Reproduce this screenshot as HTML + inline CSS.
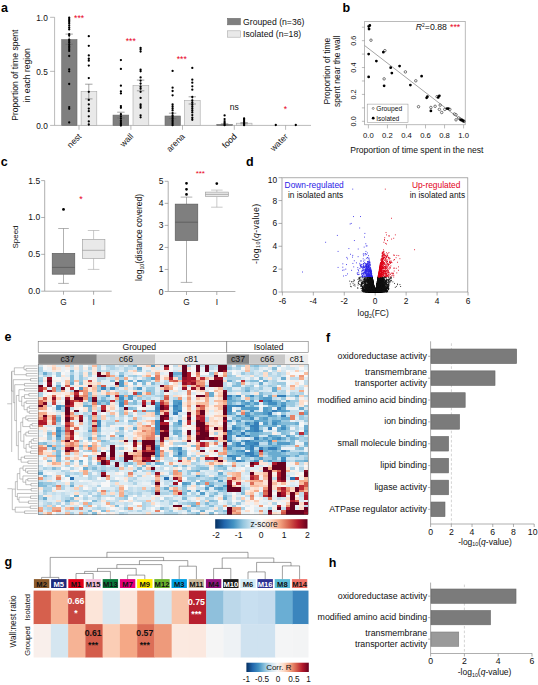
<!DOCTYPE html>
<html lang="en"><head><meta charset="utf-8"><title>Figure</title>
<style>html,body{margin:0;padding:0;background:#fff;}svg{display:block;}text{font-family:"Liberation Sans",Arial,sans-serif;}</style></head>
<body>
<svg width="538" height="685" viewBox="0 0 538 685">
<rect width="538" height="685" fill="#fff"/>
<text x="1.1" y="11.9" font-size="12.5" fill="#000" font-weight="bold">a</text>
<text x="17.6" y="75.2" font-size="8.6" text-anchor="middle" fill="#111" transform="rotate(-90 17.6 75.2)">Proportion of time spent</text>
<text x="29.6" y="75.2" font-size="8.6" text-anchor="middle" fill="#111" transform="rotate(-90 29.6 75.2)">in each region</text>
<path d="M54.6 17.3L54.6 125.4" stroke="#8c8c8c" stroke-width="0.6" fill="none" />
<path d="M54.6 125.4L311 125.4" stroke="#8c8c8c" stroke-width="0.6" fill="none" />
<path d="M50.1 125.4L54.6 125.4" stroke="#8c8c8c" stroke-width="0.6" fill="none" />
<text x="47.8" y="129" font-size="8.3" text-anchor="end" fill="#111">0.0</text>
<path d="M50.1 71.35L54.6 71.35" stroke="#8c8c8c" stroke-width="0.6" fill="none" />
<text x="47.8" y="74.95" font-size="8.3" text-anchor="end" fill="#111">0.5</text>
<path d="M50.1 17.3L54.6 17.3" stroke="#8c8c8c" stroke-width="0.6" fill="none" />
<text x="47.8" y="20.9" font-size="8.3" text-anchor="end" fill="#111">1.0</text>
<path d="M79 125.4L79 129.8" stroke="#8c8c8c" stroke-width="0.6" fill="none" />
<text x="82" y="137" font-size="8.6" text-anchor="end" fill="#111" transform="rotate(-45 82 137)">nest</text>
<path d="M130.9 125.4L130.9 129.8" stroke="#8c8c8c" stroke-width="0.6" fill="none" />
<text x="133.9" y="137" font-size="8.6" text-anchor="end" fill="#111" transform="rotate(-45 133.9 137)">wall</text>
<path d="M182.5 125.4L182.5 129.8" stroke="#8c8c8c" stroke-width="0.6" fill="none" />
<text x="185.5" y="137" font-size="8.6" text-anchor="end" fill="#111" transform="rotate(-45 185.5 137)">arena</text>
<path d="M234.3 125.4L234.3 129.8" stroke="#8c8c8c" stroke-width="0.6" fill="none" />
<text x="237.3" y="137" font-size="8.6" text-anchor="end" fill="#111" transform="rotate(-45 237.3 137)">food</text>
<path d="M285.6 125.4L285.6 129.8" stroke="#8c8c8c" stroke-width="0.6" fill="none" />
<text x="288.6" y="137" font-size="8.6" text-anchor="end" fill="#111" transform="rotate(-45 288.6 137)">water</text>
<rect x="61.7" y="39.6" width="15.3" height="85.8" fill="#7f7f7f" stroke="#6a6a6a" stroke-width="0.6"/>
<rect x="81.1" y="91.4" width="15.7" height="34" fill="#e9e9e9" stroke="#a9a9a9" stroke-width="0.6"/>
<rect x="113" y="115.1" width="15.7" height="10.3" fill="#7f7f7f" stroke="#6a6a6a" stroke-width="0.6"/>
<rect x="133" y="85.6" width="15.8" height="39.8" fill="#e9e9e9" stroke="#a9a9a9" stroke-width="0.6"/>
<rect x="165" y="116" width="15.4" height="9.4" fill="#7f7f7f" stroke="#6a6a6a" stroke-width="0.6"/>
<rect x="184.5" y="100.4" width="15.7" height="25" fill="#e9e9e9" stroke="#a9a9a9" stroke-width="0.6"/>
<rect x="216.8" y="124.4" width="15.6" height="1" fill="#7f7f7f" stroke="#6a6a6a" stroke-width="0.6"/>
<rect x="236.3" y="123.2" width="15.7" height="2.2" fill="#e9e9e9" stroke="#a9a9a9" stroke-width="0.6"/>
<path d="M69.2 34.1V44.3M65.5 34.1h7.4M65.5 44.3h7.4" stroke="#666" stroke-width="0.6" fill="none"/>
<path d="M88.8 84.2V98.9M85.1 84.2h7.4M85.1 98.9h7.4" stroke="#666" stroke-width="0.6" fill="none"/>
<path d="M120.9 112.2V118M117.2 112.2h7.4M117.2 118h7.4" stroke="#666" stroke-width="0.6" fill="none"/>
<path d="M140.6 80.1V90.8M136.9 80.1h7.4M136.9 90.8h7.4" stroke="#666" stroke-width="0.6" fill="none"/>
<path d="M172.6 113.2V118.6M168.9 113.2h7.4M168.9 118.6h7.4" stroke="#666" stroke-width="0.6" fill="none"/>
<path d="M192.3 96.8V104M188.6 96.8h7.4M188.6 104h7.4" stroke="#666" stroke-width="0.6" fill="none"/>
<path d="M224.6 123.8V125M220.9 123.8h7.4M220.9 125h7.4" stroke="#666" stroke-width="0.6" fill="none"/>
<path d="M244.1 122.6V123.9M240.4 122.6h7.4M240.4 123.9h7.4" stroke="#666" stroke-width="0.6" fill="none"/>
<path d="M69.2 17.77h0M69.2 19.2h0M69.2 20.63h0M69.2 21.86h0M69.2 23.29h0M69.2 25.33h0M69.2 27.38h0M69.2 29.42h0M69.2 34.13h0M69.2 35.56h0M69.2 39.65h0M69.2 41.08h0M69.2 42.71h0M69.2 44.76h0M69.2 46.39h0M69.2 47.82h0M69.2 49.26h0M69.2 50.89h0M69.2 56h0M69.2 69.29h0M69.2 71.34h0M69.2 84.01h0M69.2 107.12h0M69.2 108.75h0M69.2 122.45h0M88.8 36.17h0M88.8 45.78h0M88.8 55.39h0M88.8 58.66h0M88.8 60.71h0M88.8 65.61h0M88.8 78.08h0M88.8 91.78h0M88.8 99.96h0M88.8 104.46h0M88.8 108.55h0M88.8 111.21h0M88.8 116.32h0M88.8 121.43h0M88.8 124.5h0M120.9 60.09h0M120.9 68.88h0M120.9 85.65h0M120.9 91.37h0M120.9 93.42h0M120.9 106.09h0M120.9 107.73h0M120.9 114.27h0M120.9 116.32h0M120.9 118.36h0M120.9 120.41h0M120.9 122.04h0M120.9 123.47h0M120.9 124.5h0M120.9 125.52h0M140.6 47.82h0M140.6 49.26h0M140.6 51.5h0M140.6 69.7h0M140.6 71.34h0M140.6 77.47h0M140.6 80.54h0M140.6 83.6h0M140.6 86.67h0M140.6 88.72h0M140.6 91.78h0M140.6 97.92h0M140.6 104.46h0M140.6 106.09h0M140.6 107.73h0M140.6 115.3h0M140.6 117.34h0M172.6 70.93h0M172.6 87.65h0M172.6 91h0M172.6 95.35h0M172.6 104.38h0M172.6 106.39h0M172.6 108.4h0M172.6 110.4h0M172.6 113.08h0M172.6 115.42h0M172.6 117.1h0M172.6 118.77h0M172.6 120.44h0M172.6 121.78h0M172.6 123.12h0M172.6 124.12h0M172.6 125.13h0M192.3 67.92h0M192.3 79.63h0M192.3 82.64h0M192.3 86.32h0M192.3 89.66h0M192.3 97.02h0M192.3 100.37h0M192.3 102.38h0M192.3 104.38h0M192.3 106.39h0M192.3 108.4h0M192.3 110.4h0M192.3 112.41h0M192.3 115.09h0M192.3 117.77h0M192.3 119.77h0M224.6 115.42h0M224.6 119.1h0M224.6 121.11h0M224.6 122.45h0M224.6 123.45h0M224.6 124.12h0M224.6 124.79h0M224.6 125.13h0M244.1 118.43h0M244.1 119.77h0M244.1 121.11h0M244.1 122.11h0M244.1 123.12h0M244.1 123.79h0M244.1 124.46h0M244.1 125.13h0M275.8 125h0M295.8 125h0" stroke="#000" stroke-width="2.3" stroke-linecap="round" fill="none"/>
<text x="79.1" y="21.3" font-size="8.6" text-anchor="middle" fill="#e8001c">***</text>
<text x="130.8" y="43.6" font-size="8.6" text-anchor="middle" fill="#e8001c">***</text>
<text x="181.8" y="62.4" font-size="8.6" text-anchor="middle" fill="#e8001c">***</text>
<text x="234.3" y="109.7" font-size="8.6" text-anchor="middle" fill="#111">ns</text>
<text x="285.5" y="111.5" font-size="8.6" text-anchor="middle" fill="#e8001c">*</text>
<rect x="227.6" y="18.4" width="12.7" height="6.4" fill="#7f7f7f" stroke="#6a6a6a" stroke-width="0.6"/>
<text x="243" y="25" font-size="8.68" fill="#111">Grouped (n=36)</text>
<rect x="227.6" y="30.8" width="12.7" height="6.4" fill="#e9e9e9" stroke="#a9a9a9" stroke-width="0.6"/>
<text x="243" y="37.2" font-size="8.68" fill="#111">Isolated (n=18)</text>
<text x="342.6" y="11.8" font-size="12.5" fill="#000" font-weight="bold">b</text>
<rect x="364.7" y="21.6" width="100.5" height="103.2" fill="none" stroke="#8e8e8e" stroke-width="0.6"/>
<text x="330" y="71.1" font-size="8.45" text-anchor="middle" fill="#111" transform="rotate(-90 330 71.1)">Proportion of time</text>
<text x="340.2" y="71.2" font-size="8.5" text-anchor="middle" fill="#111" transform="rotate(-90 340.2 71.2)">spent near the wall</text>
<path d="M361.9 121.3L364.7 121.3" stroke="#8e8e8e" stroke-width="0.6" fill="none" />
<text x="356.4" y="121.3" font-size="7.3" text-anchor="middle" fill="#111" transform="rotate(-90 356.4 121.3)">0.0</text>
<path d="M361.9 107.86L364.7 107.86" stroke="#8e8e8e" stroke-width="0.6" fill="none" />
<path d="M361.9 94.42L364.7 94.42" stroke="#8e8e8e" stroke-width="0.6" fill="none" />
<text x="356.4" y="94.42" font-size="7.3" text-anchor="middle" fill="#111" transform="rotate(-90 356.4 94.42)">0.2</text>
<path d="M361.9 80.98L364.7 80.98" stroke="#8e8e8e" stroke-width="0.6" fill="none" />
<path d="M361.9 67.54L364.7 67.54" stroke="#8e8e8e" stroke-width="0.6" fill="none" />
<text x="356.4" y="67.54" font-size="7.3" text-anchor="middle" fill="#111" transform="rotate(-90 356.4 67.54)">0.4</text>
<path d="M361.9 54.1L364.7 54.1" stroke="#8e8e8e" stroke-width="0.6" fill="none" />
<path d="M361.9 40.66L364.7 40.66" stroke="#8e8e8e" stroke-width="0.6" fill="none" />
<text x="356.4" y="40.66" font-size="7.3" text-anchor="middle" fill="#111" transform="rotate(-90 356.4 40.66)">0.6</text>
<path d="M361.9 27.22L364.7 27.22" stroke="#8e8e8e" stroke-width="0.6" fill="none" />
<path d="M368.4 124.8L368.4 128.4" stroke="#8e8e8e" stroke-width="0.6" fill="none" />
<text x="368.4" y="137.9" font-size="7.7" text-anchor="middle" fill="#111">0.0</text>
<path d="M387.44 124.8L387.44 128.4" stroke="#8e8e8e" stroke-width="0.6" fill="none" />
<text x="387.44" y="137.9" font-size="7.7" text-anchor="middle" fill="#111">0.2</text>
<path d="M406.48 124.8L406.48 128.4" stroke="#8e8e8e" stroke-width="0.6" fill="none" />
<text x="406.48" y="137.9" font-size="7.7" text-anchor="middle" fill="#111">0.4</text>
<path d="M425.52 124.8L425.52 128.4" stroke="#8e8e8e" stroke-width="0.6" fill="none" />
<text x="425.52" y="137.9" font-size="7.7" text-anchor="middle" fill="#111">0.6</text>
<path d="M444.56 124.8L444.56 128.4" stroke="#8e8e8e" stroke-width="0.6" fill="none" />
<text x="444.56" y="137.9" font-size="7.7" text-anchor="middle" fill="#111">0.8</text>
<path d="M463.6 124.8L463.6 128.4" stroke="#8e8e8e" stroke-width="0.6" fill="none" />
<text x="463.6" y="137.9" font-size="7.7" text-anchor="middle" fill="#111">1.0</text>
<text x="416.8" y="152.7" font-size="8.6" text-anchor="middle" fill="#111">Proportion of time spent in the nest</text>
<path d="M364.7 45.6L464.9 122.9" stroke="#666" stroke-width="0.6" fill="none" />
<circle cx="370.97" cy="40.2" r="1.25" fill="#fff" stroke="#222" stroke-width="0.6"/><circle cx="384.89" cy="50.64" r="1.25" fill="#fff" stroke="#222" stroke-width="0.6"/><circle cx="384.12" cy="78.86" r="1.25" fill="#fff" stroke="#222" stroke-width="0.6"/><circle cx="405.38" cy="71.9" r="1.25" fill="#fff" stroke="#222" stroke-width="0.6"/><circle cx="415.81" cy="80.79" r="1.25" fill="#fff" stroke="#222" stroke-width="0.6"/><circle cx="418.52" cy="106.69" r="1.25" fill="#fff" stroke="#222" stroke-width="0.6"/><circle cx="430.89" cy="107.46" r="1.25" fill="#fff" stroke="#222" stroke-width="0.6"/><circle cx="435.14" cy="106.3" r="1.25" fill="#fff" stroke="#222" stroke-width="0.6"/><circle cx="437.07" cy="96.64" r="1.25" fill="#fff" stroke="#222" stroke-width="0.6"/><circle cx="439.39" cy="109.39" r="1.25" fill="#fff" stroke="#222" stroke-width="0.6"/><circle cx="440.17" cy="105.14" r="1.25" fill="#fff" stroke="#222" stroke-width="0.6"/><circle cx="441.71" cy="112.49" r="1.25" fill="#fff" stroke="#222" stroke-width="0.6"/><circle cx="444.8" cy="109.39" r="1.25" fill="#fff" stroke="#222" stroke-width="0.6"/><circle cx="449.83" cy="109.39" r="1.25" fill="#fff" stroke="#222" stroke-width="0.6"/><circle cx="454.47" cy="114.03" r="1.25" fill="#fff" stroke="#222" stroke-width="0.6"/><circle cx="456.01" cy="114.8" r="1.25" fill="#fff" stroke="#222" stroke-width="0.6"/><circle cx="456.01" cy="119.83" r="1.25" fill="#fff" stroke="#222" stroke-width="0.6"/><circle cx="458.72" cy="117.9" r="1.25" fill="#fff" stroke="#222" stroke-width="0.6"/><circle cx="460.27" cy="119.06" r="1.25" fill="#fff" stroke="#222" stroke-width="0.6"/><circle cx="461.43" cy="119.83" r="1.25" fill="#fff" stroke="#222" stroke-width="0.6"/><circle cx="462.59" cy="120.6" r="1.25" fill="#fff" stroke="#222" stroke-width="0.6"/><circle cx="464.13" cy="121.38" r="1.25" fill="#fff" stroke="#222" stroke-width="0.6"/>
<path d="M368.65 26.29h0M369.81 25.51h0M369.04 28.99h0M368.65 54.12h0M376.39 61.07h0M383.34 52.18h0M390.69 67.65h0M391.85 73.06h0M399.58 66.1h0M368.65 76.92h0M384.12 85.81h0M410.4 85.04h0M421.61 76.15h0M426.64 97.8h0M427.41 96.64h0M430.89 110.94h0M439.39 95.86h0M438.23 97.41h0M447.12 108.62h0M448.28 108.62h0M460.65 119.83h0M462.2 120.22h0M463.36 120.99h0" stroke="#000" stroke-width="2.8" stroke-linecap="round" fill="none"/>
<text x="415.8" y="30.3" font-size="8.7" fill="#111"><tspan font-style="italic">R</tspan><tspan font-size="5" dy="-3.2">2</tspan><tspan dy="3.2">=0.88</tspan> <tspan fill="#e8001c" dx="0.8">***</tspan></text>
<rect x="367.2" y="104.1" width="40.8" height="18.2" fill="#fff" stroke="#8e8e8e" stroke-width="0.5"/>
<circle cx="373.2" cy="108.4" r="1" fill="#fff" stroke="#333" stroke-width="0.5"/>
<path d="M373.2 118.2h0" stroke="#000" stroke-width="2.8" stroke-linecap="round" fill="none"/>
<text x="376.2" y="111.2" font-size="7.6" fill="#111" textLength="26" lengthAdjust="spacingAndGlyphs">Grouped</text>
<text x="376.2" y="120.9" font-size="7.6" fill="#111" textLength="23.1" lengthAdjust="spacingAndGlyphs">Isolated</text>
<text x="0.7" y="166.4" font-size="12.5" fill="#000" font-weight="bold">c</text>
<path d="M44.7 180.6L44.7 291.2" stroke="#8c8c8c" stroke-width="0.7" fill="none" />
<path d="M44.7 291.2L111.7 291.2" stroke="#8c8c8c" stroke-width="0.7" fill="none" />
<path d="M41.2 291.2L44.7 291.2" stroke="#8c8c8c" stroke-width="0.7" fill="none" />
<text x="40.2" y="294.2" font-size="8.5" text-anchor="end" fill="#111">0.0</text>
<path d="M41.2 254.33L44.7 254.33" stroke="#8c8c8c" stroke-width="0.7" fill="none" />
<text x="40.2" y="257.33" font-size="8.5" text-anchor="end" fill="#111">0.5</text>
<path d="M41.2 217.47L44.7 217.47" stroke="#8c8c8c" stroke-width="0.7" fill="none" />
<text x="40.2" y="220.47" font-size="8.5" text-anchor="end" fill="#111">1.0</text>
<path d="M41.2 180.6L44.7 180.6" stroke="#8c8c8c" stroke-width="0.7" fill="none" />
<text x="40.2" y="183.6" font-size="8.5" text-anchor="end" fill="#111">1.5</text>
<path d="M63.5 291.2L63.5 294.7" stroke="#8c8c8c" stroke-width="0.7" fill="none" />
<text x="63.5" y="305.2" font-size="8.3" text-anchor="middle" fill="#111">G</text>
<path d="M93.6 291.2L93.6 294.7" stroke="#8c8c8c" stroke-width="0.7" fill="none" />
<text x="93.6" y="305.2" font-size="8.3" text-anchor="middle" fill="#111">I</text>
<text x="17.9" y="237" font-size="8.0" text-anchor="middle" fill="#111" transform="rotate(-90 17.9 237)">Speed</text>
<path d="M63.5 228.5V253.3M63.5 274.2V283.4M58.2 228.5H68.8M58.2 283.4H68.8" stroke="#7d7d7d" stroke-width="0.6" fill="none"/>
<rect x="52.2" y="253.3" width="22.6" height="20.9" fill="#7f7f7f" stroke="#555" stroke-width="0.6"/>
<path d="M52.2 267.4L74.8 267.4" stroke="#555" stroke-width="0.7" fill="none" />
<path d="M93.6 230.5V239.3M93.6 258.4V269.4M87.8 230.5H99.4M87.8 269.4H99.4" stroke="#a5a5a5" stroke-width="0.6" fill="none"/>
<rect x="82.3" y="239.3" width="22.6" height="19.1" fill="#e9e9e9" stroke="#9a9a9a" stroke-width="0.6"/>
<path d="M82.3 250.3L104.9 250.3" stroke="#9a9a9a" stroke-width="0.7" fill="none" />
<path d="M63.5 209.4h0" stroke="#000" stroke-width="2.8" stroke-linecap="round" fill="none"/>
<text x="81" y="202.2" font-size="9" text-anchor="middle" fill="#e8001c">*</text>
<path d="M168.2 181.3L168.2 291.5" stroke="#8c8c8c" stroke-width="0.7" fill="none" />
<path d="M168.2 291.5L235.4 291.5" stroke="#8c8c8c" stroke-width="0.7" fill="none" />
<path d="M164.7 291.5L168.2 291.5" stroke="#8c8c8c" stroke-width="0.7" fill="none" />
<text x="163.6" y="294.5" font-size="8.5" text-anchor="end" fill="#111">0</text>
<path d="M164.7 269.46L168.2 269.46" stroke="#8c8c8c" stroke-width="0.7" fill="none" />
<text x="163.6" y="272.46" font-size="8.5" text-anchor="end" fill="#111">1</text>
<path d="M164.7 247.42L168.2 247.42" stroke="#8c8c8c" stroke-width="0.7" fill="none" />
<text x="163.6" y="250.42" font-size="8.5" text-anchor="end" fill="#111">2</text>
<path d="M164.7 225.38L168.2 225.38" stroke="#8c8c8c" stroke-width="0.7" fill="none" />
<text x="163.6" y="228.38" font-size="8.5" text-anchor="end" fill="#111">3</text>
<path d="M164.7 203.34L168.2 203.34" stroke="#8c8c8c" stroke-width="0.7" fill="none" />
<text x="163.6" y="206.34" font-size="8.5" text-anchor="end" fill="#111">4</text>
<path d="M164.7 181.3L168.2 181.3" stroke="#8c8c8c" stroke-width="0.7" fill="none" />
<text x="163.6" y="184.3" font-size="8.5" text-anchor="end" fill="#111">5</text>
<path d="M186.5 291.5L186.5 295" stroke="#8c8c8c" stroke-width="0.7" fill="none" />
<text x="186.5" y="305.2" font-size="8.3" text-anchor="middle" fill="#111">G</text>
<path d="M216.8 291.5L216.8 295" stroke="#8c8c8c" stroke-width="0.7" fill="none" />
<text x="216.8" y="305.2" font-size="8.3" text-anchor="middle" fill="#111">I</text>
<text x="142.0" y="237.4" font-size="8.5" fill="#111" text-anchor="middle" textLength="87" lengthAdjust="spacing" transform="rotate(-90 142 237.4)">log<tspan font-size="5.3" dy="1.6">10</tspan><tspan dy="-1.6">(distance covered)</tspan></text>
<path d="M186.5 197.1V204.1M186.5 240.5V282.4M180.7 197.1H192.3M180.7 282.4H192.3" stroke="#7d7d7d" stroke-width="0.6" fill="none"/>
<rect x="175.2" y="204.1" width="22.6" height="36.4" fill="#7f7f7f" stroke="#555" stroke-width="0.6"/>
<path d="M175.2 222.2L197.8 222.2" stroke="#555" stroke-width="0.7" fill="none" />
<path d="M216.85 190.1V192.1M216.85 196.6V207.2M211.1 190.1H222.6M211.1 207.2H222.6" stroke="#a5a5a5" stroke-width="0.6" fill="none"/>
<rect x="205.3" y="192.1" width="23.1" height="4.5" fill="#e9e9e9" stroke="#9a9a9a" stroke-width="0.6"/>
<path d="M205.3 194.4L228.4 194.4" stroke="#9a9a9a" stroke-width="0.7" fill="none" />
<path d="M186.5 183.3h0M186.5 189.3h0M186.5 194.4h0M216.8 183.6h0" stroke="#000" stroke-width="2.8" stroke-linecap="round" fill="none"/>
<text x="200.3" y="176.2" font-size="8" text-anchor="middle" fill="#e8001c">***</text>
<text x="245.9" y="166.4" font-size="12.5" fill="#000" font-weight="bold">d</text>
<rect x="282" y="177.8" width="185.8" height="114.2" fill="none" stroke="#8a8a8a" stroke-width="0.7"/>
<path d="M278.5 292L282 292" stroke="#8c8c8c" stroke-width="0.7" fill="none" />
<text x="277.2" y="295" font-size="8.4" text-anchor="end" fill="#111">0</text>
<path d="M278.5 269.14L282 269.14" stroke="#8c8c8c" stroke-width="0.7" fill="none" />
<text x="277.2" y="272.14" font-size="8.4" text-anchor="end" fill="#111">2</text>
<path d="M278.5 246.28L282 246.28" stroke="#8c8c8c" stroke-width="0.7" fill="none" />
<text x="277.2" y="249.28" font-size="8.4" text-anchor="end" fill="#111">4</text>
<path d="M278.5 223.42L282 223.42" stroke="#8c8c8c" stroke-width="0.7" fill="none" />
<text x="277.2" y="226.42" font-size="8.4" text-anchor="end" fill="#111">6</text>
<path d="M278.5 200.56L282 200.56" stroke="#8c8c8c" stroke-width="0.7" fill="none" />
<text x="277.2" y="203.56" font-size="8.4" text-anchor="end" fill="#111">8</text>
<path d="M278.5 177.7L282 177.7" stroke="#8c8c8c" stroke-width="0.7" fill="none" />
<text x="277.2" y="182.9" font-size="8.4" text-anchor="end" fill="#111">10</text>
<path d="M282.38 292L282.38 295.5" stroke="#8c8c8c" stroke-width="0.7" fill="none" />
<text x="282.38" y="304.4" font-size="8.4" text-anchor="middle" fill="#111">-6</text>
<path d="M313.32 292L313.32 295.5" stroke="#8c8c8c" stroke-width="0.7" fill="none" />
<text x="313.32" y="304.4" font-size="8.4" text-anchor="middle" fill="#111">-4</text>
<path d="M344.26 292L344.26 295.5" stroke="#8c8c8c" stroke-width="0.7" fill="none" />
<text x="344.26" y="304.4" font-size="8.4" text-anchor="middle" fill="#111">-2</text>
<path d="M375.2 292L375.2 295.5" stroke="#8c8c8c" stroke-width="0.7" fill="none" />
<text x="375.2" y="304.4" font-size="8.4" text-anchor="middle" fill="#111">0</text>
<path d="M406.14 292L406.14 295.5" stroke="#8c8c8c" stroke-width="0.7" fill="none" />
<text x="406.14" y="304.4" font-size="8.4" text-anchor="middle" fill="#111">2</text>
<path d="M437.08 292L437.08 295.5" stroke="#8c8c8c" stroke-width="0.7" fill="none" />
<text x="437.08" y="304.4" font-size="8.4" text-anchor="middle" fill="#111">4</text>
<path d="M468.02 292L468.02 295.5" stroke="#8c8c8c" stroke-width="0.7" fill="none" />
<text x="468.02" y="304.4" font-size="8.4" text-anchor="middle" fill="#111">6</text>
<text x="373.2" y="316.0" font-size="8.5" fill="#111" text-anchor="middle">log<tspan font-size="5.3" dy="1.6">2</tspan><tspan dy="-1.6">(FC)</tspan></text>
<text x="258.6" y="233.9" font-size="8.8" fill="#111" text-anchor="middle" textLength="60" lengthAdjust="spacing" transform="rotate(-90 258.6 233.9)">-log<tspan font-size="5.4" dy="1.6">10</tspan><tspan dy="-1.6">(</tspan><tspan font-style="italic">q</tspan>-value)</text>
<text x="284.6" y="187.6" font-size="8.4" fill="#2a22e6">Down-regulated</text>
<text x="287.9" y="198.4" font-size="8.3" fill="#111">in isolated ants</text>
<text x="411.9" y="187.6" font-size="8.4" fill="#e2001a">Up-regulated</text>
<text x="409.7" y="198.4" font-size="8.3" fill="#111">in isolated ants</text>
<path d="M373.77 291.6h0M380.38 286.99h0M380.97 291.55h0M384.48 290.68h0M365.78 289.05h0M373.5 291.46h0M376.92 286.79h0M372.1 290.97h0M377.12 291.47h0M377.69 288.56h0M370.7 284h0M374.93 291.31h0M374.61 291.6h0M383.36 284.88h0M367.18 284.34h0M371.77 288.29h0M374.19 290.61h0M385.54 287.07h0M375.78 291.59h0M373.76 291.59h0M375.12 291.6h0M376.22 288.57h0M378.27 291.28h0M374.53 291.57h0M381 284.61h0M383.36 278.97h0M374.37 290.25h0M382.22 288.28h0M381.49 291.58h0M376.05 291.6h0M378.39 290.49h0M364 290.86h0M375.27 291.6h0M385.43 283.34h0M377.42 291.29h0M376.77 285.09h0M372.11 291.6h0M374.26 291.5h0M373.48 286.69h0M371.65 291.46h0M380.39 291.6h0M374.41 289.13h0M373.96 287.72h0M371.78 282.8h0M371.74 291.11h0M379.87 289.41h0M383.65 291.42h0M368.17 291.53h0M367.98 290.32h0M378.01 277.93h0M371.19 290.21h0M382.41 290.61h0M374.1 291.55h0M372.62 291.17h0M368.08 289.29h0M369.49 287.83h0M381.16 291.6h0M376.24 289.78h0M379.84 286.37h0M374.64 291.58h0M376.81 289.98h0M375.97 290.87h0M368.53 288.86h0M368.99 280.89h0M384.69 280.28h0M385.19 291.41h0M377.22 291.59h0M370.48 291.55h0M376.93 285.61h0M371.36 290.6h0M380.24 290.33h0M375.01 291.57h0M370.23 288.57h0M376 291.32h0M383.94 291.31h0M368.87 291.59h0M383.15 291.56h0M367.88 291.59h0M373.92 291.18h0M371.44 291.34h0M379.89 291.53h0M376.15 291.44h0M378.39 288.98h0M377.45 291.33h0M366.19 291.39h0M370.89 290.4h0M376.27 291.6h0M375.44 291.6h0M369.09 291.07h0M375.43 291.6h0M375.7 291.53h0M380.66 286.84h0M377.2 291.33h0M379.95 291.6h0M373.84 290.84h0M375.17 291.3h0M371.4 291.56h0M376.49 288.02h0M378.12 291.56h0M371.54 287.38h0M377.92 283.85h0M375.13 291.48h0M383.53 291.56h0M376.08 290.11h0M381.62 286.65h0M371.35 286.74h0M377.98 285.05h0M377.62 291.59h0M374.22 290.52h0M376.9 290.55h0M365.23 287.52h0M374.75 291.6h0M372.52 279.63h0M376.59 291.6h0M381.68 290.16h0M378.44 280.77h0M365.92 291.55h0M367.32 290.85h0M371.33 287.93h0M378.97 291.59h0M373.21 284.99h0M372.22 278.68h0M375.33 291.6h0M377.8 290.84h0M372.5 291.43h0M372.58 290.97h0M376.84 285.57h0M377.53 290.94h0M378.66 287.52h0M382.24 287.93h0M380.55 291.58h0M377.71 289.56h0M382.82 290.33h0M375.25 291.2h0M381.77 291.6h0M378.18 287.85h0M379.35 291.45h0M374.63 291.6h0M374.38 290.89h0M376.17 290.45h0M376.06 291.03h0M379.99 284.9h0M379.91 291h0M383.63 291.6h0M383.54 290.39h0M381.49 291.6h0M372.14 291.52h0M377.86 291.41h0M370.47 291.39h0M376.88 284.51h0M378.79 289.77h0M382.09 288.47h0M378.67 291.59h0M388.1 284.51h0M378.71 291.6h0M374.24 291.6h0M378.9 279.8h0M377.79 289.81h0M383.91 288.35h0M376.3 288.93h0M375.37 291.6h0M371.44 277.26h0M372.84 289.14h0M375.88 291.53h0M365.85 279.73h0M376.36 290.93h0M388.51 284.78h0M369.32 291.48h0M372.24 284.91h0M379.08 290.24h0M375.65 291.2h0M375.23 291.51h0M383.96 290.61h0M368.48 277.07h0M370.29 291.47h0M375.27 291.27h0M374.02 286.6h0M379.7 291.32h0M367.94 290.02h0M379.25 280.37h0M372.72 288.95h0M376.28 291.54h0M374.97 291.6h0M370.25 291.5h0M373.77 290.69h0M377.57 289.17h0M376.76 288.82h0M372.78 291.53h0M374.7 291.34h0M373.17 291.22h0M378.33 288.73h0M377.59 284.77h0M373.37 291.2h0M368.81 291.51h0M376.08 289.45h0M376.89 290.91h0M380.64 290.9h0M377.07 289.65h0M375.13 291.6h0M369.49 290.96h0M381.65 279.83h0M380.85 282.96h0M371.13 281.81h0M378.58 291.56h0M379.29 289.14h0M373.6 291.6h0M376.2 291.6h0M369.78 291.56h0M370.45 291.54h0M371.64 291.57h0M387.71 284.45h0M380.08 291.33h0M374.6 291.22h0M368 284.85h0M373.26 289.51h0M371.95 291.6h0M373.39 283.19h0M382.25 291.6h0M372.1 290.57h0M387 287.55h0M375.88 291.47h0M379.31 286.35h0M372.01 290.14h0M383.87 291.31h0M375.12 291.53h0M375.31 291.52h0M378.61 282.27h0M368.17 291.54h0M377.58 287.91h0M376.54 291.36h0M380.35 278.83h0M379.01 291.2h0M370.31 283.45h0M380.15 286.04h0M366.17 290.95h0M374.93 291.22h0M375.08 291.59h0M374.37 290.69h0M371.47 288.43h0M373.84 291.6h0M377.84 291.57h0M379.82 291.6h0M366.94 277.31h0M375.03 291.58h0M370.96 291.6h0M366.87 291.57h0M375.95 289.95h0M372.2 288.11h0M375.79 290.8h0M376.56 291.6h0M375.01 291.58h0M377.14 285.12h0M383.87 291.6h0M372.4 291.6h0M368.73 291.46h0M370.06 291.26h0M379.47 282.68h0M372.51 291.6h0M373.17 289.41h0M378.67 277.92h0M385.2 290.79h0M376.19 291.31h0M378.23 288.68h0M374.94 291.59h0M373.7 289.8h0M375.37 291.37h0M377.74 282.11h0M375.47 291.42h0M376.99 291.4h0M378.33 290.78h0M369.56 291.58h0M377.71 279.17h0M377.72 291.44h0M376.91 290.95h0M369.71 282.45h0M383.08 291.37h0M383.48 290.72h0M373.21 288.53h0M370.16 289.54h0M378.22 290.06h0M373.42 291.51h0M369.76 290.01h0M381.02 281.24h0M376.17 287.94h0M372.65 289.85h0M373.84 288.25h0M369.53 291.42h0M372.97 291.59h0M380.4 290.72h0M375.94 291.36h0M376.86 291.46h0M374.49 291.58h0M376.97 291.57h0M373.51 290.93h0M371.51 290.96h0M368.58 288.55h0M377.13 285.73h0M381.84 288.93h0M375.33 291.6h0M376 291.49h0M369.36 283.33h0M366.89 291.6h0M369.51 291.55h0M379.06 291.6h0M382.96 291.51h0M372.66 291.2h0M368.28 291.49h0M369.29 282.84h0M367.49 291.39h0M372.79 290.78h0M380.45 291.02h0M379.36 288.69h0M379.19 287.49h0M374.78 291.55h0M367.59 289.9h0M381.05 287.22h0M384.63 285.89h0M368.95 290.99h0M377.86 291.19h0M368.43 291.6h0M373.22 291.6h0M375.39 291.23h0M369.39 285.7h0M373.58 291.01h0M375.4 291.6h0M373.31 291.25h0M370.89 291.33h0M377.07 290.65h0M383.36 281.54h0M372.48 289.3h0M380.48 289.33h0M364.21 286.17h0M373 291.53h0M375.77 291.05h0M375.64 291.6h0M373.88 289.48h0M368.44 288.65h0M371.32 284.54h0M374.24 289.63h0M370.98 291.54h0M379.33 290.09h0M369.87 291.55h0M373.65 290h0M372.86 280.48h0M378.89 289.57h0M371.07 287.37h0M383.23 291.6h0M374.72 291.09h0M373.96 288.82h0M380.12 291.56h0M374.44 291.39h0M374.05 289.3h0M372.89 286.56h0M374.41 289.71h0M368.92 291.46h0M373.95 291.4h0M380.4 291.43h0M374.45 291.52h0M376.33 286.89h0M370.92 291.32h0M374.13 289.72h0M381.21 291.6h0M376.27 291.6h0M367.88 280.56h0M375.48 291.57h0M365.31 291.6h0M373.22 282.17h0M372.27 279.02h0M373.12 287.41h0M379.09 291.52h0M378.56 291.51h0M374.81 291.6h0M372.82 284.66h0M379.43 277.91h0M382.96 290.85h0M366.95 291.52h0M378.22 291.49h0M376.61 291.55h0M370.33 291.58h0M373.31 289.13h0M376.73 291.41h0M373.61 284.1h0M377.45 283.07h0M374.98 291.54h0M372.86 291.52h0M377.94 284.51h0M376.08 291.6h0M380.26 291.21h0M368.56 285.29h0M374.59 291.51h0M374.87 291.59h0M381.28 291.6h0M369.84 291.22h0M379.31 291.43h0M380.36 286.69h0M381.52 277.26h0M379.73 281.66h0M368.52 286.75h0M389.65 281.38h0M371.82 291.6h0M382.29 291.6h0M369.28 281.25h0M366.23 291.6h0M379.85 290.78h0M379.29 286.18h0M373.18 287.75h0M369.86 290.28h0M365.85 289.09h0M384.2 290.51h0M372.17 283.75h0M366.47 291.6h0M361.27 282.57h0M382.16 284.49h0M380.58 291.6h0M374.1 291.54h0M373.27 284.19h0M372.14 290.57h0M379.57 284.18h0M369.76 288.23h0M374.48 291.6h0M377.3 290.67h0M376.19 290.81h0M371.12 286.21h0M377.85 288.88h0M379.96 291.03h0M376.39 290.38h0M370.02 291.35h0M375.65 291.01h0M377.05 290.61h0M375.45 291.19h0M375.43 291.57h0M371.72 281.8h0M373.3 291.59h0M374.84 291.52h0M360.92 277.36h0M372.82 291.1h0M369.31 291.03h0M380.68 290.17h0M377.7 290.15h0M377.1 289.48h0M373.12 291.35h0M369.32 291.43h0M386.15 291.58h0M369.2 277.2h0M371.17 290.91h0M367.28 291.58h0M371.23 288.13h0M385.68 285.04h0M388.36 277.91h0M376.57 285.69h0M378.27 279.53h0M371.39 277.62h0M378.06 289.14h0M378.79 286.02h0M371.05 286.49h0M369.67 290.97h0M375.38 291.31h0M382.29 285.51h0M371.06 288.79h0M382.48 291.46h0M380.4 291.54h0M371.96 288.15h0M375.89 290.47h0M379.1 291.42h0M374.93 291.52h0M378.74 291.59h0M369.51 289.49h0M378.27 278.15h0M372.24 283.59h0M372.7 290.32h0M379.15 282.79h0M374.34 291.3h0M376.3 291.31h0M380.97 284.81h0M380.36 289.13h0M372.58 291.17h0M375.32 291.59h0M383.23 291.3h0M375.87 290.28h0M371.01 280.4h0M372.39 291.01h0M371.53 289.52h0M376.07 290.3h0M374.39 291.49h0M375.38 291.28h0M370.41 291.25h0M374.45 291.2h0M377.26 291.5h0M372.29 291.59h0M380.08 290.58h0M379.6 291.51h0M376.14 288.71h0M373.4 291.59h0M374.97 291.48h0M371.78 285.96h0M375.31 291.47h0M374.05 289.81h0M375.57 291.6h0M376.72 291.6h0M378.17 281.81h0M383.2 286.8h0M377.27 285.22h0M375.96 289.87h0M376.55 291.58h0M374.22 290.06h0M374.73 291.54h0M373.42 291.07h0M378.15 288.55h0M367.41 291.15h0M380.08 291.24h0M374.08 290.32h0M375.52 291.55h0M370.57 288.09h0M374.98 291.52h0M365.99 291.56h0M376.49 291.6h0M374.49 291.43h0M378.94 290.29h0M376.26 287.27h0M375.19 291.17h0M377.66 290.26h0M377.77 280.93h0M370.38 285.08h0M375.24 291.6h0M376.83 291.52h0M368.24 291.49h0M372.94 291.31h0M379.36 290.06h0M370.13 291.35h0M386.3 281.81h0M372.62 291.6h0M376.46 286.4h0M376.54 291.53h0M375.13 291.33h0M376.55 289.59h0M381 288.09h0M369.96 291.52h0M373.49 291.35h0M375.99 291.25h0M367.42 290.8h0M381.62 291.2h0M377.83 287.13h0M380.29 286.51h0M380.34 291.32h0M380.87 287h0M371.44 291.58h0M382.6 287.88h0M369.83 287.43h0M377.27 281.48h0M374.74 291.56h0M375.51 291.57h0M382.65 289.97h0M373.65 290.08h0M375.05 291.47h0M376.5 289.02h0M383.64 279.3h0M369.51 291.58h0M382.65 291.1h0M365.16 291.56h0M372.53 291.55h0M370.86 290.61h0M368.19 279.99h0M380.05 290.11h0M371.37 281.61h0M371.75 286.42h0M380.54 290.12h0M372.72 291.6h0M377.75 288.6h0M379.16 286.66h0M375.77 290.12h0M372.2 291.38h0M376.16 290.76h0M361.45 284.44h0M378.71 281.42h0M366.02 290.57h0M375.96 290.81h0M379.36 291.59h0M372.64 290.41h0M378 290.74h0M374.76 291.54h0M382 291.28h0M379.51 281.6h0M387.07 287.01h0M378.5 284.73h0M376.31 290.39h0M380.49 278.84h0M376.84 290.14h0M369.56 291.41h0M370.9 290.4h0M377.38 290.57h0M382.7 285.26h0M378.71 291.6h0M368.8 291.6h0M381.94 291.54h0M373.48 291.6h0M372.91 289.57h0M367.53 290.47h0M374.96 291.41h0M374.42 289.03h0M371.2 291.59h0M378.14 289.18h0M371.88 290.96h0M373.14 283.71h0M374.49 291.58h0M368.69 290.51h0M377.13 284.31h0M382.26 279.37h0M384.28 280.55h0M364.66 278.63h0M375.89 291.37h0M374.76 291.42h0M380.57 285.06h0M369.06 291.16h0M375.3 291.58h0M368.19 291.37h0M371.28 278.47h0M370.61 291.14h0M372.52 291.6h0M372.49 291.59h0M379.32 290.38h0M375.77 291.57h0M377.58 279.69h0M379.84 287.92h0M379.07 284h0M380.65 291.52h0M371.25 290.93h0M372.03 285.58h0M375.7 291.6h0M381.6 284.2h0M374.67 291.28h0M375.41 291.31h0M377.78 286.59h0M371.58 291.17h0M374.96 291.33h0M367.75 291.25h0M381.51 277.42h0M369.86 283.38h0M371.77 291.47h0M371.88 290.09h0M376.4 291.51h0M367.2 286.22h0M385.25 291.1h0M372.5 284.04h0M384.01 287.88h0M380.27 291.42h0M375.22 291.35h0M381.26 288.82h0M383.78 284.92h0M378.01 286.39h0M379.73 289.89h0M378.13 291.4h0M376.94 288.15h0M375.96 289.97h0M368.55 291.41h0M366.45 289.7h0M380.99 278.62h0M373.6 287.78h0M371.9 277.96h0M369.87 290.46h0M377.72 285.46h0M382.57 286.41h0M378.28 279.65h0M375.54 291.44h0M366.2 291.56h0M374.79 291.6h0M367.28 291.6h0M378.89 291.59h0M373.1 281.09h0M379.8 290.28h0M374.59 291.58h0M375.57 291.3h0M381.46 291.59h0M371.45 279.38h0M375.37 291.51h0M379.57 285.99h0M370.61 290.28h0M379.72 278.15h0M372.94 289.55h0M368.89 288.04h0M379.04 291.29h0M373.55 291.56h0M373.19 283.1h0M374.13 291.6h0M377.59 288.74h0M378.19 279.25h0M380.01 277.05h0M380.71 289.35h0M372.69 291.59h0M373.85 285.55h0M381.52 289.55h0M375.18 291.6h0M364.13 282.55h0M377.8 281.64h0M372.94 291.6h0M371.21 291.53h0M376.3 290.63h0M369.38 285.71h0M376.62 291.59h0M373.41 291.32h0M381 291.33h0M373.73 291.59h0M382.1 286.59h0M378.75 290.32h0M377.03 291.57h0M375.92 289.84h0M375.2 291.6h0M371.62 282.94h0M375.69 291.34h0M373.59 289.33h0M373.19 290.81h0M374.48 291.47h0M377.2 287.28h0M376.58 291.57h0M376.45 286.37h0M385.06 283.04h0M372.98 289.05h0M372.74 285.85h0M382.6 291.29h0M367.07 291.54h0M369 278.43h0M370.24 289.83h0M370.76 291.15h0M368.55 291.57h0M377.18 290.14h0M368.1 289.78h0M373.11 282.98h0M377.81 287.31h0M372.58 284.04h0M375.34 291.6h0M383.03 280.17h0M380.06 289.98h0M379.53 291.57h0M376.34 290h0M374.21 291.6h0M376.77 284.96h0M372.63 288.98h0M371.6 291.55h0M375.35 291.21h0M384.93 288.27h0M369.51 288.07h0M366.06 277.92h0M379.37 287.65h0M380.61 289.64h0M373.31 288.94h0M375.2 291.6h0M369.88 284.76h0M377.02 289.87h0M377.34 291.52h0M365.93 289.98h0M370.92 291.54h0M375.45 291.6h0M373.59 284.81h0M373.36 291.56h0M377.78 291.25h0M370.88 291.3h0M378.68 280.02h0M381.5 291.38h0M374.92 291.48h0M375.27 291.24h0M370.68 291.31h0M374.98 291.53h0M383.21 290.6h0M368.84 281.68h0M383.83 289.57h0M364.78 289.87h0M383.07 291.13h0M370.45 284.62h0M377.63 291.59h0M369.58 283.31h0M370.2 291.21h0M369.69 291.54h0M374.75 291.04h0M369.3 285.05h0M374.87 291.36h0M375.76 291.6h0M368.42 290.29h0M374.53 291.55h0M383.04 290.24h0M376.46 289.99h0M372.52 291.51h0M374.17 289.49h0M373.85 291.6h0M381.05 282.2h0M376.38 290.76h0M370.37 291.6h0M378.16 286.02h0M376.78 291.52h0M378.92 282.79h0M381.15 278.68h0M373.76 289.53h0M374.95 291.44h0M378.18 291.48h0M386.79 291.59h0M372.84 285.68h0M377.68 291.52h0M374.12 288.24h0M373.44 291.59h0M380.76 291.15h0M375.19 291.45h0M375.8 291.2h0M374.65 290.97h0M373.59 290.63h0M377.62 282.05h0M373.27 291.59h0M373.3 289.48h0M376.8 288.4h0M381.13 280.21h0M374.27 290.51h0M372.17 288.63h0M371.4 291.44h0M367.55 281.96h0M375.28 291.17h0M375.7 291.58h0M379 291.6h0M375.08 291.45h0M379.1 288.12h0M372.35 288.9h0M375.89 291.17h0M376.63 288.62h0M364.84 287.09h0M381.01 288.29h0M363.47 289.44h0M372.02 291.57h0M363.09 291.6h0M372.76 289.28h0M381.29 282.56h0M379.81 282.6h0M371.73 291.53h0M369.57 291.26h0M376.81 291.59h0M375.28 291.56h0M373.97 289.05h0M372.63 291.31h0M377.56 291.18h0M375.97 290.5h0M378.66 284.84h0M371.84 291.42h0M375.14 291.6h0M374.34 291.03h0M371.02 291.15h0M377.11 290.99h0M376.91 284h0M373.5 291.57h0M379.03 283.98h0M374.51 291.58h0M369.05 291.1h0M371.59 291.56h0M371.2 291.52h0M373.64 291.29h0M379.37 291.59h0M376.2 290.89h0M371.98 291.33h0M382.14 291.13h0M376.26 290.26h0M375.33 291.6h0M383.7 291.45h0M378.61 289.6h0M376.74 290.66h0M381.73 290.97h0M374.94 291.2h0M373.51 290.63h0M374.98 291.6h0M371.41 290h0M375.46 291.58h0M377.47 291.56h0M381.55 291.6h0M379.03 288.88h0M375.61 291.51h0M375.86 290.01h0M373.54 285.92h0M378.59 289.63h0M372.89 289.61h0M369.96 291.6h0M379.05 288.18h0M369.06 284.43h0M377.41 280.36h0M371.36 291.1h0M370.94 291.6h0M372.87 291.6h0M378.56 287.8h0M375.92 291.59h0M378.27 288.78h0M385.33 290.45h0M378.86 289.83h0M377.96 286.91h0M372.01 291.41h0M374.75 291.37h0M367 287.69h0M379.89 288.12h0M371.37 291.53h0M384.64 286.05h0M376.2 290.26h0M375.51 291.59h0M375.35 291.56h0M373.23 283.53h0M370.58 289.94h0M378.08 286.31h0M372.36 285.37h0M371.11 284.56h0M371.6 291.23h0M374.83 291.33h0M380.45 291.6h0M383.94 291.56h0M371.77 291.6h0M374.65 290.24h0M372.48 278.7h0M372.21 291.23h0M380.72 291.59h0M378.07 287.37h0M373.77 289.26h0M372.15 290.9h0M374.37 290.12h0M381.34 278.05h0M378.48 291.57h0M378.92 291.36h0M372.89 291.49h0M374.89 291.44h0M383.97 289.82h0M378.28 291.49h0M373.78 289.42h0M384.77 289.17h0M374.86 291.6h0M378.79 288.5h0M369.96 288.03h0M375.62 291.55h0M370.97 291.44h0M372.56 285.79h0M370.35 291.2h0M359.93 281.02h0M382.76 291.57h0M375.24 291.6h0M373.26 291.6h0M377.45 291.57h0M372.19 282.86h0M373.53 291.12h0M376.7 285.08h0M372 279.88h0M370 286.13h0M373.7 289.06h0M372.69 291.59h0M377.17 291.36h0M377.15 285.88h0M379.95 278.94h0M365.84 290.26h0M381.17 289.38h0M378.87 291.55h0M376.95 289.1h0M372.16 291.58h0M370.31 290.79h0M369.19 291.55h0M366.69 279.75h0M364.45 286.99h0M377.47 291.03h0M385.01 291.56h0M383.54 285.7h0M367.02 290.63h0M370.93 291.59h0M384.13 284.42h0M365.27 291.28h0M371.77 286.02h0M383.94 279.57h0M383.27 291.53h0M364.99 289.65h0M373.61 291.55h0M388.12 286.11h0M378.4 290.93h0M379.51 286.97h0M374.21 291.03h0M375.87 289.87h0M375.52 291.26h0M373.27 291.49h0M376.15 291.11h0M375.7 291.15h0M375.24 291.52h0M371.78 291.51h0M367.56 277.46h0M374.11 288.03h0M387.85 288.63h0M366.19 291.52h0M367.5 290.41h0M375.63 291.59h0M381.73 291.33h0M375.66 291.56h0M378.75 289.52h0M368.86 288.62h0M377.6 291.5h0M367.44 289.4h0M378.77 284.51h0M372.71 289.55h0M364.37 289.04h0M383.78 286.51h0M373.09 287.74h0M378.16 281.43h0M373.3 291.33h0M381.81 291.22h0M366.3 291.6h0M378.03 290.63h0M380.16 284.4h0M376.17 291.3h0M367.19 290.95h0M380.31 281.17h0M378.81 280.7h0M377.62 291.26h0M374.28 288.56h0M378.67 278.67h0M375.03 291.6h0M377.89 286.05h0M377.06 291.51h0M368.76 290.35h0M381.09 290.79h0M373.56 289.1h0M376.79 291.15h0M375.04 291.47h0M369.34 286.3h0M364.23 289.86h0M374.61 291.51h0M371.69 290.61h0M372.05 283.82h0M372.75 287.91h0M379.1 285.99h0M381.18 290.57h0M373.15 287.49h0M374.74 291.54h0M374.57 291.14h0M369.88 291.42h0M377.74 281.07h0M374.87 291.58h0M374.41 291.23h0M375.02 291.58h0M375.26 291.54h0M365.91 291.6h0M369.09 279.51h0M382.35 291.41h0M376.31 290.87h0M373.48 290.89h0M374.26 291.57h0M385.91 291.48h0M377.99 289.69h0M379.59 286.7h0M375.75 290.56h0M365.69 291.52h0M378.91 290.93h0M370.28 283.76h0M366.38 284.88h0M380.59 283.88h0M382.26 285.21h0M367.39 278.92h0M370.47 291.6h0M373.93 291.53h0M374.53 289.57h0M382.29 291.37h0M380.99 277.94h0M370.22 291.3h0M377.26 289.13h0M376.23 290.64h0M369.86 291.6h0M380.65 277.27h0M375.73 291.6h0M380.29 287.18h0M381.92 291.57h0M379.55 284.18h0M377.88 280.74h0M376.8 291.6h0M367.44 291.5h0M376.56 291.27h0M367.86 287.08h0M379.28 284.31h0M385.29 290.6h0M378.17 285.87h0M380.23 282.12h0M374.23 291.36h0M374.01 286.56h0M377.44 289.95h0M378.06 283.11h0M371.82 290.06h0M379.24 283.64h0M372.83 291.6h0M377.37 291.09h0M368.25 290.4h0M373.41 291.47h0M381.12 291.55h0M373.53 291.58h0M381.34 289.06h0M375.42 291.57h0M367.34 284.79h0M377.42 291h0M370.53 291.42h0M376.33 291.14h0M373.37 291.47h0M374.11 291.07h0M375.28 291.57h0M373.78 288.21h0M384.17 285.6h0M378.19 284.19h0M375.6 291.33h0M370.48 283.81h0M375.48 291.6h0M367.5 287.51h0M378.21 285.22h0M366.63 288.37h0M370.94 291.51h0M372.72 284.03h0M369.87 289.81h0M378.6 291.54h0M380.11 284.9h0M375.24 291.57h0M369.84 290.81h0M378.54 291.6h0M378.7 291.35h0M382.7 281.56h0M379.58 290.44h0M379.86 291.51h0M376.31 291.29h0M372.94 291.5h0M372.62 291.06h0M365.55 290.87h0M374.16 291.6h0M372.28 284.85h0M379.04 280.18h0M371.78 290.37h0M377.63 291.41h0M377.67 290.74h0M381.25 278.56h0M371.26 291.26h0M387.17 291.4h0M379 290.58h0M378.05 278.28h0M378.82 285.16h0M378.29 291.28h0M373.67 291.32h0M375.34 291.19h0M378.65 289.15h0M374.09 290.18h0M375.64 291.4h0M378.34 288.26h0M370.94 291.57h0M372.18 288.34h0M376.56 290.92h0M371.72 290.93h0M374.1 287.32h0M374.6 291.59h0M378.37 279.23h0M365.45 284.61h0M372.76 291.25h0M380.18 291.58h0M377.21 291.24h0M372.95 284.36h0M369.21 291.09h0M366.1 291.21h0M364.56 279.5h0M373.19 290.8h0M376.58 285.99h0M373.41 291.51h0M377.09 291.45h0M380.32 287.2h0M376.11 290.98h0M382.27 285.22h0M374.35 291.5h0M376.15 290.49h0M369.82 291.4h0M374.88 291.6h0M371.77 287.67h0M379.66 283.16h0M378.65 289.91h0M378.36 280.16h0M377.61 288.78h0M372.87 290.81h0M374.62 291.22h0M379.61 284.24h0M374.04 289.8h0M366.63 291.6h0M375.22 291.6h0M379.42 288.74h0M368.41 291.57h0M375.32 291.6h0M372.04 291.5h0M381.52 287.8h0M376.42 291.55h0M382.27 283.35h0M376.7 286.61h0M374.3 290.83h0M378.66 290.88h0M377.29 288.41h0M379.71 288.87h0M378.61 291.53h0M373 291.38h0M374.04 291.41h0M377.59 290.46h0M371.52 291.13h0M376.46 287.68h0M373.45 291.48h0M375.74 291.6h0M386.87 288.96h0M375.43 291.6h0M376.18 291.53h0M377.32 289.8h0M381.94 290.68h0M375.8 290.82h0M373.56 290.24h0M376.01 291.57h0M371.02 291.17h0M376.44 288.58h0M379.21 288.07h0M384.08 286.97h0M371.72 278.73h0M369.12 291.59h0M377.46 288.48h0M373.06 291.6h0M376.59 289.6h0M375.83 289.88h0M379.74 282.2h0M375.68 291.37h0M368.97 291.28h0M374.8 291.3h0M372.01 290.14h0M373.16 285.77h0M379.84 291.43h0M378.7 291.56h0M377.95 290.43h0M381.14 291.6h0M375.22 291.42h0M380.94 290.5h0M374.54 290.56h0M372.84 291.57h0M379.44 291.33h0M373.32 289.59h0M364.99 282.61h0M381.08 291.53h0M370.84 285.95h0M368.35 288.92h0M384.33 291.47h0M377.29 291.05h0M376.21 291.6h0M369.5 289.87h0M369.52 291.32h0M377.39 288.19h0M375.64 291.6h0M375.97 291.53h0M373.71 291.32h0M380.86 278h0M377.54 288.59h0M363.93 291.6h0M371.88 290.88h0M372.52 291.23h0M366.69 291.6h0M380.07 277.31h0M367.3 291.21h0M372.27 289.71h0M379.21 289.93h0M380.9 284.99h0M377.16 291.31h0M379.78 291.49h0M372.34 291.59h0M377.31 285.38h0M373.53 287.57h0M375.17 291.36h0M367.43 281.81h0M371.92 281.36h0M379.28 287.31h0M367.92 291.22h0M377.91 284.38h0M375.69 291.57h0M374.35 291.59h0M371.15 291.55h0M375.04 291.58h0M376.53 291.47h0M373.08 290.27h0M376.11 291.47h0M377.03 291.17h0M372.95 290.58h0M366.05 287.86h0M385.33 290.09h0M369.96 291.54h0M379.41 284.78h0M374.44 291.55h0M379.77 288.36h0M364.89 286.42h0M372.23 287.99h0M371.2 291.6h0M375.3 291.59h0M377.99 277.78h0M376.17 290.72h0M364.85 289.46h0M376.84 289.76h0M390.17 278.32h0M372.22 288.82h0M380.86 290.2h0M369.15 286.5h0M375.69 291.54h0M377.57 285.37h0M368.74 291.6h0M367.64 289.84h0M384.21 291.57h0M382.87 291.59h0M373.74 290.15h0M376.3 291.55h0M379.48 282.1h0M369.39 283.59h0M382.98 289.3h0M376.5 290.94h0M368.6 290.89h0M376.16 289.99h0M375.8 290.7h0M384.09 291.59h0M375.72 291.6h0M374.73 291.39h0M366.72 291.34h0M367.87 291.4h0M377.1 291.05h0M376.14 290h0M382.1 291.53h0M375.27 291.27h0M370.99 284.64h0M377.56 290.35h0M374.22 291.52h0M387.1 287.52h0M379.16 291.39h0M375.2 291.58h0M365.72 290.01h0M366.62 287.39h0M373.77 290.31h0M364.87 291.6h0M373.94 288.53h0M371.34 291.51h0M371.09 291.51h0M375.59 291.6h0M379.25 279.71h0M368.8 291.56h0M377.12 283.71h0M372.26 291.14h0M386.66 278.02h0M372.6 285.79h0M375.23 291.19h0M367.4 290.6h0M372.91 291.6h0M370.19 289.27h0M373.4 291.6h0M372.94 288.42h0M374.42 291.42h0M383.66 291.6h0M379.12 291.5h0M384.33 291.31h0M368.61 291.55h0M386.73 285.26h0M377.38 291.54h0M376.31 291.6h0M369.57 282.02h0M376.39 289.39h0M373.27 287.46h0M372.67 285.21h0M377.97 291.57h0M373.69 288.47h0M368.08 281.97h0M379.33 280.94h0M377.83 290.27h0M381.71 288.69h0M370.39 291.59h0M384.05 285.79h0M379.66 291.6h0M384.44 284.91h0M374.34 289.78h0M374.96 291.38h0M373.48 283.65h0M376.54 291.6h0M374.96 291.48h0M378.1 288.2h0M372.49 291.55h0M374.27 288.48h0M378.76 289.87h0M380.88 291.6h0M380.27 290.45h0M384.01 290.35h0M371.36 291.55h0M374.75 291.6h0M376.25 291.38h0M382.63 285.95h0M367.56 289.02h0M371.48 289.19h0M377.46 291.55h0M371.25 289.93h0M378.94 290.53h0M378.11 285.49h0M377.12 291.46h0M378.31 291.21h0M376.36 288.95h0M373.13 289.04h0M376.47 291.45h0M365.02 288.01h0M374.42 291.52h0M378.78 291.35h0M369.9 283.27h0M376.09 288.31h0M382.58 291.15h0M387.04 290.9h0M380.8 291.3h0M377.1 291.4h0M368.89 279.21h0M373.92 289.05h0M371.99 286.59h0M368.61 289.67h0M379.78 291.49h0M378.09 290.44h0M365.64 291.55h0M375.11 291.59h0M380.99 278.96h0M372.4 291.27h0M369.44 290.37h0M373.42 290.93h0M377.13 290.02h0M375.52 291.43h0M366.09 284.14h0M372.31 284.26h0M376 288.99h0M365.36 283.58h0M369.65 291.59h0M377.47 287.62h0M371.11 291.55h0M384.57 282.08h0M382.7 285.78h0M372.73 288.02h0M378.22 282.89h0M367.65 288.52h0M386.02 287.97h0M377.53 279.84h0M376.21 291.6h0M379.64 288.81h0M364.45 282.56h0M370.71 290.85h0M371.1 279.28h0M379.01 291.6h0M374.92 291.59h0M371.91 291.27h0M374.39 291.35h0M379.65 288.48h0M372.54 282.51h0M381.41 291.28h0M373.99 291.6h0M380.4 284.4h0M374.02 290.7h0M374.28 290.31h0M388.21 280.85h0M368.31 291.18h0M386.77 287.15h0M371.64 286.9h0M373.81 288.54h0M372.92 290.89h0M372.75 291.58h0M374.85 291.3h0M374.94 291.52h0M375.91 291.55h0M388.51 289.5h0M376.11 291.22h0M380.11 287.95h0M372.24 291.22h0M376.22 290.41h0M373.2 287.58h0M368.99 284.8h0M378.37 288.24h0M360.82 286.49h0M373.86 291.54h0M381.65 289.54h0M377.24 290.22h0M374.95 291.48h0M377.34 290.48h0M368.49 291.41h0M371.64 290.95h0M380.27 277.21h0M370.63 279.09h0M382.7 284.18h0M375.97 291.6h0M371.15 291.12h0M373.85 291.6h0M377.98 277.86h0M383.58 287.09h0M375.86 290.29h0M378.4 280.32h0M373.87 285.84h0M373.25 291.6h0M375.22 291.57h0M377.16 291.56h0M368.68 287.35h0M375.74 290.98h0M378.61 279.83h0M375.78 291.25h0M377.43 291.56h0M366.76 281.9h0M372.76 289.01h0M376.22 291.48h0M375.79 291.53h0M369.02 285.93h0M370.4 290.63h0M359.57 277.58h0M372.19 291.58h0M381.65 290.65h0M377.99 291.21h0M375.39 291.57h0M374.71 291.2h0M375.62 291.11h0M371.56 278.12h0M370.47 291.58h0M371.94 287.83h0M379.15 291.6h0M369.37 291.59h0M375.61 291.59h0M368.64 290.06h0M371.22 285.72h0M375.76 290.8h0M376.41 290.01h0M370.78 282.09h0M376.92 291.42h0M376.54 287.18h0M376.53 290.14h0M376.47 290.38h0M373.37 291.52h0M376.82 288.57h0M372.55 284.97h0M375.92 289.54h0M380.15 288.02h0M379.88 287.96h0M378.29 290.65h0M382.04 291.43h0M368.12 290.99h0M372.28 290.11h0M375.36 291.59h0M362.46 277.07h0M377.57 280.75h0M372.37 291.05h0M377.09 291.33h0M390.81 277.4h0M375.82 290.64h0M377.5 283.03h0M375.36 291.6h0M381.41 290.65h0M383.08 279.85h0M366.34 291.6h0M377.51 291.54h0M382.54 286.19h0M369.59 290.95h0M374.82 291.6h0M368.73 291.46h0M378.17 287.45h0M378.07 291.58h0M370.3 290.71h0M375.5 291.51h0M381.19 289.95h0M379.33 291.55h0M373.31 287.79h0M390.12 278.13h0M373.39 285.4h0M382.25 281.27h0M382.42 291.48h0M376.59 291.58h0M375.15 291.58h0M382.36 282.92h0M378.48 287.61h0M383.12 281.17h0M372.47 291.6h0M370.37 277.68h0M382.89 290.5h0M372.58 281.87h0M379.09 285.48h0M364.36 289.88h0M383.08 288.66h0M373.27 291.59h0M376.08 290.59h0M387.96 287.46h0M372.96 290.37h0M362.6 287.22h0M366.71 279.78h0M376.7 287.26h0M376.54 286.94h0M371.99 278.37h0M369.89 291.59h0M385.09 291.3h0M380.98 291.58h0M376.76 291.6h0M370.75 281.36h0M371.41 290.01h0M374.27 291.57h0M371.69 291.6h0M377.2 286.63h0M376.01 289.58h0M374.9 291.51h0M367.02 291.43h0M376.18 289.02h0M369.14 288.32h0M380.47 289.86h0M372.48 286.28h0M374.05 289.61h0M377.48 290.85h0M365.13 286.13h0M386.2 287.66h0M377.88 291.24h0M376.6 286.18h0M387.25 280.07h0M379.37 288.06h0M384.3 289.99h0M373.54 286.8h0M362.78 287.2h0M374.86 291.49h0M376.43 287.52h0M371.07 291.5h0M373.89 289.42h0M380.9 289.89h0M370.17 291.13h0M377.14 291.12h0M387.26 286.2h0M370.99 290.07h0M377.18 286.22h0M373.43 291.59h0M373.93 291.59h0M374.82 291.57h0M370.28 291.19h0M378.66 287.91h0M380.49 281.34h0M383.59 286.62h0M378.03 286.56h0M382.63 286.53h0M366.9 288.7h0M377.53 291.48h0M378.53 277.83h0M375.62 291.6h0M378.23 282.49h0M372.55 288.14h0M377.48 281.59h0M378.95 291.11h0M374.47 291.33h0M364 277.78h0M380.59 285.67h0M374.76 291.48h0M371.89 291.34h0M373.35 290.29h0M376.24 290.85h0M376.76 291.3h0M373.89 291.6h0M382.8 291.48h0M373.54 290.28h0M377.81 280.3h0M372.26 289.41h0M374.75 291.6h0M376.15 291.57h0M370.83 285.51h0M374.3 291.27h0M374.18 291.24h0M376.38 290.42h0M376.87 288.64h0M368.7 290.95h0M372.91 285.39h0M375.85 290.07h0M369.84 284.23h0M386.18 291.6h0M372.74 291.6h0M378.13 284.37h0M372.69 289.75h0M368.91 288.84h0M375.69 291.6h0M375.25 291.3h0M377.15 287.5h0M370.72 290.48h0M378.67 284.3h0M380.5 291.6h0M378.68 279.48h0M376.82 290.33h0M373.02 290.84h0M375.99 291.11h0M373.76 291.46h0M374.94 291.51h0M373.74 288.21h0M380.54 287.78h0M370.24 280.24h0M376.54 290.79h0M371.02 290.76h0M373.73 291.57h0M378.93 288.95h0M369.29 286.57h0M378.55 291.3h0M377.75 285.1h0M372.43 290.86h0M376.51 291.37h0M375.19 291.54h0M376.29 290.97h0M375.21 291.59h0M378.85 291.22h0M371.02 283.3h0M376.04 289.01h0M377.05 290.23h0M373 289.26h0M365.96 290.56h0M372.55 291.6h0M373.02 288.4h0M377.9 289.33h0M374.27 289.5h0M377.96 288.38h0M375.54 291.18h0M376.92 291.39h0M374.55 290.66h0M372.3 291.01h0M379.56 277.39h0M375.17 291.6h0M374.01 291.6h0M370.33 283.65h0M376.76 288.33h0M377.96 289.66h0M376.88 291.56h0M372.96 286.26h0M372.42 288.63h0M368.54 291.46h0M367.22 279.33h0M381.07 283.03h0M370.3 286.89h0M378.7 291.4h0M366.96 291.55h0M379.06 291.6h0M375.06 291.6h0M378.77 291.53h0M367.24 291.6h0M371.6 291.23h0M376.18 288.11h0M372.98 291.6h0M381.86 279.07h0M377.09 291.46h0M369.77 285.3h0M364.43 284.68h0M369.74 287.78h0M376.36 291.6h0M364.04 290.48h0M367.84 288.39h0M366.71 286.17h0M376.99 291.37h0M377.23 291.23h0M370.98 290.69h0M382.41 291.38h0M377.2 290.34h0M373.59 288.4h0M377.6 291.44h0M377.07 291.56h0M378.48 285.26h0M374.62 290.98h0M378.55 284.83h0M366.4 284.69h0M373.32 288.05h0M378.74 291.19h0M382.04 291.17h0M369.45 291.08h0M378.43 290.32h0M374.33 291.16h0M376.71 291.59h0M374.09 291.58h0M374.5 290.87h0M380.24 288.03h0M374.77 291.4h0M374.66 291.2h0M364.58 289.48h0M367.18 280.62h0M384.69 291.59h0M380.7 289.11h0M374.33 289.39h0M385.56 281.65h0M375.54 291.6h0M367.8 290.34h0M374.95 291.6h0M367.86 291.43h0M367.88 280.73h0M375.01 291.49h0M373.17 291.6h0M380.07 289.03h0M380.72 286.61h0M374.42 289.34h0M377.29 291.42h0M367.58 285.28h0M369.58 291.6h0M376.24 289.15h0M371.66 289.32h0M372.55 290.9h0M374.27 288.38h0M374.73 291.57h0M366.56 291.05h0M381.48 284.08h0M370.29 290.29h0M374.32 291.6h0M376.42 289.23h0M373.65 291.59h0M369.33 282.06h0M372.09 291.42h0M369.19 289.35h0M380.65 291.57h0M374.56 291.53h0M371.25 291.14h0M374.42 291.52h0M374.25 290.45h0M378.01 291.59h0M381.8 291.43h0M373.4 291.53h0M373.59 291.6h0M376.8 290.86h0M370.03 290.82h0M370.13 277.51h0M376.99 286.07h0M378.14 289.32h0M361.89 283.03h0M372.58 290.03h0M380.83 291.23h0M381.81 290.83h0M379.17 284.15h0M363.79 291.6h0M379.09 291.14h0M375.88 291.53h0M363.56 285.97h0M390.14 280.14h0M372.38 289.9h0M376.23 290.17h0M376.89 291.56h0M375.09 291.48h0M373.42 284.68h0M374.81 291.57h0M380.25 290.84h0M377.81 291.6h0M371.14 291.57h0M380.26 289.58h0M381.91 291.58h0M369.17 290h0M375.85 291.6h0M381.58 285.28h0M373.69 286.84h0M382.57 283.75h0M370.9 284.95h0M372.81 291.32h0M384.82 281.21h0M383.26 279.74h0M374.72 290.89h0M373.95 291.59h0M368.67 289.62h0M369.78 291.59h0M382.55 291.6h0M375.09 291.6h0M370.79 284.55h0M365.98 291.59h0M372.83 291.6h0M377.94 289.41h0M372.4 288.44h0M371.03 291.25h0M377.17 283.1h0M378.11 291.47h0M377.88 291.54h0M382.22 281.14h0M383.82 291.21h0M368.18 291.59h0M374.32 290.02h0M375.02 291.15h0M379.06 279.63h0M378.65 281.35h0M381.77 291.6h0M376.1 289.78h0M379.07 291.57h0M379.81 286.24h0M377.36 290.05h0M375.99 290.16h0M376.14 291.21h0M374.04 287.69h0M372.75 283.37h0M375.9 291.22h0M369.33 290.98h0M372.86 290.43h0M386.84 291.6h0M378.98 290.47h0M372.3 290.96h0M379.11 277.77h0M371.4 291.52h0M369.97 291.49h0M379.97 279.9h0M369.32 290.3h0M364.7 281.61h0M372.43 291.6h0M374.56 291.5h0M375.21 291.59h0M388.19 284.04h0M380.76 281.08h0M374.22 290.24h0M374.03 291.6h0M382.82 287.72h0M377.44 283.57h0M367.35 284.03h0M383.32 287.77h0M377.64 287.16h0M380.19 289.24h0M373.9 291.58h0M370.69 280.98h0M380.01 283.41h0M376.93 291.27h0M369.64 277.26h0M380.04 288.31h0M377.52 291.46h0M377.85 291.6h0M372.76 287.31h0M375.36 291.49h0M362.73 282.26h0M373.76 288.74h0M373.32 290.83h0M373.72 287.18h0M372.21 290.46h0M371.6 291.39h0M368.23 291.6h0M377.51 283.84h0M366.62 281.36h0M376.82 291.54h0M377.77 291.54h0M378.37 289.46h0M382.01 291.54h0M378.19 291.47h0M371.96 280.41h0M374.24 291.6h0M372.96 284.95h0M369.06 290.19h0M375.25 291.6h0M377.61 291.16h0M369.68 291.19h0M377.43 280.75h0M362.72 286.71h0M371.96 291.6h0M378.78 291.57h0M384.26 291.08h0M367.06 280.57h0M371.86 282.24h0M365.69 291.58h0M368.63 290.87h0M376.8 289.21h0M381.13 289.03h0M370.49 289.78h0M376.59 289.53h0M372.12 291.56h0M383.16 288.46h0M376.72 290.74h0M379.2 282.4h0M378.2 287h0M372.9 289.97h0M377.86 283.03h0M378.27 280.09h0M381.2 288.15h0M372.56 290.57h0M376.78 291.59h0M379.67 290.49h0M370.88 282.32h0M364.4 281.63h0M372.32 291.58h0M376.7 284.64h0M369.3 291.57h0M372.46 285.22h0M376.4 287.46h0M372.84 279.69h0M383.63 283h0M373.85 291.46h0M375.5 291.6h0M374.4 290.51h0M371.24 280.98h0M376.4 286.94h0M373.24 291.54h0M378.29 291.01h0M368.29 289.77h0M373.13 291.6h0M375.75 290.67h0M380.14 282.22h0M374.33 289.7h0M365.67 281.88h0M379.75 281.43h0M366.95 291.59h0M381.99 291.6h0M372.53 291.44h0M370.45 291.18h0M379.24 289.35h0M375.29 291.57h0M378.86 287.48h0M372.87 291.6h0M373.13 290.2h0M368.62 290.75h0M371.74 288.17h0M375.34 291.43h0M386.41 288.01h0M379.58 278.98h0M381.35 278.76h0M376.25 289.77h0M378.09 291.59h0M373.66 290.91h0M376.51 288.91h0M364.06 283.53h0M375.59 291.51h0M385.83 277.56h0M375.92 291.51h0M371.28 291.59h0M377.8 291.16h0M370.94 291.59h0M382.16 289.2h0M364.26 286.03h0M370.44 289.92h0M381.35 280.9h0M376.27 288.63h0M375.73 291.34h0M371.24 285.18h0M380.23 289.76h0M371.63 291.54h0M370.94 290.75h0M382.09 283.82h0M367.43 284.84h0M372.95 288.97h0M372.37 289.8h0M367.81 279.94h0M378.02 291.6h0M367.15 287.92h0M375.58 291.59h0M374.52 291.42h0M376.48 291.6h0M376.58 290.76h0M371.66 287.24h0M377.66 291.57h0M376.15 289.47h0M373.74 288.39h0M367.89 282.48h0M370.54 288.37h0M379.09 291.37h0M370.27 291.6h0M383.05 284.53h0M378 291.6h0M374.24 291.15h0M374.74 291.26h0M372.72 291.08h0M377.86 279.61h0M369.42 291.54h0M371.23 291.56h0M380.5 288.39h0M372.45 287.44h0M374.05 291.6h0M373.72 288.03h0M381.05 290.43h0M367.15 281.51h0M369.08 290.23h0M378.83 290.08h0M374.25 291.58h0M377.41 286.87h0M376.05 291.53h0M369.32 291.52h0M369.28 287.07h0M359.2 278.41h0M376.87 287.89h0M373.76 286.95h0M376.84 291.45h0M377.4 283.74h0M373.44 291.43h0M383 278.93h0M377 291.02h0M374.77 291.51h0M383.83 291.42h0M374.87 291.55h0M385.99 288.14h0M375.15 291.56h0M372.78 281.79h0M375.66 291.24h0M373.7 291.6h0M378.84 290.79h0M383.82 291.56h0M376.13 289.84h0M374.44 291.6h0M381.42 279.93h0M371.12 282.57h0M373.53 285.72h0M363.54 289.61h0M376.71 291.56h0M375.92 290.95h0M382.54 285.92h0M374.97 291.58h0M378.84 287.85h0M371.56 281.19h0M380.32 291.59h0M369.68 290.45h0M374.28 291.4h0M380.85 291.45h0M373.43 291.28h0M374.86 291.57h0M381.7 290.91h0M371.27 291.6h0M367.48 289.06h0M377.48 283.58h0M372.59 281.24h0M371.49 291.17h0M375.16 291.54h0M374.17 291.59h0M377.74 291.55h0M379.41 282.49h0M379.33 282.17h0M370.71 291.43h0M382.37 281.17h0M376.8 290.89h0M371 286.73h0M369.47 291.57h0M378.22 285.17h0M369.37 277.66h0M375.07 291.6h0M379.49 287.55h0M374.65 291.6h0M370.75 287h0M378.51 288.28h0M378.53 278.87h0M373.32 291.45h0M378.84 291.37h0M377.8 291.56h0M371.03 285.94h0M373.5 286.44h0M378.57 280.54h0M373.74 291.56h0M376.93 285.33h0M377.56 291.6h0M366.98 278.59h0M375.8 291.55h0M377.78 291.39h0M379.02 291.6h0M373.9 291.6h0M367.61 291.33h0M369.66 291.51h0M374.3 288.22h0M375.45 291.28h0M364.46 282.23h0M370.94 285.06h0M372.71 291.19h0M374.92 291.6h0M376.14 291.25h0M368.48 289.75h0M365.44 285.45h0M377.31 291.58h0M375.54 291.5h0M382.23 280.5h0M366.23 291.55h0M371.04 290.74h0M374.96 291.6h0M375.31 291.56h0M373.88 291.31h0M376.9 289.37h0M369.05 291.6h0M373.86 289.38h0M377.78 287.81h0M368.76 284.89h0M379.67 289.3h0M380.5 287.52h0M372.89 287.78h0M376.62 290.74h0M372.6 289.02h0M376.98 284.57h0M376.85 291.57h0M380.95 291.56h0M373.72 291.26h0M379.4 291.28h0M381.91 290.31h0M375.08 291.24h0M373.05 288.76h0M370.7 290.23h0M374.77 291.42h0M373.3 291.58h0M372.41 284.55h0M380.38 290.25h0M374.09 291.59h0M375.34 291.25h0M381.5 290.83h0M372.29 291.46h0M374.32 288.94h0M375.86 290.31h0M376.59 290.07h0M371.05 285.64h0M368.35 290.44h0M367.32 288.73h0M373.92 288.77h0M373.65 291.06h0M376.78 289.82h0M382.85 288.49h0M373.74 291.47h0M375 291.51h0M374.43 290.78h0M367.95 290.95h0M369.62 284.12h0M383.86 290.04h0M384.51 287.29h0M369.04 291.1h0M374.81 291.51h0M375.17 291.19h0M370.01 285.5h0M379.58 291.33h0M370.56 291.44h0M371.17 287.59h0M379.5 291.25h0M376.96 290.94h0M376.32 291.51h0M371.58 291.59h0M371.8 291.06h0M380.11 289.57h0M371.82 282.66h0M365.4 289.57h0M383.27 288.55h0M376.33 290.57h0M379.88 291.39h0M366.63 286.68h0M372.39 291.51h0M367.99 289.89h0M379.31 279.64h0M372.26 290.4h0M375 291.6h0M373.87 291.6h0M384.75 285.26h0M379.9 290.57h0M374.69 291.55h0M365.76 291.48h0M362.85 287.42h0M379.06 290.09h0M372.96 286.34h0M375.92 291.33h0M368.07 291.31h0M374.91 291.6h0M379.86 290.7h0M364.13 288.87h0M375.86 291.46h0M377.24 284.93h0M375.93 291.6h0M373.56 291.47h0M370.22 291.58h0M375.11 291.6h0M378.59 291.1h0M373.62 291.6h0M375.12 291.59h0M376.47 290.95h0M372.67 291.6h0M369.43 285.49h0M369.59 277.24h0M376.01 291.33h0M373.6 291.6h0M374.37 289.65h0M380.21 284.72h0M385.08 289.97h0M382.92 288.53h0M374.88 291.6h0M374.45 289.99h0M371.95 282.61h0M372.6 291.47h0M377.4 284.38h0M376.04 290.47h0M372.23 278.32h0M383.17 290.96h0M372.26 289.88h0M378.72 282.56h0M378.93 280.03h0M375.01 291.49h0M374.21 291.38h0M375.63 291.17h0M370.96 291.54h0M391.42 277.21h0M377.22 288.83h0M385.4 291.09h0M380.67 286.88h0M379.26 291.57h0M364.53 291.18h0M376.77 291.6h0M378.62 291.54h0M372.73 285.34h0M382.87 285.57h0M372.6 286.73h0M376.05 289.08h0M367.87 282.18h0M365.5 290.15h0M379.07 288.45h0M374.29 290.82h0M373.74 289.46h0M376.25 289.81h0M378.35 289.75h0M380.27 291.23h0M377.62 282.55h0M378.3 291.52h0M376.07 291.36h0M371.37 279h0M373.61 291.57h0M369.53 291.3h0M370.52 291.11h0M369.17 281.27h0M370.98 291.5h0M360.01 280.03h0M373.84 291.58h0M375.56 291.18h0M380.39 278.05h0M374.55 291.15h0M371.63 291h0M382.45 290.74h0M371.93 291.37h0M370.71 282.62h0M378.72 291.12h0M379.99 286.94h0M365.6 290.48h0M381.69 291.03h0M375.44 291.6h0M372.57 290.6h0M372.72 291.54h0M372.2 291.35h0M367.32 291.53h0M373.41 289.23h0M377.28 290.02h0M370.01 291.26h0M376.27 289.98h0M376.65 291.6h0M368.82 281.56h0M378.44 291.58h0M379.45 286.66h0M373.12 285.85h0M377.85 291.59h0M375.9 291.6h0M371.28 291.6h0M386.07 288.07h0M377.29 291.54h0M368.6 291.6h0M376.33 290.89h0M379.56 289.31h0M374.06 289.15h0M370.56 280.25h0M379.9 288.59h0M371.03 289.05h0M379.22 291.4h0M375.1 291.53h0M373.38 291.53h0M379.7 280.52h0M388.27 284.17h0M377.89 289.68h0M373.72 291.39h0M378.54 282.41h0M373.85 291.58h0M364.66 280.95h0M377.51 284.05h0M379.43 282.74h0M371.54 291.33h0M375.22 291.6h0M382.27 291.58h0M371.65 291.5h0M374.81 291.59h0M383.15 291.41h0M380.8 289.49h0M373.75 290.1h0M378.23 291.4h0M381.09 290.72h0M378.8 290.82h0M371.53 290.68h0M374.66 291.14h0M372.46 283.71h0M376.92 290.81h0M379.79 290.2h0M377.06 284.62h0M367.51 287.35h0M373.27 286.14h0M373.75 290.72h0M372.35 289.2h0M378.15 282.14h0M377.7 284.32h0M377.2 291.54h0M376.99 290.58h0M372.18 289.45h0M368.29 280.06h0M376.56 288.3h0M377.65 287.8h0M371.39 288.99h0M374.28 288.78h0M376.39 291.52h0M376.08 290.48h0M375.48 291.6h0M377.5 287.54h0M369.14 284.78h0M377.15 291.15h0M378.26 291.37h0M373.94 291.57h0M378.84 284.29h0M378.31 291.44h0M376.94 289.48h0M383.02 291.59h0M379.58 290.88h0M379.16 291.18h0M366.27 288.14h0M378.38 288.7h0M370.96 290.75h0M372.05 291.45h0M371.01 284.18h0M377.87 288.23h0M376.01 290.91h0M379.65 290.2h0M376.33 289.66h0M379.03 284.53h0M383.32 290.39h0M378.13 285.27h0M381.63 289.01h0M372.41 290.09h0M373.09 289.28h0M379.15 281.3h0M367.12 281.33h0M373.81 291.58h0M368.07 290.94h0M380.29 289.28h0M371.13 291.47h0M371.43 291.24h0M370.6 281.45h0M381.43 291.6h0M379.03 290.48h0M370.28 291.54h0M378.67 283.32h0M379.07 283.47h0M376.14 288.05h0M375.73 291.18h0M378.04 291.58h0M368.27 291.6h0M373.88 291.58h0M368.03 280.86h0M372.26 277.51h0M384.21 290.92h0M381.3 291.17h0M378.56 287.28h0M369.27 281.39h0M384.4 291.11h0M368.63 291.53h0M375.88 291.59h0M380.25 290.82h0M370.92 280.42h0M377.55 291.47h0M374.3 291.42h0M381.53 288.23h0M364.41 290.58h0M371.41 291.57h0M376.06 291.2h0M378.38 289.34h0M375.81 291.5h0M381.19 285.5h0M375.44 291.46h0M368.49 281.87h0M373.56 290.87h0M373.63 291.35h0M384.79 283.33h0M373.69 291.55h0M372.67 290.21h0M377.92 291.27h0M367.82 284.5h0M380.27 291.38h0M367.78 291.19h0M369.43 283.92h0M366.73 290.52h0M371.42 291.55h0M372.15 287.38h0M378.41 290.77h0M378.85 290.04h0M375.4 291.52h0M377.06 291.57h0M371.64 291.43h0M380.16 291.6h0M387.36 286.34h0M371.49 278.17h0M373.87 286.77h0M382.92 291.57h0M377.4 284.34h0M379.08 287.24h0M387.23 279.61h0M380.33 289.46h0M378.73 288.23h0M381.15 291.6h0M380.28 287.84h0M371.34 286.98h0M373.56 290.11h0M378.96 283.26h0M380.65 282.92h0M374.78 291.29h0M361.94 279.2h0M376.06 291.45h0M369.56 278.35h0M373.03 291.59h0M365.56 290.94h0M367.11 285.39h0M369.37 290.91h0M379.17 286.69h0M367.42 291.58h0M376.2 290.87h0M378.55 281.1h0M373.34 291.6h0M375.08 291.54h0M378.2 280h0M375.89 291.58h0M369.03 291.46h0M377.42 287.78h0M363.88 290.6h0M374.32 290.59h0M378.16 290.7h0M367.24 291.55h0M375.74 291.59h0M373.64 284.31h0M378.59 279.89h0M383.21 289.85h0M379.11 282.62h0M371.31 290.93h0M376.47 290.8h0M381.18 290.65h0M384.44 279.03h0M377.04 289.93h0M381.65 281.92h0M372.44 280.02h0M369.22 278.65h0M383.56 281.89h0M374.45 291.49h0M379.98 288.7h0M371.86 279.93h0M372.46 288.36h0M378.12 290.6h0M367.42 280.53h0M372.24 291.58h0M380.05 281.66h0M374.6 291.39h0M376.62 291.44h0M365.11 289.62h0M363.44 291.57h0M370.4 289.83h0M374.54 291.58h0M372.29 291.19h0M372.13 288.97h0M377.98 291.57h0M373.72 291.6h0M381.83 277.7h0M377.63 282.76h0M376.14 291.55h0M371.94 290.92h0M382.51 291.54h0M378.59 291.41h0M375.82 290.86h0M378.85 290.53h0M375.22 291.56h0M375.06 291.51h0M377.3 284.93h0M374.25 291.58h0M375.9 290.54h0M383.65 288.12h0M374.03 291.51h0M364.98 285.18h0M378.23 288.44h0M378.19 291.33h0M376.54 290.93h0M373.94 288.06h0M369.84 291.47h0M381.27 291.49h0M373.75 285.87h0M381.75 287.9h0M371.52 287.16h0M376.9 291.52h0M373.6 284.66h0M380.63 291.44h0M375.8 291.48h0M373.34 288.62h0M372.13 291.6h0M373 290.64h0M375.26 291.43h0M375.7 290.87h0M367.97 291.18h0M384.09 290.78h0M374.61 291.05h0M376.92 291.46h0M374.35 291.48h0M378.15 289.89h0M374.59 290.94h0M378.47 288.14h0M372.06 283.15h0M375.62 291.3h0M372.47 290.74h0M376.12 291.33h0M374.21 290.88h0M368.6 282.74h0M370.48 291.6h0M371.9 291.29h0M379.35 285.52h0M373.17 289.37h0M377.18 291.6h0M362.17 282.2h0M377.27 285.73h0M382.04 284.49h0M370.43 284.46h0M372 280.76h0M373.38 291.16h0M379.54 291.48h0M379.14 281.7h0M378.51 287.92h0M371.24 290.88h0M375.98 291.59h0M378.73 278.87h0M374.27 291.6h0M372.35 284.84h0M372.37 291.56h0M372.92 287.34h0M367.39 291.6h0M379.53 287.44h0M380.56 288.51h0M376.99 291.3h0M382.88 280.14h0M375.17 291.6h0M369.87 291.6h0M375.22 291.6h0M366.25 291.6h0M376.22 291.4h0M378.85 285.88h0M380.23 291.25h0M379.57 283.75h0M382.23 278.2h0M378.19 282.32h0M374.84 291.58h0M391.32 280.44h0M374.64 291.6h0M362.85 277.83h0M373.4 291.55h0M374.43 289.74h0M371.51 291.56h0M374.6 291.32h0M382.1 291.02h0M375.27 291.6h0M376.35 291.57h0M379.51 291.58h0M371.57 290.19h0M372.66 291.6h0M371.89 290.18h0M371.85 291.6h0M362.4 288.66h0M386.09 285.74h0M379.92 282.81h0M373.63 291.34h0M369.68 291.56h0M374 288h0M369 290.09h0M374.16 289.5h0M366.32 278.17h0M368.94 288.58h0M382.38 290.87h0M382.69 277.5h0M376.74 291.3h0M376.25 290.39h0M374.65 291.59h0M368.12 284.29h0M372.16 281.26h0M371.83 291.4h0M365.9 291.6h0M385.44 286.86h0M369.11 285.36h0M371.59 285.45h0M381.46 291.59h0M376.9 286.42h0M378.84 290.42h0M372.27 291.57h0M370.9 291.58h0M386 290.38h0M365.68 291.09h0M377.98 285.37h0M376.85 291.52h0M386.44 291.58h0M372.75 282.03h0M373.27 286.39h0M381.69 277.96h0M360.1 277.05h0M373.22 291.6h0M374.52 289.97h0M368.71 291.54h0M374.96 291.57h0M376.9 291.53h0M374.6 291.57h0M367.56 290.5h0M372.45 291.6h0M378.31 288.7h0M371.51 284.27h0M368.35 284.18h0M379.23 290.52h0M375.52 291.53h0M378.82 282.06h0M378.03 281.68h0M378.03 283.55h0M376.95 291.21h0M370.77 291.38h0M363.69 290.38h0M368.11 291.36h0M366.66 291.43h0M382.32 289.33h0M380.06 281.38h0M373.87 291.08h0M376.31 291.42h0M381.22 279.15h0M371.2 291.6h0M370.38 290.55h0M370.58 291.59h0M369.09 291.42h0M377.44 290.8h0M377.98 280.52h0M372.59 291.56h0M371.31 291.55h0M377.78 282.04h0M369.22 278.35h0M379.24 291.6h0M371.7 291.52h0M373.63 289.81h0M377.05 286.71h0M378.51 288.96h0M378.11 291.43h0M379.16 290.8h0M383.14 288.31h0M381.61 291.05h0M378.06 281.87h0M379.67 291.06h0M374.98 291.21h0M379.4 286.29h0M379.37 286.1h0M377.06 287.95h0M382.4 291.35h0M372.72 291.6h0M378.02 277.19h0M373.44 283.51h0M375.55 291.47h0M371.25 280.4h0M367.12 277.62h0M377.17 288.5h0M383.2 291.06h0M373.99 287.15h0M374.88 291.52h0M382.91 288.78h0M376.37 288.2h0M372.34 278.31h0M381.73 286.66h0M372.45 291.3h0M373.46 291.47h0M382.26 291.05h0M368.85 280.76h0M369.68 291.56h0M372.94 289.45h0M371.56 291.46h0M374.22 291.57h0M371.11 288.21h0M375.13 291.6h0M384.74 285.77h0M378.28 287.28h0M376.68 285.8h0M373.04 291.02h0M371.04 291.6h0M379.49 290.52h0M387.04 291.59h0M382.81 291.58h0M375.21 291.58h0M379.43 291.47h0M370.22 291.51h0M374.43 291.58h0M380.93 278.12h0M364.13 278.75h0M380.46 288.05h0M373.09 290.96h0M378.78 287.95h0M371.65 283.91h0M371.54 277.11h0M378.45 291.58h0M382.51 286.37h0M380.71 278.9h0M379.71 280.55h0M371.52 291.46h0M372.12 290.85h0M381.29 289.62h0M373.77 290.86h0M383.32 291.59h0M371.89 283.09h0M376.46 290.46h0M377.92 281.32h0M375.63 291.47h0M376.42 291.58h0M373.78 291.27h0M374.52 291.52h0M374.68 291.58h0M374.72 291.39h0M376.5 291.22h0M372.61 291.6h0M378.37 291.32h0M372.57 290.89h0M372.83 290.87h0M380.61 291.2h0M372.04 288.56h0M373.39 290.81h0M381.18 287.43h0M383.52 290.78h0M386.69 291.6h0M377.79 280.57h0M366.54 284.87h0M374.34 291.49h0M377.68 284.33h0M375.27 291.6h0M371.97 291.2h0M370.9 291.6h0M373.9 291.38h0M378.4 289.56h0M372.46 289.29h0M374.41 291.4h0M383.45 291.6h0M366.09 291.49h0M372.89 290.96h0M375.73 291.58h0M371.38 280.73h0M380.24 291.57h0M382.81 285.92h0M369.47 289.84h0M380.51 291.19h0M372.47 291.59h0M367.95 291.59h0M375.83 291.59h0M370.97 289.01h0M379.54 291.55h0M375.21 291.6h0M376.73 291.13h0M368.93 290.45h0M370.58 291.6h0M387 291.6h0M373.98 288.19h0M388.02 287.05h0M376.15 291.29h0M369.76 291.59h0M373.37 290.92h0M377.22 290.87h0M373.9 291.52h0M369.04 283.63h0M385.29 289.73h0M371.54 289.27h0M380.2 286.83h0M383.87 291.11h0M375.05 291.47h0M375.03 291.2h0M377.48 279.99h0M381.15 279.43h0M366.03 291.49h0M374.11 291.57h0M379.47 291.24h0M373.36 291.14h0M378.85 291.25h0M373.83 287.33h0M371.52 282.31h0M376.41 289.25h0M371.28 285.15h0M380.89 286.68h0M377.15 291.59h0M377.16 290.04h0M383.95 291.38h0M377.98 290.38h0M375.47 291.6h0M373.62 285.44h0M376.93 291.51h0M375.48 291.51h0M386.89 290.55h0M369.94 280.31h0M375.7 291.49h0M375.86 290.15h0M375.5 291.35h0M379.2 287.45h0M373.16 290.88h0M377.17 291.54h0M362.73 283.5h0M369.22 291.07h0M373.43 286.09h0M370.56 291.6h0M365.46 291.58h0M373.24 282.98h0M377.48 285.35h0M369.84 289.89h0M374.28 291.21h0M367 289.3h0M371.06 291.16h0M374.36 289.92h0M378.2 291.6h0M364.38 284.54h0M379.9 290.87h0M380.18 287.52h0M377.43 291.17h0M371.71 291.59h0M373.42 291.6h0M374.72 291.58h0M379.97 282.68h0M375.62 291.58h0M378.53 291.58h0M375.5 291.56h0M368.09 280.22h0M370.45 291.56h0M375.06 291.3h0M374.16 291.25h0M375.99 289.29h0M365.83 291.6h0M380.28 290.23h0M379.29 291.46h0M374.32 291.41h0M375.96 290.93h0M373.92 290.68h0M371.82 291.6h0M373.56 291.58h0M379.73 282.17h0M377.29 288.52h0M369.13 281.28h0M371.58 290.16h0M379 279.5h0M374.6 291.36h0M382.51 291.46h0M378.61 288.33h0M376.67 288.08h0M372.96 290.48h0M375.47 291.39h0M371.71 291.6h0M376.2 291.44h0M377.7 291.54h0M377.81 284.07h0M371.54 290.59h0M379.7 287.2h0M374.33 290.29h0M369.54 291.53h0M371.52 282.63h0M367.41 280.69h0M374.55 289.59h0M374.76 291.59h0M376.25 289.75h0M376.32 289.17h0M371.66 282h0M371.5 287.11h0M377.67 286.55h0M369.68 289.41h0M380.56 287.95h0M368.09 291.55h0M378.3 289.91h0M371.41 291.16h0M369.99 291.6h0M381.21 291.24h0M377.58 290.44h0M369.72 283.33h0M378.41 277.31h0M369.56 290.57h0M379.21 291.54h0M374.88 291.6h0M366.7 291.59h0M375.75 291.42h0M385.17 291.55h0M370.83 281.01h0M382.37 290.88h0M377.02 291.44h0M371.06 283.62h0M374.96 291.59h0M373.78 290.39h0M374.86 291.46h0M374.41 289.22h0M375.16 291.6h0M377.81 291.6h0M377.57 285.43h0M373.24 289.4h0M380.62 291.28h0M372.39 291.47h0M376.93 287.41h0M376.11 291.6h0M382.18 280.68h0M381.65 278.26h0M378.77 288.36h0M372.54 291.35h0M379.59 285.6h0M367.18 291.45h0M372.04 290.19h0M373.15 287.68h0M377.6 288.07h0M378.34 290.83h0M380.49 291.13h0M364.51 291.23h0M377.72 286.16h0M364.02 290.56h0M377.47 291.58h0M379.38 291.32h0M371.61 288.96h0M374.93 291.59h0M384.46 288.28h0M382.73 286.79h0M374.14 291.49h0M366.4 287.01h0M381.21 285.2h0M375.64 291.19h0M380.62 291.32h0M373.33 290.49h0M383 288.56h0M377.11 289.51h0M378.7 287.45h0M374.92 291.44h0M370.7 277.02h0M376.21 291.31h0M381.92 290.95h0M380.79 290.98h0M385.84 281.81h0M373.78 288.42h0M374.64 291.38h0M371.03 290.11h0M374.42 291.42h0M377.29 289.38h0M379.67 287.05h0M378.34 290.56h0M375.4 291.21h0M380.38 291.26h0M374.47 291.58h0M378.17 291.59h0M370.1 291.33h0M379.19 284.82h0M378.87 291.42h0M379.64 291.48h0M380.87 291.6h0M368.02 290.39h0M375.77 290.33h0M378.19 290.66h0M365.51 282.07h0M381.35 284.07h0M379.58 291.11h0M383.52 289.34h0M369.32 291.5h0M377.81 290.17h0M377.77 281.67h0M371.75 289.59h0M381.85 287.39h0M372.67 286.32h0M370.18 291.59h0M372.62 288h0M372.13 291.54h0M370.39 278.61h0M373.54 291.33h0M374.13 291.39h0M370.28 291.49h0M384.69 291.4h0M369.1 290.72h0M374.89 291.43h0M371.25 291.01h0M373.11 291.52h0M388.42 286.92h0M368.41 289.26h0M374.34 291.55h0M377.22 290.15h0M374.51 291.54h0M370.65 277.05h0M380.28 290.94h0M376.47 290h0M380.23 290.17h0M369.17 282.62h0M367.85 290.66h0M380.91 287.69h0M376.55 288.15h0M370.11 287.49h0M377.78 287.4h0M378.32 286.49h0M372.26 289.35h0M383.1 279.99h0M377.75 286.95h0M380.24 283.35h0M375.66 291.31h0M372.78 289.8h0M380.28 289.12h0M383.97 291.16h0M374.34 291.59h0M372.42 291.15h0M373.38 291.59h0M371.48 283.29h0M381.98 282.52h0M366.67 287.94h0M366.69 290.62h0M377.22 291.57h0M374.07 289.7h0M376.81 285.57h0M365.49 280.03h0M373.49 291.52h0M369.98 291.36h0M377.89 291.53h0M379.04 291.55h0M382.05 290.43h0M385.83 282.07h0M370.23 291.6h0M375.93 291.6h0M366.56 286.63h0M370.04 281.84h0M376.98 290.63h0M373.22 287.52h0M376.68 291.47h0M371.03 291.6h0M376.18 291.6h0M371.77 291.43h0M380.54 291.59h0M377.8 280.63h0M381.53 291.6h0M364.76 290.78h0M372.34 291.3h0M383.13 291.4h0M379.81 288.95h0M372.71 289.38h0M380.92 278.91h0M374.34 290.2h0M374.94 291.5h0M380.82 282.58h0M376.64 289.73h0M376.45 291.3h0M372.86 290.7h0M372.55 288.54h0M378.8 287.68h0M370.18 291.04h0M374.91 291.55h0M365.59 290.76h0M377.39 290.54h0M381.39 289.92h0M376.04 289.33h0M373.86 288.99h0M376.83 289.15h0M378 289h0M370.89 291.59h0M385.63 289.52h0M367.46 291.26h0M371.61 290.52h0M381.73 289.15h0M371.12 291.43h0M379.9 291.59h0M384.14 289.93h0M371.51 289.9h0M373.8 286.14h0M370.26 287.28h0M379.85 291.59h0M383.63 281.55h0M375.69 291.57h0M370.87 289.76h0M365.89 289.37h0M367.96 289.96h0M366.43 290.2h0M374.47 291.41h0M374.67 291.59h0M378.47 290.08h0M372.01 289.94h0M374.15 287.97h0M378.32 291.56h0M376.6 290.67h0M370.08 290.05h0M375.45 291.58h0M369.11 283.68h0M374.62 291.35h0M387.24 287.41h0M382.92 290.3h0M377.22 283.2h0M383.67 287.95h0M369.94 291.57h0M375.76 291.6h0M372.31 290.81h0M373.39 291.59h0M376.96 286.56h0M377.32 286.38h0M377.7 291.6h0M379.09 290.46h0M376.74 291.57h0M369.85 281.2h0M374.85 291.35h0M376.7 285.34h0M371.89 288.47h0M370.09 289.06h0M374.66 291.58h0M372.09 283.02h0M377.96 289.55h0M380.23 286.72h0M374.3 291.34h0M376.64 291.58h0M371.77 291.6h0M370.06 291.36h0M380.15 288.01h0M376.26 288.13h0M382.82 291.09h0M375.82 291.54h0M374.19 290.38h0M382.25 287.53h0M367.67 290.43h0M380.38 280.4h0M386.62 288.92h0M375.38 291.53h0M376.79 285.14h0M365.97 290.95h0M375.79 291.6h0M378.54 285.51h0M370.03 291.02h0M378.12 281.87h0M373 291.41h0M376.83 283.99h0M372.86 282.77h0M382.54 291.45h0M371.33 287.06h0M368.83 281.82h0M373.76 290.94h0M388.43 286.62h0M380.47 287.13h0M373.69 288.83h0M375.91 291.27h0M374.57 291.59h0M378.76 279.55h0M376.41 290.59h0M379.01 288.85h0M370.35 291.14h0M375.11 291.43h0M374.35 291.59h0M370.56 291.53h0M376.16 290.46h0M369.92 291.6h0M370.71 285.06h0M375.54 291.58h0M379.22 291.22h0M375.43 291.47h0M377.36 288.24h0M373.46 287.28h0M378.85 288h0M372.02 290.46h0M374.19 291.6h0M384.87 291.6h0M376.81 291.04h0M370.48 290.63h0M371.72 289.48h0M368.48 289.49h0M378.35 279.96h0M374.02 288.64h0M378.64 285.89h0M381.6 288.37h0M380.21 289h0M375.82 291.56h0M375.84 289.82h0M374.21 291.19h0M377.37 291.23h0M362.71 281.57h0M371.34 290.81h0M377.51 291.27h0M371.35 291.6h0M372.14 284.22h0M375.9 291.51h0M382.55 291.34h0M375.58 291.6h0M364.96 283.4h0M370.39 277.17h0M377.02 286.31h0M376.28 291.33h0M377.67 287.74h0M370.05 289.75h0M381.46 286.3h0M364.38 291.54h0M373.23 291.1h0M378.53 291.59h0M378.93 291.18h0M373.55 283.89h0M372.3 285.36h0M375.69 291.6h0M377.28 291.53h0M379.61 289.93h0M373.72 291.17h0M375.26 291.36h0M376.16 291.6h0M377.27 289.37h0M370.86 291.6h0M377.96 290.06h0M368.16 290.58h0M375.13 291.55h0M385.77 282.35h0M374.07 291.58h0M373.68 289.34h0M378.25 289.2h0M370.75 291.03h0M377.56 288.25h0M372.76 291.36h0M374.41 291.32h0M368.99 291.5h0M371.1 282.42h0M376.83 284.14h0M379.87 288.19h0M373.58 291.54h0M384.27 291.6h0M368.71 284.42h0M373.32 287.8h0M376.15 291.23h0M380.47 291.2h0M378.71 279.38h0M368.56 285.64h0M370.47 284.32h0M380.52 291.37h0M376.09 291.58h0M370.91 287.07h0M373.09 285h0M374.31 288.67h0M376.91 291.6h0M386.01 284.08h0M372.95 289.65h0M374.37 291.32h0M372.15 291.39h0M377.24 284.74h0M378.54 289.27h0M369.85 290.61h0M369.01 290.66h0M374.86 291.57h0M375.73 291.54h0M378.2 286.87h0M370.99 291.06h0M377.2 291.55h0M370.93 290.37h0M370.35 290.73h0M377.92 283.07h0M377.31 291.31h0M370.68 278.63h0M365.43 291.52h0M385.86 280.34h0M378.5 291.59h0M371.65 291.6h0M372.76 290.38h0M372.83 291.41h0M371.79 291.17h0M376.61 291.56h0M380.13 289.79h0M376.81 290.68h0M372.08 282.31h0M375.29 291.58h0M376.11 291.58h0M376.5 285.93h0M379.61 279.47h0M371.09 291.6h0M371.82 282.83h0M376.38 290.86h0M365.35 288.86h0M376.09 289.53h0M376.83 291.5h0M382.59 291.57h0M380.17 285.34h0M372.6 279.56h0M370.24 291.59h0M374.79 291.6h0M378.6 291.1h0M377.47 291.22h0M364.63 285.59h0M378.88 279.25h0M377.51 290.83h0M379.26 291.21h0M367.96 287.72h0M373.55 289.68h0M371.57 281.19h0M373.22 291.6h0M371.18 291.17h0M373.06 282.26h0M366.85 291.25h0M378.08 291.59h0M377.49 280.66h0M378.81 288.47h0M373.04 284.35h0M380.05 290.99h0M379.77 278.9h0M384.74 289.22h0M379.57 286.51h0M366.14 290.75h0M381.27 285.01h0M377.69 289.66h0M374.11 291.55h0M373.75 286.47h0M379.75 289.8h0M376.05 291.24h0M373.74 287.67h0M376.77 289.63h0M377.5 282.53h0M375.81 290.47h0M374.9 291.48h0M371.31 290.98h0M375.8 290.01h0M378.92 291.6h0M362.93 287.4h0M371.94 291.22h0M375.19 291.56h0M371.37 288.85h0M371.96 282.72h0M375.07 291.6h0M376.4 288h0M379.56 286.25h0M374.41 291.6h0M381.93 280.26h0M374.48 291.6h0M375.55 291.51h0M378.61 291.36h0M380.73 284.88h0M377.12 291.6h0M375.76 291.48h0M371.59 289.64h0M378.16 291.58h0M375.53 291.37h0M369.88 290.92h0M378.67 291.28h0M376.28 290.8h0M375.02 291.28h0M376.78 291.15h0M379.41 288.4h0M374.59 291.54h0M377.48 284.79h0M379.75 291.23h0M374.39 291.57h0M372.78 282.99h0M371.48 286.27h0M375.41 291.59h0M380.35 290.34h0M372.27 291.37h0M384.06 289.71h0M368.56 291.38h0M374.8 291.59h0M374.11 291.53h0M378.84 290.84h0M377.5 291.55h0M377.73 287.44h0M369.39 287.64h0M376.58 290.38h0M385.31 288.26h0M375.11 291.6h0M374.08 291.58h0M368.64 291.49h0M372.15 291.55h0M370.61 282.72h0M379.18 288.39h0M369.32 291.52h0M376.2 290.42h0M371.81 290.28h0M377.07 291.58h0M374.44 289.54h0M379.18 279.52h0M379.17 284.01h0M379.03 290.88h0M375.07 291.59h0M370.66 280.19h0M379.63 278.59h0M371.04 290.11h0M374.32 291.6h0M380.93 290.48h0M383.91 291.13h0M372.27 287.6h0M376.69 287.48h0M378.83 291.6h0M372.86 291.33h0M370.38 289.52h0M368.5 285.5h0M377.36 285.88h0M370.44 291.59h0M372.91 290.65h0M364.23 291h0M377.52 281.82h0M372.89 287.25h0M375.58 291.53h0M377.33 290.96h0M379.5 288.28h0M376.75 291.42h0M376.09 291.37h0M373.57 291.6h0M372.73 291.34h0M377.06 286.51h0M372.53 291.49h0M379.52 291.26h0M377.31 291.58h0M376.41 288.1h0M381.39 285.76h0M376.08 291.57h0M373.27 291.53h0M376.45 289.33h0M376.88 290.79h0M389.13 282.89h0M377.39 291.59h0M367.54 291.08h0M378.29 291.39h0M371.83 291.6h0M375.04 291.57h0M385.16 289.9h0M369.52 291.46h0M373.3 282.74h0M366.2 290.66h0M363.22 288.74h0M375.62 291.46h0M374.92 291.51h0M376.96 291.6h0M376.68 290.54h0M381.22 285.93h0M371.96 277.83h0M379.33 283.07h0M379.39 278.78h0M368.15 286.96h0M372.18 291.6h0M377.22 291.52h0M385.6 289.57h0M375.03 291.59h0M378.04 290.61h0M376.59 285.74h0M373.95 291.48h0M372.46 289.72h0M370.52 284.36h0M376.44 288.17h0M373.62 288.87h0M372.93 291.52h0M370.88 291.29h0M372.61 287.7h0M380.57 282.84h0M368.31 289.95h0M370.84 286.84h0M366.88 290.23h0M377.63 290.53h0M374.94 291.59h0M381.91 291.24h0M377.79 285.03h0M378.4 285.57h0M378.27 291.6h0M369.44 291.28h0M368.74 291.3h0M374.63 291.35h0M376.01 291.6h0M379.86 290.16h0M374.17 291.59h0M379.12 289.03h0M377.24 288.82h0M375.78 291.12h0M374.21 288.34h0M378.25 279.42h0M383.58 288.89h0M370.6 283.49h0M379.57 288.3h0M367.71 281.39h0M380.67 289.19h0M376.35 289.41h0M374.47 291.6h0M374.47 291.6h0M373.61 291.6h0M380.7 288.6h0M373.72 291.4h0M371.76 287.84h0M369.27 288.59h0M372.25 279.41h0M377.53 291.57h0M370.33 291.58h0M363.75 288.94h0M375.78 291.36h0M379.81 284.4h0M380.11 286.49h0M372.43 290.56h0M375.06 291.34h0M371.84 277.74h0M369.66 291.6h0M373.88 287.88h0M375.01 291.6h0M368.6 291.56h0M368.54 291.59h0M373.69 291.54h0M369.76 291.58h0M371.52 291.59h0M376.17 291.5h0M371.09 291.6h0M380.99 291.59h0M376.62 290.39h0M372.4 281.09h0M376.91 289.93h0M379.65 290.63h0M375.5 291.59h0M378.11 290.37h0M383.22 282.88h0M370.01 279.61h0M373.44 291.6h0M369.46 291.55h0M369.36 291.59h0M373.59 289.64h0M377.92 289.31h0M372.21 282.6h0M371.85 291.49h0M373.32 291.6h0M371.77 286.82h0M379.61 288.95h0M382.56 289.07h0M373.47 291.19h0M377.2 287.82h0M376.11 288.52h0M378.25 288.24h0M373.63 290.8h0M377.54 288.25h0M373.32 291.53h0M379.47 290.04h0M379.05 290.28h0M374.09 291.56h0M368.53 290.75h0M371.56 279.99h0M369.72 291.55h0M372.2 289.58h0M382.99 291.16h0M377.84 284.42h0M369.87 285.65h0M379.69 285.72h0M373.46 288.58h0M376.52 290.08h0M376.05 291.56h0M374.35 291.54h0M377.25 289.74h0M373.23 291.59h0M379.11 291.57h0M373.69 284.99h0M367.53 289.65h0M371.74 288.81h0M372.25 278.83h0M368.87 278.4h0M371.98 291.18h0M365.61 291.57h0M380.98 291.57h0M369.18 286.31h0M374.29 290.01h0M378.94 291.6h0M378.25 283.68h0M364.21 289.37h0M379.03 289.73h0M376.45 289.26h0M380.43 291.59h0M375.16 291.6h0M383.43 287.83h0M375.14 291.58h0M374.96 291.56h0M377.52 290.13h0M379.44 291.6h0M378.3 281.49h0M378.85 290.73h0M363.94 289.37h0M372.71 289.98h0M376.77 291.35h0M379.97 287.62h0M380.03 285.67h0M368.75 291.57h0M381.43 283.75h0M377.51 284.48h0M376.41 290.72h0M372.44 286.38h0M380.7 287.95h0M375.83 290.89h0M376.73 290.06h0M373.1 284.28h0M386.62 283.71h0M380.95 284.38h0M381.29 290.18h0M380.08 290.69h0M378.2 289.37h0M377.51 290.1h0M378.16 281.45h0M377.92 291.53h0M379.9 284.51h0M374.26 288.57h0M374.99 291.6h0M372.17 291.58h0M378.09 285.4h0M374.45 291.59h0M376.39 290.3h0M375.25 291.57h0M382.74 290.59h0M378.51 280.97h0M370.21 291.49h0M378.98 286.15h0M370.58 290.98h0M380.05 280.1h0M376.31 288.07h0M373.84 291.28h0M368.63 288.97h0M372.2 291.6h0M372.57 291.57h0M383.27 290.17h0M379.47 286.28h0M373.77 290.39h0M379.79 286.31h0M372.79 291.08h0M379.39 290.83h0M372.58 280.27h0M374.62 291.6h0M366.45 291.54h0M373.39 291.59h0M378.1 281.05h0M367.61 288.9h0M376.25 291.59h0M376.62 290.21h0M379.95 289.34h0M369.78 291.02h0M379.75 288.48h0M377.51 291.13h0M369.3 284.08h0M379.07 290.35h0M378 290.46h0M372.7 281.7h0M371.21 281.84h0M377.08 291.53h0M385.45 291.36h0M372.76 291.59h0M369.19 288.72h0M391.04 280.76h0M376.85 287.98h0M375.51 291.59h0M387.7 285.98h0M378.88 283.87h0M371.09 290.99h0M374.53 290.61h0M377.43 291.6h0M377.77 285.11h0M369.94 287.53h0M370.46 282.98h0M383.96 287.38h0M380.21 288.29h0M379.37 288.61h0M377.91 287.51h0M369.42 290.55h0M370.52 291.12h0M379.01 291.59h0M371.92 284.12h0M379.87 288.42h0M374.47 291.58h0M369.63 287.94h0M375.65 291.45h0M377.34 291.53h0M371.09 284.25h0M371.92 291.58h0M378.48 279.45h0M379.78 288.78h0M377.9 284.79h0M374.01 287.51h0M375.12 291.6h0M373.8 288.99h0M380.58 287.98h0M371.9 291.57h0M371.59 287.35h0M380.34 290.59h0M373.26 290.49h0M371.35 286.57h0M377.72 289.62h0M364.66 291.21h0M369.32 290.01h0M370.44 286.19h0M374.26 289.38h0M382.52 291.55h0M381.32 291.58h0M365.63 285.29h0M382.1 286.34h0M374 291.6h0M378.6 291.59h0M388.6 280.11h0M377.04 290.86h0M372.17 284.06h0M383.64 278.81h0M375.15 291.36h0M372.61 281.56h0M374.64 291.01h0M375.96 291.32h0M371.79 284.62h0M373.53 285.84h0M374.49 291.57h0M375.54 291.6h0M382.08 289.85h0M373.62 286.24h0M377.6 286.22h0M375.2 291.6h0M378.29 285.33h0M385.55 291.6h0M372.24 291.19h0M372.62 281.08h0M373.76 287.6h0M381.18 290.08h0M374.41 288.91h0M388.53 283.85h0M377.25 291.01h0M377.54 287.28h0M378.5 284.22h0M375.43 291.57h0M372.42 291h0M373.98 286.78h0M377.22 291.15h0M377.15 289.31h0M371.7 279.82h0M372.34 282.1h0M380.12 290.42h0M366.95 290.95h0M374.32 291.6h0M372.73 287.48h0M378.2 277.01h0M370.91 291.36h0M367.91 290.95h0M381.43 290.1h0M373.7 290.45h0M381.62 282.36h0M374.73 291.51h0M376.16 290.06h0M379.34 280.12h0M369.89 289.63h0M378.14 285.74h0M376.57 288.92h0M373.92 287.94h0M379.98 290.23h0M379.72 291.1h0M377.05 290.8h0M374.69 291.6h0M373.58 291.57h0M375.9 291.51h0M373.95 291.48h0M382 289.43h0M374.35 291.44h0M371.71 286.51h0M378.94 281.46h0M376.89 290.91h0M378.54 291.6h0M375.59 291.54h0M372.24 291.6h0M371.47 288.57h0M374.1 291.18h0M376.7 290.05h0M370.82 291.6h0M380.88 280.27h0M376.4 291.58h0M376.84 287.28h0M374.36 290.93h0M373.51 287.95h0M374.05 291.6h0M364.38 284.45h0M373.19 291.31h0M388.28 279.65h0M377.56 286.23h0M375.46 291.18h0M372.81 290.76h0M376.9 291.6h0M374.18 288.6h0M370.92 283.37h0M365.69 291.55h0M368.69 285.11h0M373.14 291.41h0M376.56 291.52h0M370.85 291.53h0M370.46 286.46h0M378 288.63h0M386.03 288.74h0M370.43 291.59h0M379.3 289.12h0M374.52 291.01h0M383.15 287.44h0M374.05 289.38h0M376.84 287.94h0M371.09 288.43h0M377.11 289.35h0M376.39 291.59h0M369.9 291.52h0M361.97 290.35h0M374.44 291.53h0M383.59 289.43h0M367.44 279.24h0M379.58 291.44h0M372.13 281.41h0M368.18 286.74h0M370.44 290.39h0M380.94 290.16h0M364.57 290.14h0M372.98 291.4h0M370.15 291.05h0M375.95 291.1h0M369.52 291.35h0M378.47 291.55h0M371.63 289.58h0M373.11 286.76h0M376.17 291.46h0M384.28 290.19h0M365.26 281.49h0M380.27 289.61h0M379.26 290.41h0M377.57 281.59h0M379.07 279.73h0M368.19 291.27h0M368.03 286.01h0M375.84 290.44h0M372.12 291.35h0M369.51 286.61h0M376.49 287.18h0M367.99 282.38h0M367.44 290.85h0M371.6 291.48h0M378.95 285.31h0M368.8 291.31h0M383.81 291.6h0M378.87 291.45h0M372.4 290.14h0M362.69 286.55h0M383.34 291.46h0M376.74 291.25h0M375.88 291.43h0M367.9 280.84h0M368.25 285.44h0M379.99 286.58h0M381.26 288.74h0M371.64 291.6h0M372.17 291.46h0M371.67 277.12h0M371.81 291.5h0M384.75 291.3h0M377.89 291.48h0M386.01 291.55h0M374.95 291.41h0M375.2 291.39h0M373.89 288.94h0M379.56 286.47h0M380.77 289.95h0M378.45 285.92h0M375.51 291.56h0M380.81 290.64h0M369 281.68h0M373.02 291.6h0M376.48 287.51h0M379.17 282.33h0M383.51 288.06h0M375.5 291.52h0M384.1 284.92h0M377.64 290.31h0M378.83 282.52h0M368.27 291.4h0M378.25 288.95h0M380.99 287.07h0M370.72 291.6h0M371.01 279.16h0M372.9 289.99h0M377.84 282.96h0M378.56 281.2h0M372.73 289.32h0M382.7 285.08h0M374.92 291.57h0M375.8 290.94h0M383.08 277.57h0M377.13 290.8h0M371.17 282.62h0M379.62 291.6h0M369.98 290.99h0M373.58 291.04h0M375.36 291.28h0M384.72 291.53h0M385.12 291.36h0M373.27 289.5h0M377.36 291.6h0M379.43 288.47h0M374.48 291.09h0M373.73 291.32h0M375.58 291.59h0M369.66 287.58h0M378.02 278.37h0M384.5 291.44h0M371.7 290.55h0M386.12 291.56h0M380.23 291.59h0M378.52 290.6h0M377 289.43h0M377.39 291.2h0M374.8 291.55h0M370.66 288.89h0M373.53 286.57h0M386.64 291.6h0M378.16 291.25h0M376.53 291.3h0M373.17 291.6h0M380.28 288.68h0M375.68 291.43h0M379.66 291.5h0M366.06 291.6h0M375.64 291h0M376.56 289.45h0M383.66 287.97h0M377.8 284.48h0M378.93 287.14h0M368.17 282.34h0M379.56 290.53h0M374.15 291.44h0M375.4 291.51h0M378.52 290.77h0M377.74 290.83h0M373.3 288.78h0M370.88 289.03h0M378.83 291.59h0M365.55 282.05h0M374.48 291.23h0M373.44 290.78h0M375.36 291.58h0M377.26 283.72h0M377.2 290.25h0M380.66 287.5h0M372.38 291.6h0M364.88 291.5h0M372.71 281.86h0M378.15 288.15h0M372.19 285.39h0M378.85 291.24h0M381.57 281.87h0M376.65 291.59h0M365.58 290.38h0M372.08 291.6h0M366.68 291.59h0M372.33 291.55h0M380.59 288.26h0M376.16 288.9h0M376.93 287.15h0M373.05 291.6h0M369.6 291.46h0M368.09 291.48h0M378.52 291.6h0M379.72 280.9h0M374.86 291.29h0M371.26 290.65h0M374.25 288.49h0M363.7 283.41h0M377.67 291.57h0M370.29 290.49h0M373 283.18h0M376.5 290.25h0M374.78 291.22h0M373.04 290.41h0M378.98 289.24h0M373.71 290.2h0M378.73 290.9h0M380.77 290.6h0M383.33 283.48h0M381.66 291.24h0M379.88 285.58h0M376.54 287.39h0M376.08 288.3h0M376.68 291.29h0M371.28 290.83h0M366.84 290.79h0M377.8 290.81h0M385.8 287.93h0M379.53 289.8h0M379.66 288.48h0M368.76 288.63h0M373.35 289.16h0M380.07 290.21h0M378.58 290.91h0M379.99 285.95h0M373.04 291.6h0M374.6 291.59h0M372.03 279.78h0M381.61 289.97h0M377.1 288.39h0M375 291.38h0M390.92 277.87h0M372.9 289.04h0M367.72 284.8h0M374.55 291.21h0M369.62 282.44h0M371.43 289.47h0M367.22 290.56h0M375.5 291.6h0M374.29 290.94h0M378.95 282.74h0M372.96 291.33h0M380.68 289.58h0M365.38 288.95h0M379.24 280.77h0M375.96 291.13h0M375.54 291.6h0M378.35 290.43h0M373.97 290.6h0M375.51 291.55h0M372.65 288.62h0M368.67 285.33h0M363.97 279.49h0M376.73 286.04h0M369.75 288.8h0M377.83 287.91h0M374.8 291.43h0M368.17 290.97h0M382.41 282.25h0M367.86 288.68h0M375.56 291.54h0M385.37 288.42h0M383.52 290.77h0M368.21 291.6h0M370.9 291.6h0M369.97 284.9h0M380.56 278.43h0M377.03 291.59h0M376.93 287.96h0M376.25 291.2h0M375.3 291.2h0M376.84 289.77h0M381.52 279.01h0M385.85 291.3h0M379.14 290.63h0M375.92 290.86h0M375.35 291.56h0M379.3 278.33h0M369.94 290.67h0M372.84 291.6h0M367.79 287.55h0M376.99 288.2h0M364.76 291.55h0M372.54 291.49h0M379.88 283.99h0M366.74 291.07h0M373.13 291.57h0M386.58 289.16h0M376.59 286.51h0M378.13 291.34h0M368.73 291.6h0M373.94 291.55h0M361.02 288.48h0M369.97 290.04h0M381.46 291.03h0M375.16 291.59h0M367.86 278.65h0M380.68 277.69h0M378.79 284.88h0M373.45 287.85h0M373.58 291.49h0M363.71 291.6h0M371.38 284.63h0M375.45 291.55h0M364.98 291.6h0M379.63 291.34h0M377.34 291.36h0M378.27 291.39h0M373.49 290.84h0M381.22 291.49h0M373.2 288.43h0M374.94 291.58h0M379.01 279.67h0M379.63 277.39h0M377.48 290.43h0M371.09 290.92h0M377.82 290.31h0M373.27 291.6h0M378.37 291.55h0M366.13 279.95h0M381.83 280.71h0M366.07 286.59h0M378.58 291.48h0M379.07 282.72h0M372.91 291.22h0M381.16 285.37h0M376.72 291.32h0M378.45 290h0M379.72 279.28h0M378.25 291.59h0M367.3 291.6h0M376.53 291.09h0M376.96 287.77h0M378.24 291.09h0M375.17 291.59h0M377.59 287.73h0M377.96 287.65h0M378.17 290.16h0M379.07 280.28h0M386.76 290.5h0M381.37 286.06h0M380.96 289.93h0M365.13 289.87h0M372.8 290.98h0M382.97 291.57h0M372.6 291.6h0M378.91 282.9h0M381.42 291.39h0M371.44 286.3h0M365.95 289.42h0M386.07 291.1h0M378.19 290.13h0M369.9 285.25h0M373.98 289.27h0M369.81 277.76h0M373.73 291.5h0M372.96 291.42h0M376.18 291.49h0M379.91 287.75h0M379.26 289.28h0M380.69 286.29h0M377.24 291.57h0M373.03 291.58h0M367.63 290.68h0M365.13 287.44h0M377.45 291.6h0M372.26 279.05h0M373.61 291.42h0M375.7 291.38h0M368.75 280.07h0M375.4 291.6h0M374.34 291.6h0M377.64 287.38h0M381.48 288.98h0M383.46 288.58h0M373.09 290.02h0M375.11 291.59h0M379.27 288.97h0M379.88 280.63h0M370.81 291.32h0M374.74 291.6h0M373.39 287.68h0M375.61 291.38h0M375.03 291.48h0M376.77 291.6h0M376.07 291.46h0M380.9 291.48h0M371.21 287.32h0M379.34 289.63h0M376.77 291.59h0M376.39 287.9h0M377.4 285.87h0M383.98 278.27h0M375.67 291.54h0M372.38 291.59h0M374.73 291.25h0M376.84 291.58h0M376.83 287.46h0M374.39 289.67h0M372.08 283.2h0M385.5 291.13h0M364.69 291.59h0M369.95 281.15h0M375.97 291.55h0M376.63 291.14h0M373.38 290.06h0M367.32 291.54h0M374.9 291.6h0M378.38 290.14h0M376.62 290.68h0M377.31 283.71h0M373 290.29h0M372.16 291.58h0M370.63 281.12h0M373.44 289.68h0M381.43 289.94h0M375.45 291.57h0M380.77 291.26h0M378.32 290.73h0M368.91 291.57h0M369.5 291.47h0M379.19 290.86h0M377.18 291.21h0M366 277.9h0M371.28 287.6h0M376.7 291.01h0M380.82 288.73h0M376.38 289.57h0M376.44 290h0M376.87 291.58h0M365.78 281.94h0M376.4 291.47h0M381.1 291.6h0M374.12 291.57h0M378.01 290.43h0M370.32 280.85h0M370.81 291.56h0M386.63 289.97h0M379.44 287.04h0M373.16 282.01h0M381.36 284.35h0M377.01 288.25h0M375.08 291.6h0M374.3 291.48h0M385.75 282.11h0M375.08 291.51h0M377.47 284.96h0M384.57 291.09h0M374.61 290.96h0M375.04 291.6h0M382.12 289.58h0M372.17 290.78h0M380.36 288.87h0M367.4 291.6h0M372.43 291.17h0M378.74 280.73h0M370.43 287.03h0M384.16 289.19h0M377.36 291.08h0M382.53 286.27h0M382.52 291.57h0M371.84 291.09h0M370.48 291.43h0M372.52 291.6h0M371.52 289.08h0M381.27 290.59h0M381.35 288.92h0M385.37 280.67h0M382.03 287.43h0M380.62 289.74h0M372.56 285.64h0M384.53 291.6h0M373.16 286.52h0M382.74 291.53h0M381.62 286.63h0M375.09 291.59h0M374.43 290.32h0M381.4 289.32h0M380.55 288.08h0M379.98 290.5h0M373.73 290.54h0M382.7 291.55h0M378.33 285.58h0M374.74 291.23h0M378.38 281.77h0M374.83 291.51h0M385.07 289.82h0M370.82 277.38h0M371.72 286.79h0M377.19 283.47h0M376.11 290.72h0M383.06 284.48h0M379.55 291.45h0M377.59 286.87h0M375.21 291.27h0M385.37 291.4h0M376.3 291.57h0M371.54 288.17h0M369.69 282.39h0M363.1 286.72h0M377.82 289.88h0M373.12 284.85h0M366.96 287.6h0M373.02 290.95h0M381.91 284.47h0M373.71 287.08h0M376.7 288.4h0M380.16 287.4h0M380.71 285.37h0M373.22 290.35h0M379.36 291.6h0M375.91 290.59h0M374.74 291.6h0M376.51 291.56h0M377.56 290.47h0M364.35 291.6h0M381.87 291.6h0M377.18 291.54h0M373.9 291.6h0M379.2 289.59h0M370.94 285.71h0M368.3 291.55h0M370.8 291.07h0M376.37 291.54h0M372.59 289h0M378.93 288.68h0M372.21 277.78h0M373.09 291.46h0M364.59 291.5h0M386.18 289.6h0M370.86 291.43h0M373.27 283.51h0M375.35 291.6h0M372 291.56h0M374.84 291.55h0M372.67 282.88h0M380.27 291.37h0M373.22 284.9h0M374.61 291.2h0M371.32 288.47h0M370.4 282.4h0M371.1 291.57h0M366.56 290.62h0M365.41 291.27h0M380.82 291.49h0M375.66 291.53h0M380.39 291.59h0M370.33 291.6h0M383.62 283.39h0M375.67 291.58h0M383.87 291.59h0M362.75 288.59h0M375.81 291.33h0M376.87 286.03h0M381.69 291.4h0M367.43 289.26h0M388.78 277.17h0M379.06 280.66h0M388.23 280.45h0M373.12 281.66h0M377.42 281.84h0M383.56 282.88h0M376.49 291.52h0M376.86 289.27h0M373.61 291.56h0M367.01 290.95h0M372.29 288.87h0M380.51 280.61h0M375.06 291.16h0M383.09 285.36h0M380.21 289.94h0M376.02 291.42h0M373.73 290.37h0M375 291.5h0M369.04 291.6h0M376.28 290.42h0M388.39 287.82h0M377.2 290.69h0M380.07 288.03h0M374.39 291.48h0M365.79 289.54h0M362.31 288.47h0M374.72 291.48h0M373.83 291.5h0M375.28 291.51h0M374.95 291.58h0M368.9 285.92h0M370 289.56h0M376.77 291.2h0M374.82 291.52h0M384.86 291.18h0M379.26 283.73h0M384.52 279.77h0M374.47 291.52h0M372.88 289.12h0M379.36 288.89h0M371.91 287.32h0M377.9 281.22h0M375.66 291.26h0M378.05 291.21h0M370.02 288.16h0M365.76 285.16h0M379.41 291.6h0M376.68 290.67h0M383.51 289.25h0M377.02 289.82h0M376.94 285.99h0M367.73 284.84h0M379.89 291.4h0M370.62 288.33h0M374.72 291.47h0M368.63 280.68h0M375.11 291.6h0M371.84 285.04h0M376.74 290.18h0M371.16 286.58h0M377.72 284.28h0M378.86 290.54h0M378.78 290.59h0M365.6 291.49h0M374.44 290.22h0M371.53 284.43h0M369.4 291.55h0M370.24 281.26h0M383.88 289.84h0M371.77 284.55h0M367.06 291.3h0M371.78 291.41h0M370.37 291.6h0M381.68 286h0M385.37 291.6h0M378.53 286.85h0M379.33 284.56h0M373.37 283.43h0M368.55 291.6h0M377.15 282.12h0M377.71 291.51h0M373.44 291.41h0M376.55 288.48h0M374.24 290.6h0M369.49 285.84h0M373.03 281.08h0M382.76 285.33h0M374.49 291.6h0M372.34 283.04h0M378.91 291.05h0M376.06 291.5h0M382.37 291.6h0M379.91 288.56h0M375.99 289.32h0M375.07 291.6h0M370.99 284.72h0M381 288.65h0M375.66 291.59h0M380.58 288.43h0M377.5 286.69h0M371.21 291.01h0M368.04 283.72h0M370.81 281.57h0M365.45 291.52h0M377.97 291.46h0M381.05 278.26h0M373.39 287.21h0M373.93 290.37h0M382.46 288.34h0M386.53 282.06h0M369.8 286.43h0M379 291.33h0M374.38 289.54h0M373.3 290.65h0M376.53 290.81h0M377.46 291.56h0M378.75 290.9h0M375.74 291.6h0M380.23 278.92h0M376.65 285.85h0M371.91 291.59h0M374.66 291.46h0M377.06 290.62h0M380.22 290.89h0M372.32 285.88h0M380.15 291.6h0M371.35 283.05h0M370.48 291.19h0M373.92 286.76h0M381.73 281.76h0M376.5 287.22h0M369.31 291.28h0M377.95 291.56h0M373.89 290.27h0M380.59 291.1h0M374.45 291.6h0M376.71 285.69h0M380.41 285.8h0M370.72 287.5h0M372.3 290.92h0M380.72 287.29h0M375.44 291.42h0M372.25 291.51h0M377.52 279.85h0M378.51 281.91h0M378.58 290.31h0M379.41 289.91h0M367.7 290.18h0M370.15 277.21h0M371.82 291.6h0M376.87 290.89h0M374.59 291.34h0M386.22 288.92h0M377.96 291.58h0M381.61 283.09h0M369.18 291.53h0M381.98 277.5h0M373.95 291.38h0M376.96 291.58h0M371.32 290.85h0M365.87 291.6h0M380.4 286.78h0M383.7 278.24h0M373 286.71h0M377.79 287.47h0M375.78 290.11h0M379.53 291.59h0M382.62 281.55h0M369.58 291.57h0M373.34 291.57h0M378.33 281.22h0M375.78 291.14h0M379.02 290.94h0M372.93 288.67h0M377.35 289.15h0M375.36 291.53h0M368.88 291.59h0M376.57 285.68h0M373.98 286.31h0M370.72 285.16h0M362.76 287.17h0M375.54 291.43h0M374.3 291.57h0M373.38 287.73h0M370.54 290.9h0M378.26 291.47h0M369.76 287.94h0M382.21 291.35h0M380.36 291.29h0M375.2 291.6h0M376.84 287.82h0M375.62 291.57h0M369.62 281.06h0M377.06 291h0M381 291.11h0M375.64 291.58h0M373.91 291.35h0M375.37 291.21h0M375.54 291.24h0M384.31 289.39h0M371.58 290.4h0M373.81 290.66h0M373.08 291.18h0M379.02 277.56h0M379.27 291.59h0M376.86 287.15h0M378.24 286.12h0M366.09 283.19h0M379.88 286.55h0M374.25 290.92h0M375.26 291.58h0M372.21 291.54h0M377.01 284.25h0M380.24 288.21h0M373.09 289.48h0M375.9 291.06h0M376.99 288.03h0M382.62 283.77h0M371.71 278.83h0M369.32 286.97h0M373.32 291.09h0M373.61 289.81h0M376.02 290.01h0M377.74 291.57h0M372.21 291.59h0M374.22 291.54h0M377.02 291.55h0M376.75 291.36h0M373.58 283.91h0M372.01 283.23h0M368.35 285.71h0M365.86 285.7h0M374.35 291.57h0M370.39 282.37h0M376.99 291.27h0M373.73 290.33h0M370.96 291.53h0M375.95 289.04h0M380.47 291.09h0M378.25 284.07h0M379.96 287.55h0M369.7 291.6h0M380.1 289.58h0M379.78 290.38h0M368.65 286.1h0M376.79 287.08h0M373.46 291.6h0M377.75 291.58h0M382.26 281.15h0M374.1 287.54h0M377.85 288.66h0M370.97 291.46h0M382.01 291.42h0M371.55 288.86h0M376.71 286.97h0M377.08 291.27h0M382.01 282.57h0M376.5 291.44h0M376.9 287.13h0M376.26 291.55h0M384.79 284.23h0M369.14 277.98h0M370.4 290.48h0M379 291.25h0M370.94 289.12h0M376.17 287.84h0M374.64 291.27h0M369 291.57h0M367.46 291.37h0M379.86 287.62h0M372.79 289.57h0M377.23 289.67h0M382.57 277.62h0M377.92 291.45h0M368.64 289.84h0M382.18 291.07h0M364.25 289.25h0M371.83 289.13h0M366.54 290.13h0M378.75 291.42h0M375.32 291.31h0M374.54 291.59h0M374.31 290.81h0M371.87 291.6h0M378.52 290.07h0M381.61 289.11h0M377.45 291.42h0M375.66 291.25h0M378.67 291.56h0M377.04 289.69h0M371.43 277.3h0M373.39 287.64h0M378.51 290.91h0M373.19 291.59h0M375.45 291.28h0M373.54 291.45h0M374.33 291.6h0M382.34 287.22h0M374.17 291.6h0M380.74 288.26h0M373.22 291h0M377.89 282.75h0M380.22 290.8h0M375.23 291.52h0M377.09 289.22h0M376.68 289.61h0M374.61 290.5h0M375.11 291.21h0M373.87 291.09h0M370.61 289.47h0M384.82 281.38h0M378.54 288.27h0M371.55 290.47h0M382.62 291.6h0M377.13 290.76h0M375.36 291.57h0M370.24 290.3h0M375.34 291.49h0M373.97 291.51h0M377.02 284.19h0M377.97 288.36h0M374.04 291.59h0M383.26 289.09h0M367.47 291.55h0M374.69 291.6h0M376.6 290.81h0M365.51 280.53h0M375.06 291.6h0M368.77 280.54h0M381.21 289.18h0M372.11 288.81h0M370.24 291.31h0M371.7 291.37h0M375.87 290.12h0M378.07 290.3h0M379.01 287.35h0M365.01 291.55h0M369.56 285.09h0M373.79 291.58h0M361.78 281.07h0M375.68 291.33h0M373.18 284.23h0M373.32 285.64h0M379.14 290.15h0M374.54 291.59h0M377.73 285.3h0M375.88 291.47h0M373.91 291.42h0M374.15 291.42h0M371.67 281.41h0M377.9 279.26h0M377.47 290.64h0M386.18 281.14h0M377.68 289.59h0M381.7 287.01h0M370.03 291.44h0M376.15 291.57h0M386.34 284.68h0M385.81 288.42h0M367.05 286.85h0M379.79 290.03h0M375.98 291.57h0M378.47 290h0M367.29 290.45h0M374.23 291.44h0M371.17 291.32h0M374.28 291.29h0M376.45 291.6h0M372.79 291.58h0M368.99 280.81h0M368.74 291.41h0M365.69 281.49h0M376.83 291.6h0M374.49 291.57h0M378.88 284.99h0M376.02 291.54h0M374.08 291.54h0M374.61 291.5h0M380.78 278.14h0M375.72 291.4h0M374.59 291.55h0M382.27 278.47h0M381.85 286.25h0M370.16 289.17h0M378.73 289.55h0M381.87 283.41h0M379.59 291.59h0M369.97 282.99h0M370.96 283h0M378.34 291.57h0M369 281.88h0M380.04 291.6h0M375.19 291.6h0M372.28 291.58h0M379.77 283.78h0M376.66 291.38h0M367.46 277.19h0M367.29 290.92h0M373.51 291.46h0M370.24 290.59h0M373.05 291.2h0M376.53 286.35h0M378.76 283.55h0M382.95 280.14h0M370.6 291.55h0M374.85 291.6h0M377.43 284.97h0M375.73 291.54h0M374.68 291.48h0M380.78 289.67h0M377.85 288.85h0M376.72 290.72h0M376.1 289.12h0M375.58 291.55h0M369.92 283.99h0M363.24 291.15h0M371.77 280.76h0M375.53 291.49h0M371.82 291.51h0M381.36 291.25h0M375.23 291.59h0M370.12 291.6h0M376.14 291.32h0M375.78 290.87h0M370.76 289.82h0M377.07 291.21h0M385.96 291.42h0M374.69 291.36h0M374.17 291.58h0M384.53 290.25h0M381.47 281.64h0M379.1 287.81h0M374.96 291.53h0M369.57 288.5h0M376.84 288.29h0M376.13 290.69h0M377.51 291.28h0M370.74 289.86h0M373.45 286.16h0M377.78 288.45h0M374.74 291.51h0M370.45 283.69h0M374.59 291.6h0M379.79 282.48h0M377.94 291.36h0M375.35 291.47h0M374.02 291.55h0M377.1 291.58h0M374.33 291.6h0M374.19 291.25h0M374.95 291.57h0M383.82 286.53h0M379.56 277.24h0M375.98 290.75h0M363.13 288.7h0M384.04 282.24h0M368.39 291.19h0M378.37 291.58h0M369.93 287.46h0M375.18 291.56h0M379.82 280.33h0M379.09 291.6h0M370.58 289.42h0M373.71 290.87h0M370.03 289.33h0M388.96 285.85h0M376.49 291.19h0M375.67 291.37h0M381.5 277.53h0M372.48 290.65h0M376.7 290.06h0M384.76 277.07h0M375.69 291.24h0M364.81 289.22h0M384.59 285.91h0M378.36 279.38h0M380.84 288.71h0M380.78 278.63h0M382.95 291.48h0M376.75 291.26h0M374.61 291.26h0M379.45 287.61h0M372.76 290.58h0M369.19 281.12h0M379.86 291.58h0M378.67 291.08h0M375.27 291.58h0M373.37 283.12h0M380.17 291.27h0M369.1 289.13h0M373.41 285.17h0M366.17 291.6h0M382.26 291.6h0M366.27 286.95h0M368.45 290.25h0M371.76 291.17h0M377.18 291.55h0M369.08 290.55h0M376.65 289.08h0M371.34 289.79h0M377.22 289.38h0M380.09 279.1h0M380.4 290.87h0M372.44 291.19h0M367.32 291.6h0M380.68 285.88h0M376.07 291.04h0M378.6 286.72h0M369.65 290.66h0M374.82 291.6h0M374.81 291.47h0M379.92 291.23h0M372.65 291.25h0M376.55 289.91h0M376.57 286.8h0M377.72 290.81h0M374.49 291.57h0M373.21 286.18h0M378.78 282.69h0M373.71 291.6h0M375.37 291.54h0M366.66 291.6h0M371.81 289.57h0M371.72 291.48h0M385.85 280.87h0M379.58 285.85h0M380.5 285.96h0M373.14 287.77h0M371.08 291.37h0M381.82 277.42h0M371.64 288.36h0M380.63 287.44h0M371.33 287.98h0M374.23 291.59h0M374.47 291.59h0M376.04 289.09h0M381.55 291.09h0M380.89 284.51h0M379.87 291.6h0M370.79 287.82h0M372.07 284.45h0M375.4 291.59h0M378.01 290.21h0M371.47 288.89h0M371.74 291.56h0M374.02 290.96h0M374.5 289.58h0M374.29 291.53h0M377.5 290.93h0M364.49 290.95h0M377.31 291.55h0M374.97 291.58h0M366.81 291.6h0M378.24 289.31h0M375.91 289.48h0M379.5 291.54h0M372.56 289.25h0M371.05 289.51h0M376.39 291.47h0M374.54 291.59h0M382.16 281.97h0M365.2 285.99h0M371.8 291.45h0M369.04 291.59h0M373.37 287.53h0M374.12 290.31h0M372.31 291.05h0M377.21 290.3h0M377.33 287.48h0M379.02 278.48h0M383.42 291.51h0M384.45 291.37h0M378.93 291.56h0M370.43 282.06h0M370.7 291.47h0M369.66 281.65h0M375.91 291.35h0M375.57 291.51h0M373.69 286.56h0M379.29 291.01h0M370.38 291.4h0M379.85 279.58h0M376.23 288.33h0M369.39 287.2h0M377.96 291.03h0M381.18 290.83h0M382.06 291.6h0M371.61 288.6h0M375.01 291.56h0M373.38 291.53h0M368.55 291.38h0M367.55 281.44h0M373.74 285.05h0M374.03 290h0M372.01 291.52h0M378.38 291.43h0M372.93 291.09h0M363.78 281.28h0M376.12 291.55h0M371.84 291.56h0M371.07 290.55h0M369.04 285.64h0M373.78 286.74h0M368.11 288.5h0M375.61 291.24h0M376 290.63h0M371.25 288.28h0M368.88 288.16h0M369.56 281.14h0M378.79 291.6h0M380.82 291.47h0M375.19 291.58h0M382.1 284.8h0M376.95 291.55h0M368.87 291.57h0M379.05 290.85h0M377.25 291.55h0M372.32 289.11h0M380.41 291.51h0M381.76 290.15h0M366.23 291.54h0M371.75 289.86h0M374.52 290.83h0M372.3 277.62h0M381.45 287.58h0M364.54 291.24h0M370.8 291.13h0M380.12 288.38h0M378.27 289.37h0M371.86 291.48h0M370.15 291.2h0M371.7 291.43h0M375.29 291.59h0M380.21 280.54h0M373.69 291.6h0M374.27 291.48h0M378.98 279.43h0M379.85 283.04h0M373.95 289.27h0M368.31 291.6h0M377.62 288.17h0M378.93 281.41h0M370.33 290.57h0M370.51 291.55h0M374.66 291.46h0M378.51 279.41h0M374.47 290.91h0M374.17 288.03h0M377.36 291.59h0M376.71 288.66h0M382.22 291.6h0M373.82 289.1h0M368.04 284.95h0M378.36 291.6h0M382 283.48h0M361.65 285.89h0M385.97 286.83h0M378.03 288.05h0M381.61 289.25h0M379.01 285.53h0M377.01 291.6h0M378.53 287.57h0M374.65 291.6h0M375.3 291.6h0M380.71 291.55h0M378.84 288.61h0M374.89 291.6h0M376.97 290.59h0M377.83 288.54h0M377.88 287.22h0M362.37 287.78h0M372.86 291.3h0M375.72 291.27h0M375.84 291.57h0M370.99 288.03h0M382.01 279.29h0M380.83 287.87h0M375.8 291.33h0M379.55 284.55h0M366.33 291.46h0M376.42 290.55h0M377.28 289.68h0M374.8 291.45h0M368.82 288h0M381.63 291.51h0M371.25 277.95h0M374.94 291.46h0M368.96 289.73h0M370.92 291h0M370.89 278.73h0M371.83 289.29h0M380.09 291.6h0M375.43 291.59h0M373.61 290.33h0M385.05 283.55h0M377.05 284.92h0M372.98 281.97h0M379.06 285.98h0M373.84 291.6h0M372.58 279.93h0M376.62 288.85h0M382.53 279.15h0M380.63 291.55h0M373.38 284.62h0M370.16 291.13h0M375.32 291.6h0M374.98 291.16h0M374.63 290.68h0M380.06 287.16h0M377.97 278.57h0M373.55 287.94h0M367.28 291.6h0M380.81 290.16h0M375.25 291.5h0M370.86 291.39h0M375.2 291.15h0M370 290.22h0M377.97 291.51h0M372.97 289.13h0M371.24 291.19h0M381.63 291.09h0M369.79 288.12h0M368.42 279.34h0M378.88 279.16h0M370.93 282.35h0M372.26 281.32h0M369.65 288.68h0M383.09 286.94h0M371.39 291.57h0M378.37 287.51h0M378.14 284.51h0M380.31 284.72h0M377.9 291.5h0M377.4 291.44h0M362.23 287.84h0M367.57 279.42h0M378.9 280.05h0M369.7 291.54h0M381.42 288.73h0M371.04 291.6h0M379.98 291.6h0M385.87 284.38h0M382.84 291.6h0M377.1 291.58h0M374.22 288.48h0M378.67 284.02h0M384.77 283.55h0M379.45 291.18h0M383.85 286.02h0M371.78 291.53h0M377.4 288.09h0M389.55 278.97h0M383.96 285.78h0M375.69 291.59h0M368.95 291.6h0M377.7 291.37h0M369 291.27h0M370.05 279.38h0M375.65 291.6h0M378.51 287.6h0M375.97 289.62h0M374.3 291.6h0M375.84 289.97h0M376.2 291.18h0M375.29 291.56h0M374.58 291.26h0M366.49 285.18h0M380.55 291.51h0M373.29 289.93h0M378.27 283.4h0M370.11 291.47h0M374.53 290.68h0M368.97 288.04h0M382.93 291.6h0M378.82 288.88h0M384.81 282.52h0M379.64 280.17h0M375.27 291.52h0M373.74 289.49h0M368.27 291.44h0M380.4 286.07h0M374.71 291.58h0M362.59 287.92h0M383.67 291.39h0M382.74 290.27h0M379.01 290.48h0M375.36 291.6h0M362.62 283.07h0M383.93 286.71h0M372.06 285.65h0M374.52 291.1h0M377.56 291.58h0M371.29 291.32h0M373.67 291.07h0M374.93 291.36h0M360.29 279.97h0M379.49 290.99h0M374.63 290.31h0M377.01 291.52h0M372.64 291.59h0M380.75 288.86h0M370.99 288.06h0M370.94 290.47h0M374.93 291.6h0M383.69 290.25h0M376.1 291.53h0M375.53 291.56h0M369.76 291.02h0M378.32 291.6h0M380.65 291.36h0M371.28 289.69h0M379.19 284.08h0M378.38 289.11h0M376.93 291.6h0M373.19 283.53h0M374.08 290.65h0M374.86 291.55h0M370.49 287.47h0M377 286.56h0M369.43 291.6h0M373.78 290.77h0M373.21 284.14h0M380.49 291.52h0M379.16 279.99h0M373.75 291.59h0M368.6 291.59h0M379.76 280.29h0M376.26 290.92h0M375.91 290.96h0M388.92 285.74h0M371.91 286.17h0M378.67 288.66h0M377 287.1h0M378.47 289.63h0M382.25 290.96h0M377.36 282.07h0M375.11 291.59h0M374.06 291.27h0M381.67 286.44h0M372.78 290.51h0M373.58 291.34h0M375.39 291.6h0M372.97 283.49h0M376.83 291.59h0M369.24 290.5h0M375.02 291.5h0M375.35 291.4h0M374.94 291.56h0M372.44 291.34h0M371.25 284.11h0M372.1 286.57h0M376.22 288.63h0M372.15 291.19h0M380.14 290.29h0M378 280.45h0M376.28 290.86h0M384.17 289.41h0M367.93 291.58h0M380.73 289.63h0M372.46 291.55h0M373.58 291.28h0M382.45 290.71h0M373.33 286.42h0M376.71 289.46h0M375.76 291.56h0M375.76 290.57h0M374.55 290.22h0M373.73 291.45h0M373.2 291.52h0M375.25 291.52h0M375.13 291.16h0M383.71 288.99h0M371.15 289.98h0M373.75 290.87h0M379.17 287.18h0M367.05 291.59h0M368.58 291.5h0M382.67 286.67h0M381.56 285.71h0M371.85 277.59h0M377.42 290.95h0M388.25 285.09h0M371.32 285.19h0M374.26 290.99h0M375.92 291.57h0M374.1 290.62h0M372.88 291.17h0M385.52 290.11h0M373.44 285.16h0M369.07 290.03h0M372.48 282.64h0M374.4 291.45h0M377.41 288.42h0M372.68 291.6h0M373.53 290.24h0M375.76 290.49h0M374.73 291.52h0M379.64 290h0M370.29 291.6h0M375.12 291.59h0M370.45 279.56h0M367.53 291.59h0M379.81 289.74h0M383.65 284.29h0M382.52 288.5h0M372.7 279.97h0M386.01 291.39h0M371.75 285.65h0M382.48 291.37h0M372.92 284h0M375.35 291.6h0M382.65 291.12h0M378.32 291.58h0M372.44 288.61h0M375.84 290.77h0M387.82 290.65h0M381.19 278.76h0M382.02 277.02h0M388.98 281.89h0M372.96 291.31h0M374.85 291.6h0M380.43 284.81h0M370.92 284.24h0M382.46 284.44h0M366.15 285.57h0M379.17 286.43h0M381.36 291.15h0M372.81 284.81h0M382.24 291.57h0M373.01 290.4h0M371.4 290.82h0M369.1 291.58h0M367.27 290.36h0M373.51 291.03h0M377.08 288.72h0M368.32 290.92h0M372.67 290.15h0M381.53 291.51h0M371.7 287.01h0M372.93 291.48h0M372.47 291.52h0M377.8 281.58h0M374.07 291.59h0M380.34 286.15h0M386.77 291.37h0M372.25 291.59h0M381.06 290.77h0M366.77 284.41h0M373.73 289.49h0M374.02 288.44h0M384.85 289.81h0M379.04 290.69h0M373.87 291.6h0M370.87 282.48h0M374.44 290.17h0M378.87 291.6h0M380.52 288.5h0M372.03 291.41h0M376.43 289.4h0M367.19 291.35h0M378.1 280.15h0M381.26 286.43h0M367.61 286.73h0M371.67 283.44h0M373.78 291.58h0M377.23 291.15h0M382.29 289.03h0M381.08 285.96h0M376.27 290.16h0M377.96 279.01h0M368.78 291.59h0M384.33 277.15h0M381.18 278.98h0M369.25 291.57h0M377 289.94h0M374.14 290.83h0M372.32 280.29h0M377.53 290.34h0M365.24 290.24h0M377.41 290.6h0M369.13 287.63h0M372.65 282.69h0M374.44 291.24h0M381.69 285.06h0M377.84 285.77h0M379.33 289.74h0M377.03 288.86h0M382.64 291.6h0M377.12 288.24h0M375.61 291.56h0M385.76 284.49h0M372.66 290.76h0M383.59 291.47h0M375.55 291.6h0M373.18 285.83h0M373.33 291.4h0M371.66 290.29h0M365.09 280.56h0M377.21 291h0M376.36 287.65h0M373.31 290.78h0M375.74 290.73h0M377.3 285.51h0M373.84 291.57h0M376.92 290.49h0M376.24 290.77h0M371.74 290.25h0M381.69 291.58h0M372.79 291.07h0M377.18 291.46h0M380.05 282.06h0M376.44 291.57h0M378.08 291.04h0M362.78 288.96h0M372.4 291.56h0M378.73 290.78h0M370.35 290.73h0M373.25 289.26h0M376.43 286.95h0M373.74 291.6h0M379.6 288.01h0M374.79 291.6h0M379.46 288.08h0M376.98 284.36h0M385.76 291.6h0M375.15 291.6h0M366.8 290.84h0M375.38 291.6h0M373.21 290.07h0M380.24 291.05h0M372.24 283.44h0M363.04 288.69h0M361.96 284.93h0M382.27 286.98h0M375.72 290.54h0M373.36 291.58h0M371.21 291.59h0M377.46 290.89h0M379.61 291.6h0M373.98 287.2h0M373.79 291.59h0M365.91 291.59h0M374.1 291.6h0M381.92 291.48h0M369.89 288.2h0M369.82 288.86h0M371.13 291.6h0M370.4 281.44h0M372.19 287.7h0M375.8 290.21h0M376.94 287.83h0M379.71 291.27h0M370.75 291.36h0M370.82 291.56h0M374 288.03h0M372.78 291.11h0M376.6 291.14h0M381.37 281.59h0M368.81 283.81h0M375.9 290.71h0M372.76 281.23h0M379.79 285.03h0M367.62 289.82h0M369.42 289.1h0M381.77 287.35h0M364.7 291.4h0M379.46 290.35h0M378.75 291.1h0M378.2 287.8h0M369.95 278.37h0M376.93 286.28h0M375.43 291.48h0M366.91 282.26h0M382.78 291.6h0M376.48 290.54h0M371.51 282.98h0M370.32 289.81h0M367.89 283.03h0M376.44 289.37h0M374.66 291.6h0M375.01 291.54h0M384.5 287.65h0M379.44 288.03h0M369.14 290.44h0M376.55 290.07h0M370.21 280.67h0M371.57 288.09h0M375.65 291.19h0M372.46 290.55h0M370.2 291.33h0M369.97 291.55h0M374.69 291.6h0M376.85 287.73h0M369.56 291.13h0M376.72 290.64h0M373.1 288.03h0M375.22 291.59h0M374.71 291.52h0M376.98 288.33h0M374.43 290.93h0M377.37 291.26h0M380.52 291.6h0M371.94 288.94h0M386.7 291.56h0M382.65 284.07h0M373.57 284.08h0M375.54 291.58h0M379.99 291.08h0M370.16 289.71h0M370.49 290.52h0M373.43 285.76h0M369.68 281.69h0M375.1 291.55h0M377.72 291.58h0M375.13 291.6h0M384.43 282.59h0M370.08 287.53h0M377.36 285.85h0M380.87 287.59h0M377.74 286.54h0M378.75 291.34h0M372.81 283.26h0M376.71 289.66h0M378.61 277.44h0M370.31 283.33h0M380.29 291.33h0M373.27 291.22h0M381.03 285.37h0M378.27 288.94h0M378.75 280.97h0M379.68 291.58h0M374.03 291.6h0M375.97 291.16h0M381.4 289.22h0M374.55 291.4h0M377.01 290.02h0M376.25 291.6h0M381.12 281.82h0M377.75 280.02h0M378.4 291.3h0M380.92 290.44h0M365.87 291.24h0M376.15 291.53h0M377.99 289.44h0M377.06 283.02h0M378.26 291.4h0M374.36 288.6h0M375.09 291.6h0M374.5 289.5h0M377.03 289.37h0M374.97 291.55h0M371.55 291.53h0M376.85 291.08h0M370.85 279.8h0M385.03 281.21h0M375.92 290.9h0M382.52 277.43h0M378.3 284.45h0M370.77 290.39h0M374.84 291.18h0M371.44 291.49h0M377.39 290.96h0M374.94 291.6h0M384.64 291.6h0M374.88 291.21h0M378.97 290.76h0M372.36 285.31h0M374.34 289.55h0M380.25 287.7h0M381.88 281.49h0M383.15 289.4h0M376.99 291.5h0M374.64 291.18h0M373.74 291.58h0M381.89 291.06h0M383.52 281.12h0M378.47 291.56h0M374.31 290.99h0M376.77 291.59h0M376.95 291.6h0M373.81 291.6h0M373.38 290.82h0M366.59 290.86h0M376.5 289.75h0M375.03 291.51h0M376.02 291.55h0M376.51 291.6h0M382.62 289.69h0M373.35 289.27h0M364.83 291.6h0M370.09 287.39h0M369.85 291.58h0M378.56 289.6h0M373.2 282.13h0M373.76 291.14h0M387.23 288.74h0M371.27 287.67h0M374.45 291.55h0M374.81 291.5h0M372.8 289.66h0M369.39 286.73h0M366.89 291.54h0M371.43 285.83h0M378.75 284.46h0M373.14 291.58h0M368.75 290.57h0M373.45 289.21h0M379.43 291.26h0M380.4 290.85h0M374.24 289.96h0M379.2 287.67h0M368.72 279.39h0M372.09 291.6h0M378.64 286.3h0M372.43 291.57h0M370.04 291.31h0M378.07 291.58h0M377.48 291.36h0M381.57 290.21h0M380.26 288.63h0M376.94 288.79h0M373.79 286.37h0M376.42 290.96h0M377.18 291.5h0M372.71 291.02h0M375.16 291.6h0M376.71 291.01h0M378.09 291.09h0M376.08 289.87h0M377.36 291.34h0M382.57 286.47h0M367.21 286.74h0M381.48 290.28h0M374.84 291.59h0M381.01 281.01h0M376.1 291.51h0M377.55 285h0M379.17 290.52h0M380.15 291.6h0M369.8 290.88h0M376.01 289.65h0M378.89 289.84h0M374.59 291.25h0M377.79 287.74h0M372.77 285.79h0M384.31 285h0M376.5 290.11h0M371.1 291.58h0M379.64 277.84h0M372.37 280.82h0M384.2 291.45h0M383.78 286.88h0M382.14 289.91h0M364.23 290.83h0M377.11 288.49h0M383.69 288.4h0M380.83 284.72h0M380.6 288.83h0M371.22 285.04h0M378.04 290.81h0M371.89 286.59h0M374.31 290.93h0M369 280.96h0M379.58 290.27h0M383.97 289.41h0M383.08 289.34h0M373.16 288.07h0M381.16 291.58h0M376.68 290.21h0M375.02 291.6h0M375.36 291.58h0M374.92 291.52h0M378.71 287.55h0M368.94 288.6h0M385.29 291.56h0M362.9 283.24h0M375.23 291.59h0M378.62 289.15h0M383.65 291.39h0M376.07 291.43h0M373.81 289.52h0M368.91 287.91h0M377.64 291.52h0M377.16 291.6h0M382.89 290.03h0M369.49 284.8h0M377.73 285.27h0M375.79 290.65h0M373.44 286.78h0M379.85 290.75h0M375.11 291.6h0M370.38 291.49h0M379.01 288.51h0M366.79 291.58h0M375.71 290.83h0M369.96 290.78h0M376.86 287.4h0M379.37 291.34h0M373.4 286.86h0M376.61 291.52h0M363.58 291.59h0M380.97 281.45h0M374.54 291.4h0M384.34 290.74h0M376.66 290.28h0M375.23 291.59h0M382.49 283.98h0M375.22 291.24h0M372.59 283.79h0M376.28 288.35h0M378.36 280.49h0M382.13 280.31h0M373.28 286.4h0M378.64 291.54h0M381.42 277.64h0M385.45 291.57h0M373.54 291.52h0M374.86 291.6h0M373.17 291.6h0M377.04 284.39h0M378.82 282.93h0M375.05 291.37h0M380.04 291.6h0M369.9 284.54h0M379.26 291.45h0M377.59 291.51h0M374.06 291.58h0M372.92 280.7h0M374.19 290.75h0M369.93 290.6h0M374.49 291.58h0M376.9 291.31h0M376.16 291.47h0M374.51 290.53h0M370.62 291.55h0M374.18 287.82h0M376.66 291.36h0M376.58 290.81h0M375.54 291.16h0M375.68 291.09h0M379.76 290.78h0M376.57 289.35h0M372.42 291.47h0M367.54 291.18h0M377.89 280.19h0M376.11 290.43h0M378.58 285.13h0M375.16 291.55h0M374.21 290.46h0M366.09 284.93h0M380.71 289.71h0M376.96 291.44h0M378.35 289.68h0M374.22 288.27h0M371.98 290h0M374.96 291.53h0M372.51 291.57h0M365.44 285.32h0M370.54 291.31h0M380.49 291.56h0M383.2 290.73h0M374.1 291.29h0M373.5 291.59h0M370.81 291.57h0M371.27 286.72h0M378.77 283.87h0M377.03 290.2h0M381.32 289.32h0M378.72 290.81h0M382.35 280.85h0M373.81 287.17h0M379.5 287.6h0M374.03 291.38h0M379.73 278.09h0M375.29 291.6h0M371.19 291.54h0M377.86 285.16h0M374.63 290.51h0M369.85 291.02h0M384.62 291.6h0M369.23 281.43h0M373.22 285.48h0M375.83 291.56h0M378.42 291.31h0M381.86 291.53h0M371.2 291.59h0M371.86 285.54h0M377.63 291.21h0M380.52 284.42h0M378.79 285.23h0M370.54 290.96h0M371.95 286.51h0M377.5 286.79h0M379.82 281.12h0M370.43 291.35h0M371.73 280.32h0M370.29 288.07h0M382.49 282.65h0M378.54 288.87h0M371.8 291.6h0M367.36 288.53h0M374.9 291.57h0M370.67 291.41h0M381.9 289.9h0M363.17 285.13h0M369.79 282.06h0M371.79 284.04h0M376.44 288.51h0M375.08 291.57h0M376.98 286.67h0M370.58 290.87h0M373.09 291.57h0M375.66 291.6h0M363.49 280.91h0M370.33 291.58h0M375.46 291.15h0M383.73 281.63h0M372.8 288.44h0M373.83 291.57h0M379.99 281.31h0M376.66 291.52h0M384.29 290.37h0M381.14 291.6h0M378.06 291.53h0M375.6 291.35h0M380.36 279.41h0M363.36 291.31h0M376.59 290.82h0M372.81 291.6h0M380.01 286.46h0M372.37 282.88h0M382.03 288.93h0M388.03 288.34h0M379.39 288.97h0M368.19 288.71h0M367.54 291.52h0M374.22 291.2h0M373.7 289.01h0M377.76 291.54h0M374.59 291.56h0M377.99 290.63h0M380.88 289.4h0M374.34 291.35h0M374.95 291.6h0M374.32 291.6h0M376.03 291.59h0M370.08 291.46h0M380.78 278.57h0M375.51 291.6h0M367.85 291.56h0M381.57 287.86h0M373.84 291.25h0M374.59 291.59h0M381.74 291.51h0M386.24 291.6h0M371.07 291.6h0M364.45 290.11h0M383.08 284.5h0M375.58 291.59h0M382.52 285.82h0M380.26 280.9h0M378.01 289.49h0M376.38 291.6h0M380.1 284.63h0M377.3 290.92h0M381.12 289.94h0M386.24 289.57h0M380.36 291.53h0M373.19 290.3h0M379.2 291.57h0M376.35 289.79h0M377.17 281.81h0M370.21 289.17h0M376.86 286.36h0M379 287.98h0M369.07 291.59h0M371.01 288.84h0M374.9 291.6h0M372.63 291.58h0M371.49 290.82h0M370.94 291.43h0M377.99 282.59h0M377.31 291.6h0M376.05 291.58h0M382.32 279.13h0M368.14 287.88h0M370.8 291.25h0M369.95 287.6h0M370.21 291.6h0M373.38 290.75h0M375.73 291.38h0M373.82 291.55h0M378.37 282.41h0M370.79 291.33h0M367.73 289.66h0M369.55 281.97h0M373.02 290.53h0M378.17 290.79h0M367.36 280.59h0M377.69 287.59h0M376.3 289.48h0M372.91 291.53h0M361.71 285.15h0M365.61 285.33h0M365.29 291.27h0M377.93 291.6h0M363.17 288.11h0M377.91 284.5h0M375.52 291.21h0M382.51 285.34h0M381.5 278.88h0M375.94 290.98h0M377.29 287.36h0M375.86 291.6h0M376.51 291.38h0M383.63 277.25h0M373.18 285.69h0M375.82 291.58h0M373.79 289.99h0M377.64 283.27h0M376.83 286.22h0M374.87 291.6h0M379.83 291.59h0M378.29 290.28h0M381.99 291.59h0M381.92 283.79h0M378.45 291.32h0M375.33 291.16h0M364.69 280.07h0M382.83 291.29h0M377.16 291.59h0M364.37 278.75h0M365.53 291.36h0M385.12 290.69h0M373.6 291.58h0M374.69 291.55h0M374.35 291.47h0M376.18 289.27h0M372.64 291h0M380.82 291.29h0M366.06 291.48h0M379.77 290.95h0M384.09 288.91h0M377.86 287.61h0M368.08 291.59h0M374.19 290.37h0M376.68 289.03h0M377.72 284.26h0M375.89 290.05h0M372.08 283.71h0M384.5 289.34h0M386.13 289.86h0M373.26 289.61h0M382.32 281.42h0M378.09 282.72h0M378.56 283.16h0M391.19 278.68h0M380.73 291.13h0M384.85 291.59h0M374.67 291.6h0M366.33 281.92h0M378.26 287.55h0M373.72 290.92h0M372.88 289.25h0M367.6 279.57h0M372.14 291.6h0M368.59 291.49h0M371.02 291.23h0M380.27 281.49h0M385.71 289.35h0M380.36 290.59h0M374.24 291.58h0M377.9 289h0M377.96 291.59h0M375.18 291.56h0M376.33 288.81h0M368.51 291h0M371.86 283.85h0M367.72 286.39h0M371.69 281.91h0M377.31 290.33h0M365.04 291.6h0M371.92 280.27h0M372.72 291.59h0M383.1 277.73h0M378.82 290.41h0M374.28 289.56h0M372.65 287.65h0M377.95 291.57h0M372.23 291.59h0M370.76 291.43h0M376.65 289.29h0M378.19 282.58h0M373.43 290.38h0M377.34 291.6h0M371.42 281.43h0M372.76 279.71h0M376.6 286.94h0M370.48 291.58h0M370.4 288.04h0M365.72 290.76h0M375.24 291.6h0M376.28 290.47h0M372.56 291.45h0M378.64 282.55h0M375.73 291.26h0M367.32 289.07h0M373.32 289.61h0M368.94 288.44h0M373.63 288.37h0M374.11 290.95h0M374.65 290.71h0M377.15 288.36h0M372.24 291.42h0M369.66 291.55h0M377.55 291.56h0M377.63 287.94h0M376.28 291.46h0M370.07 291.26h0M387.14 286.02h0M380.49 290.84h0M372.32 290.85h0M377.94 288.93h0M376.12 290.51h0M378.6 290.92h0M367.76 290.09h0M369.83 283.45h0M375.21 291.55h0M358.48 283.59h0M376.47 291.49h0M374.26 291.29h0M382.75 290.54h0M370.79 279.22h0M362.71 290.56h0M369.77 286.11h0M374.93 291.51h0M373.81 291.6h0M374.9 291.6h0M364.41 289.83h0M381.57 280.99h0M381.05 278.18h0M378.01 291.6h0M361.47 282.85h0M378.65 281.59h0M379.44 289.69h0M373.53 291.46h0M376.77 291.59h0M373.14 288.42h0M379.08 278.95h0M380.04 291.5h0M385.79 282.25h0M374.58 290.85h0M378.01 291.2h0M375.84 291.37h0M372.96 291.57h0M387.11 284.26h0M373.45 291.39h0M371.91 290.83h0M378.61 291.09h0M379.23 278.07h0M372.36 291.4h0M371.46 290.86h0M380.06 289.8h0M381.01 278.54h0M375.54 291.25h0M378.55 291.6h0M377.34 291.53h0M376.37 289.52h0M371.07 289.64h0M370.05 291.56h0M377.82 288.55h0M371.83 287.63h0M369.12 291.58h0M381.95 278.58h0M372.05 291.2h0M378.61 284.34h0M377.45 282.74h0M383.87 289.23h0M372.4 289.2h0M368.41 291.33h0M384.48 291.56h0M369.77 290.94h0M376.22 289.95h0M376.78 290.22h0M374.46 290.74h0M369.34 282.61h0M375.11 291.23h0M381.51 279.75h0M371.23 284.05h0M372.27 291.6h0M382.13 287.06h0M373.61 287.97h0M375.22 291.57h0M366.75 290.85h0M376.46 291.6h0M375.47 291.34h0M372.38 291.04h0M368.4 287.93h0M380.8 291.53h0M371.92 290.65h0M373.09 288.88h0M373.01 291.6h0M376.76 290.06h0M374.95 291.43h0M367.35 288.58h0M372.65 290.52h0M377.11 291.41h0M375.05 291.36h0M377.26 288.18h0M384.04 290.62h0M377.24 289.26h0M372.56 290.64h0M365.69 291.6h0M376.04 291.04h0M381.79 287.92h0M374.86 291.53h0M373.27 290.55h0M366.54 287.68h0M370.24 281.09h0M378.77 291.59h0M369.92 280.06h0M375.31 291.6h0M376.83 290.92h0M383.47 285.26h0M375.2 291.37h0M377.25 289.32h0M373.94 291.33h0M374.6 290.84h0M369.37 290.59h0M375.83 291.6h0M373.94 290.3h0M373.59 285.76h0M379.1 287.9h0M371.27 291.6h0M372.84 289.37h0M378.84 285.66h0M381.8 290.54h0M378.77 291.23h0M372.05 291.19h0M376.7 285.07h0M368.46 290.25h0M377.6 280.21h0M374.85 291.49h0M375.19 291.58h0M374.59 290.32h0M376.46 291.6h0M375.17 291.6h0M383.65 291.47h0M373.76 291.45h0M376.98 290.69h0M378.14 288.15h0M378.23 290.91h0M368.48 286.35h0M374.41 291.6h0M377.29 286.03h0M371.88 288.08h0M376.45 288.15h0M373.06 291.55h0M374.91 291.6h0M377.05 291.6h0M383.29 283.38h0M382.91 280.15h0M374.52 291.56h0M359.89 278.63h0M364.45 279.7h0M372.38 291.6h0M373.34 288.18h0M381.53 289.98h0M382.8 291.39h0M372.58 291.59h0M379.9 289.45h0M383.91 289.78h0M373.77 289.15h0M373.91 291.27h0M377.34 286.85h0M377.99 284.49h0M382.85 291.22h0M381.94 290.29h0M378.63 286.53h0M386.41 279.7h0M369.78 288.58h0M367.75 290.3h0M374.49 291.24h0M374.69 291.48h0M377.08 284.4h0M376.8 290.67h0M380.57 285.7h0M370.76 289.64h0M374.93 291.58h0M376.98 285.78h0M367.37 290.74h0M373.12 291.6h0M376.11 291.59h0M365.42 289.41h0M374.92 291.6h0M383.3 291.38h0M386.07 291.51h0M374.67 291.6h0M379.26 284.59h0M374.93 291.59h0M379.38 283.16h0M376.11 291h0M374.77 291.6h0M366.75 284.86h0M376.03 291.11h0M366.16 287.31h0M377.69 291.45h0M375.72 290.97h0M365.33 291.54h0M376.78 291.49h0M372.94 290.43h0M380.48 290.71h0M375.82 290.67h0M372.94 291.16h0M370.26 289.56h0M370.18 286.12h0M371.63 291.59h0M378.24 290.98h0M372.06 287.74h0M380.62 278.47h0M368.34 279.47h0M381.88 291.52h0M371.61 288.68h0M369.54 291.6h0M375.08 291.58h0M373.05 289.1h0M374.82 291.49h0M370.47 291.6h0M389.8 282.33h0M374.96 291.5h0M375.94 290.87h0M372.02 291.46h0M371.7 291.34h0M372.44 291.59h0M372.35 278.03h0M375.91 291.6h0M375.65 290.86h0M376.99 286.07h0M377.53 291.56h0M375.28 291.3h0M381.92 279.68h0M381.89 291.51h0M378.82 291.55h0M370.62 291.2h0M375.11 291.58h0M372.85 291.6h0M372.17 291.27h0M375.84 291.57h0M371.23 291.5h0M367.32 291.6h0M373.49 290.25h0M374.72 291.04h0M375.95 291.04h0M378.72 291.56h0M370.06 291.6h0M372.87 290.66h0M378.04 280.42h0M368.36 291.57h0M379.58 291.53h0M367.63 277.99h0M376.48 291.34h0M377.67 280.21h0M374.43 290h0M378.44 291.5h0M373.1 287.85h0M361.86 286.37h0M375.26 291.58h0M377.76 291.54h0M372.41 290.95h0M376.78 290.3h0M380.38 289.43h0M375.7 291.24h0M377.73 287.78h0M374.2 291.44h0M370.71 291.58h0M374.33 291.45h0M374.78 291.6h0M360.45 285.12h0M361.33 283.73h0M375.93 291.6h0M378.21 289.1h0M379.07 288.44h0M376.89 287.93h0M368.16 290.41h0M371.68 282.01h0M380.66 291.16h0M382.46 288.81h0M382.36 284.32h0M375.13 291.43h0M374.94 291.59h0M375.13 291.26h0M367.79 282.75h0M368.81 291.53h0M372.9 286.42h0M378.31 291.54h0M370.73 277.8h0M381.43 289.26h0M374.04 286.87h0M378.23 288.27h0M374.23 291.33h0M373.82 291.49h0M381.51 291.32h0M372.28 281.86h0M372.14 289.77h0M378.78 291.6h0M372.06 291.39h0M378.02 286.98h0M378.84 277.23h0M376.11 291.6h0M371.08 289.05h0M367.47 291.11h0M378.31 287.13h0M378.29 290.7h0M382.76 289.22h0M375.33 291.56h0M368.65 291.57h0M368.61 290.81h0M370.7 281.76h0M386.13 286.31h0M378.7 291.04h0M373.56 285.86h0M375.27 291.38h0M373.79 291.48h0M375.7 291.35h0M374.32 290.74h0M371.8 282.16h0M377.13 291.24h0M376.77 290.6h0M374.93 291.6h0M376.07 291.52h0M378.1 291.6h0M369.86 289.43h0M376.83 289.38h0M372.03 291.54h0M370.81 288.19h0M359.63 278.74h0M374.34 290.65h0M376.99 290.57h0M383.43 287.17h0M377.21 284.85h0M384.67 290.69h0M369.99 289.5h0M368.55 291.6h0M382.81 281.22h0M378.87 286.43h0M388.98 288.34h0M375.27 291.16h0M373.07 291.59h0M377.95 280.36h0M376.22 291.58h0M373.99 291.22h0M366.35 289.31h0M376.23 291.08h0M372.35 291.09h0M374.7 290.73h0M365.26 290.77h0M374.48 291.6h0M362.15 286.68h0M383.01 291.57h0M371.67 283.03h0M379.1 287.78h0M378.72 291.59h0M376.6 291.51h0M377.35 290.19h0M371.6 290.22h0M379.72 291.58h0M377.05 290.81h0M367.17 291.59h0M377.28 291.22h0M377.81 287.69h0M375.89 291.58h0M375.58 291.57h0M380.04 288.26h0M382.68 287.64h0M373.86 291.38h0M375.61 291.58h0M373.93 291.57h0M378.35 291.21h0M368.36 291.59h0M376.91 288.85h0M368.82 291.6h0M375.62 291.59h0M374.98 291.44h0M380.62 289.38h0M369.72 282.56h0M378.69 291.59h0M382.39 290.64h0M381.06 289.28h0M374.33 291.57h0M372.1 291.22h0M369.84 291.6h0M379.65 291.6h0M373.43 286.2h0M377.38 290.24h0M377.08 290.25h0M377.65 291.56h0M377.05 288.59h0M367.22 290.51h0M383.49 291.6h0M377.01 291.23h0M377.71 291.31h0M367.19 280.72h0M372.65 291.25h0M382.84 282.16h0M386.26 280.45h0M366.78 289.44h0M378.58 290.74h0M372.46 280.1h0M382.32 291.23h0M384.09 287.95h0M365.08 285.56h0M372.08 280.76h0M376.58 291.48h0M377.06 290.91h0M371.54 282.97h0M380.37 289.13h0M370.8 280.02h0M365.66 285.22h0M369.69 291.59h0M366.36 287.54h0M374.92 291.29h0M372.81 290.43h0M375.27 291.57h0M369.1 286.72h0M386.08 288.05h0M380.9 280.16h0M378.38 290.67h0M377.94 282.76h0M372.33 291.6h0M376.38 291.54h0M378.64 277.16h0M375.6 291.58h0M377.46 290.67h0M376.32 289.88h0M374.65 291.6h0M367.36 291.45h0M376.99 291.14h0M373.04 289.85h0M373.49 291.5h0M380.05 285.24h0M373.44 291.58h0M383.67 288.54h0M384.06 284.33h0M369.35 289.01h0M372 278.32h0M378.25 284.94h0M379.3 280.15h0M378.97 291.6h0M383.24 291.58h0M378.08 277.09h0M372.56 291.02h0M378.12 285.74h0M380.13 285.36h0M371.6 291.59h0M377.57 285.53h0M371.43 290.75h0M372.12 291.36h0M368.5 291.51h0M370.63 291.59h0M378.05 288.95h0M363.95 281.76h0M376.74 288.5h0M372.36 291.59h0M371.8 289.65h0M383.56 285.04h0M376.65 289.83h0M379.49 289.41h0M374.09 291.36h0M369.18 291.46h0M381.67 290.87h0M379.1 282.45h0M374.32 290.11h0M372.55 288.16h0M375.27 291.59h0M372.6 288.14h0M383.43 286.36h0M371.21 282.92h0M376.8 291.59h0M376.35 288.66h0M368.89 287.86h0M385.99 285.24h0M372.95 288.81h0M369.65 291.41h0M377.82 290.87h0M373.4 285.45h0M380.27 287.21h0M375.49 291.49h0M377.39 291.58h0M377.3 291.59h0M382.03 284.6h0M374.93 291.6h0M368.52 291.51h0M373.83 285.73h0M371.65 291.54h0M372.87 291.59h0M371.93 291.17h0M378.41 291.45h0M375.75 290.77h0M370.05 289.61h0M378.96 291.6h0M377.61 290.59h0M371.79 291.44h0M376.92 291.57h0M374.45 291.5h0M371.01 277.85h0M374.2 290.31h0M381.01 291.16h0M372.19 282.35h0M373.03 291.6h0M380.41 284.15h0M382.97 290.6h0M371.54 288.62h0M372.18 291.6h0M376.16 290.34h0M373.15 288.23h0M374.99 291.6h0M383.99 291.15h0M383.9 286.64h0M375.73 291.36h0M376.64 290.03h0M377.89 289.11h0M378.4 290.35h0M377.5 291.59h0M375.56 291.6h0M373.83 288.78h0M379.09 284.68h0M375.37 291.32h0M370.89 290.99h0M369.46 291.55h0M371.64 285.31h0M377.04 286.32h0M373.92 291.59h0M366.09 291.51h0M376.34 290.93h0M377.15 288.15h0M377.32 291.39h0M370.52 291.59h0M375.81 291.6h0M376.68 291.37h0M386.76 291.2h0M375.33 291.58h0M370.92 283.29h0M371.12 291.36h0M367.75 286.99h0M365.83 291.14h0M367.81 281.95h0M371 291.58h0M375.57 291.6h0M378.49 278.83h0M377.67 282.47h0M371.02 289.6h0M371.61 284.92h0M370.65 286.76h0M382.52 289.93h0M370.6 284.51h0M375.63 291.58h0M365.1 287.32h0M371.42 282.45h0M376.92 291.6h0M376.48 291.34h0M372.42 291.13h0M373.03 291.52h0M373.09 291.55h0M369.18 291.6h0M363.63 289.87h0M369.14 286.26h0M372.74 284.56h0M378.74 287.67h0M379.61 291.6h0M373.08 285.49h0M387.47 291.6h0M381.15 291.22h0M374.53 291.56h0M378.82 291.53h0M371.37 289.76h0M382.73 290.11h0M377.09 284.44h0M370.24 291.22h0M386.71 283.52h0M367.67 291.5h0M378.22 291.41h0M369.52 284.39h0M378.38 289.2h0M380.17 288.37h0M378.19 277.92h0M384.11 281.9h0M379.29 290.35h0M376.61 291.51h0M372.85 290.05h0M376.05 290.52h0M377.29 287.59h0M375.26 291.39h0M380.24 283.12h0M372.3 290.71h0M373.29 288.72h0M367.29 291.54h0M373.53 291.53h0M382.13 291.42h0M374.18 291.34h0M374.79 291.59h0M373.03 286.08h0M376.28 291.19h0M365.69 291.48h0M368.84 291.22h0M372.92 289.08h0M377.93 291.42h0M378.23 282.32h0M369.76 284.45h0M377.28 288.08h0M375.4 291.6h0M381.35 291.35h0M370.89 291.6h0M376.8 290.43h0M374.77 291.36h0M368.54 291.47h0M381.7 283.3h0M377.5 291.22h0M372.73 291.55h0M376.11 291.44h0M374.99 291.19h0M382.39 290.57h0M375.3 291.5h0M378.21 289.34h0M370.57 291.58h0M372.55 290.92h0M369.56 289.41h0M375.64 291.6h0M371.54 279.27h0M374.86 291.14h0M377.36 291.35h0M378.36 290.46h0M371.35 288.17h0M377.46 290.25h0M374.57 290.88h0M372.99 288.46h0M369.38 285.74h0M372.6 288.97h0M371.42 285.26h0M374.54 291.37h0M371.84 286.94h0M367.86 291.58h0M369.74 287.17h0M380.28 291.5h0M372.38 291.6h0M373.55 284.15h0M376.85 287.84h0M381.2 290.82h0M377.58 291.03h0M378.81 285.31h0M384.12 291.57h0M382.05 289.77h0M380.1 282.96h0M380.54 291.6h0M373.13 287.41h0M383.19 291.11h0M371.26 291.13h0M379.88 289.62h0M368.46 291.6h0M375.54 291.39h0M372.64 291.5h0M380.49 290.94h0M375.88 290.88h0M378.06 287.53h0M370.98 291.59h0M368.58 291.6h0M385.78 288.51h0M376.2 291.08h0M368.93 290.17h0M378.73 291.1h0M380.05 284.53h0M376.52 291.52h0M375.39 291.6h0M379.89 287.51h0M376.92 291.44h0M374.32 291.14h0M371.6 291.59h0M373.84 291.08h0M375.31 291.58h0M371.24 291.3h0M375.79 291.6h0M377.18 291.35h0M378.36 286.5h0M380.62 291.45h0M375.83 291.42h0M376.38 291.08h0M372.24 287.4h0M377.46 282.17h0M376.11 290.98h0M380.02 288.35h0M368.58 291.6h0M373 288.75h0M368.16 286.47h0M368.01 291.58h0M376.66 285.21h0M372.55 288.43h0M377.44 288.01h0M378.03 277.57h0M369.56 290.32h0M378.04 289.97h0M364 291.18h0M376.59 291.6h0M366.46 291.59h0M374.4 290.34h0M370.83 290.31h0M380.61 280.22h0M369.71 286.24h0M374.65 291.49h0M378.9 289.85h0M373.77 291.08h0M368.55 288.84h0M369.57 284.12h0M369.96 291.6h0M367.61 291.53h0M365.41 277.89h0M372.51 291.6h0M381.83 277.59h0M386.32 279.23h0M384.38 277h0M374.43 291.59h0M375.75 291.54h0M376.81 291.54h0M370 288.85h0M372.38 286.79h0M376.28 288.25h0M376.27 290.33h0M374.33 291.45h0M376.25 291.32h0M377.3 291.58h0M382.41 291.17h0M380.89 291.53h0M376.26 291.42h0M376.02 291.59h0M368.41 291.58h0M369.26 288.26h0M379.51 291.59h0M378.9 283.2h0M372.64 290.96h0M377.98 283.85h0M378.61 277.09h0M375.02 291.45h0M383.5 291.32h0M375.32 291.6h0M380.27 291.53h0M377.67 285.19h0M377.88 291.48h0M370.7 286.72h0M371.85 291.35h0M378.39 291.57h0M379.52 289.62h0M374.25 291.54h0M377.79 291.55h0M376 290.76h0M378.66 285.35h0M376.65 291.35h0M377.08 291.6h0M372.11 291.46h0M372.98 285.82h0M365.8 289.91h0M370.25 291.55h0M371.61 291.56h0M376.39 291.59h0M371.14 287.1h0M382.94 290.79h0M368.02 291.6h0M381.78 291.5h0M372.99 291.42h0M376.93 291.59h0M371.36 288.12h0M382.17 287.35h0M382.95 286.75h0M381.61 291.54h0M373.81 290.25h0M372.39 285.41h0M366.51 287.71h0M371.42 284.2h0M378.13 289.92h0M383.12 281.27h0M373.15 291.6h0M369.25 291.56h0M369.98 283h0M375.02 291.56h0M374.11 287.75h0M385.97 291.37h0M365.34 287.53h0M366.11 288.78h0M369 280.69h0M379.35 284.4h0M380.13 289.2h0M372.16 291.35h0M371.64 282.77h0M371.39 283.06h0M375.73 291.4h0M379.01 290.55h0M375.74 290.69h0M378.31 286.92h0M381.71 291.14h0M374.14 291.5h0M373.96 290.28h0M365.32 282.99h0M374.89 291.6h0M378.14 287.61h0M380.14 290.12h0M373.24 291.42h0M378.94 282.76h0M376.24 290.97h0M372.88 290.8h0M376.76 291.6h0M379.87 289.76h0M374.41 291.6h0M367.55 290.18h0M381.98 289.7h0M372.81 280.42h0M376.47 290.94h0M376.72 291.09h0M375.17 291.43h0M380.99 291.6h0M376.22 291.12h0M366.73 289.02h0M376.31 288.81h0M371.3 289h0M374.76 291.53h0M377.98 279.89h0M375.3 291.59h0M373.31 283.11h0M372.64 291.6h0M369.22 291.56h0M384.23 279.41h0M373.11 291.19h0M375.7 291.53h0M370.1 291.58h0M373.27 290.35h0M377.31 288.21h0M374.61 291.41h0M376.45 289.97h0M386.12 291.54h0M378.29 288.08h0M367.87 290.89h0M384.35 291.21h0M382.39 285.73h0M383.78 279.74h0M377.76 288.8h0M371.45 288.42h0M371.98 288.93h0M380.82 290.17h0M374.69 291.46h0M379.57 291.59h0M374.05 289.81h0M372.85 290.61h0M375.24 291.56h0M373.39 291.6h0M373.55 287.97h0M376.87 291.37h0M381.62 286.57h0M389.71 284.07h0M374.6 290.25h0M376.28 291.16h0M369.1 291.51h0M378.06 288.58h0M374.25 290.9h0M368.99 290.12h0M361.62 285.77h0M379.33 286.12h0M378.08 283.3h0M372.4 279.03h0M376.57 291.23h0M374.78 291.26h0M380.9 290.15h0M370.86 287.57h0M381.64 284.16h0M368.96 288.38h0M374.67 291.6h0M377.93 291.44h0M376.66 288.59h0M375.65 291.6h0M381.34 290.93h0M377.45 284.3h0M376.77 285.78h0M374.4 290.7h0M379.11 291.53h0M375.36 291.38h0M374.86 291.47h0M384.13 290.11h0M369.62 291.45h0M379.9 289.7h0M376.75 291.58h0M370.78 291.51h0M370.11 286.83h0M376.49 291.59h0M374.39 291.51h0M361.91 283.96h0M378.81 290.05h0M369.32 281.76h0M371.42 291.51h0M377.38 290.7h0M373.15 290.09h0M371.45 291.54h0M376.43 291.03h0M380.74 291.6h0M371.9 281.24h0M381.29 290.04h0M372.28 291.59h0M371.97 284.59h0M383.09 280.3h0M380.97 286.18h0M378.63 291.54h0M377.77 291.6h0M379.87 279.52h0M380.28 284.43h0M371.89 291.34h0M384.28 291.44h0M381.02 286.85h0M379.44 290.13h0M376.9 290.84h0M377.81 290.09h0M371.85 279.83h0M368.48 291.6h0M365.8 291.59h0M376.97 290.9h0M373.7 287.31h0M378.44 287.28h0M370.53 288.95h0M382.64 289.44h0M374.78 291.58h0M385.52 291.1h0M380.62 291.58h0M372.75 289.67h0M382.2 291.08h0M376.92 290.11h0M368.59 289.71h0M373.45 291.59h0M368.55 289.52h0M375.55 291.46h0M375.39 291.3h0M374.52 291.55h0M358.67 278h0M377.14 291.56h0M379.44 285.73h0M378.57 290.65h0M370.39 290.73h0M362.76 289.14h0M374.64 291.2h0M377.96 291.58h0M376.03 290.11h0M375.93 291.35h0M375.49 291.47h0M372.62 291.19h0M375.16 291.58h0M381.63 291.23h0M378.15 291.56h0M376.36 291.29h0M374.75 291.12h0M376.62 291.54h0M377.08 285.27h0M367.53 291.53h0M371.14 291.54h0M376.57 291.32h0M369.15 279.84h0M368.36 291.19h0M377.16 289.43h0M374.73 291.56h0M379.11 281.19h0M374.04 291.1h0M373.87 291.3h0M382.24 280.35h0M369.05 282.42h0M378 289.8h0M380.91 291.06h0M369.34 291.2h0M375.44 291.2h0M382.08 291.41h0M369.24 283.84h0M371.14 280.47h0M372.19 285.55h0M374.42 291.42h0M372.41 282.86h0M375.75 290.84h0M376.31 289.03h0M371.52 290.94h0M377.93 288.99h0M370.3 280.46h0M374.05 291.6h0M375.88 290.75h0M379.54 290.17h0M367.72 287.68h0M375.91 291.6h0M370.64 285.49h0M380.74 288.76h0M381.41 291.5h0M376.7 290.32h0M372.69 289.34h0M380.74 290.55h0M367.79 290.82h0M370.72 280.7h0M378.12 291.18h0M368.84 291.59h0M376.87 288.93h0M367.28 291.6h0M373.81 285.23h0M375.55 291.6h0M373.7 285.96h0M384.43 291.59h0M372.42 289.62h0M370.27 291.59h0M368.71 283.53h0M377.17 289.12h0M380.74 283.18h0M384.78 291.3h0M374.62 290.04h0M370.23 279.76h0M383.25 284.9h0M382.06 282.61h0M367.29 289.57h0M379.89 290.63h0M375.57 291.54h0M376.53 291.36h0M380.03 291.32h0M371.38 290.07h0M368.51 277.24h0M371.27 289.29h0M378.28 281.66h0M377.82 288.57h0M378.9 291.33h0M377.18 291.32h0M378 290.87h0M376.34 291.55h0M368.1 285.1h0M388.44 281.05h0M377.16 291.6h0M375.66 291.59h0M371.31 291.52h0M369.32 290.75h0M374.83 291.6h0M377.81 289.32h0M369.5 291.59h0M381.74 279.91h0M381.22 291.59h0M378.46 287.45h0M367.26 290.43h0M375.09 291.59h0M364.38 280.89h0M370.53 290.42h0M374.04 287.82h0M378.05 287.81h0M372.73 291.57h0M372.7 290.79h0M374.35 291.05h0M377.16 285.66h0M376.2 291.58h0M373.76 290.59h0M370.4 282.14h0M371.79 291.33h0M372.55 291.49h0M373.81 291.53h0M375.08 291.58h0M381.44 289.1h0M369.46 285.61h0M377.72 280.65h0M363.75 279.71h0M375.93 291.22h0M372.2 291.01h0M371.41 290.07h0M369.72 291.6h0M374.84 291.6h0M370.01 290.59h0M375.08 291.59h0M376.25 291.17h0M380.31 289.81h0M376.38 291.59h0M369.53 290.43h0M372.27 288.1h0M380.26 291.6h0M388.74 289.61h0M368.31 291.56h0M378.03 291.52h0M378.23 284.05h0M372.33 281.56h0M373.13 286.09h0M377 291.2h0M382.47 280.43h0M376.39 289.29h0M376.93 290.96h0M365.45 283.75h0M376.77 291.07h0M373.64 291.6h0M372.41 291.27h0M373.24 291.44h0M380.6 291.48h0M373.85 289.64h0M376.68 286.64h0M375.4 291.6h0M374.07 291.6h0M382.73 290.79h0M371.73 288.82h0M373.93 289.45h0M371.54 282.94h0M377.58 287.7h0M374.92 291.6h0M384.97 290.19h0M374.8 291.57h0M376.17 291.11h0M363.23 287.62h0M375.72 291.47h0M381.02 291.43h0M376.81 288.36h0M374.15 291.07h0M366.46 291.57h0M375.48 291.46h0M364.95 283.35h0M379.45 287.92h0M386.53 282.96h0M381.59 291.13h0M375.91 291.44h0M377.06 288.08h0M375.45 291.39h0M374.41 290.4h0M377.38 281.08h0M379.58 290.59h0M369.12 282.07h0M378.68 277.07h0M369.55 281.29h0M375.1 291.58h0M380.02 291.36h0M377.46 286.65h0M374.45 291.27h0M373.3 284.09h0M378.49 291.35h0M370.07 282.04h0M374.21 289.97h0M377.43 281.36h0M382.13 288.52h0M371.28 284.33h0M376.71 290.65h0M380.32 283.38h0M377.61 282.02h0M380.76 283h0M378.66 282.56h0M373.25 286.81h0M383.56 291.55h0M371.35 290.88h0M374.31 291.59h0M371.8 291.6h0M372.34 290.89h0M368.31 284.43h0M370.06 282.1h0M370.55 288.98h0M379.41 288.55h0M378.94 291.59h0M372.91 291.1h0M378.51 291.6h0M370.25 291.45h0M372.12 291.56h0M374.08 286.97h0M384.72 291.59h0M379.14 291.34h0M374.49 291.6h0M377.54 289.18h0M378.54 279.25h0M370.63 281.42h0M375.22 291.41h0M375.28 291.48h0M372.48 286.84h0M381.2 281.59h0M371.5 291.26h0M361.9 285.04h0M374.74 291.23h0M372.12 279.98h0M381.78 290.75h0M373.7 291.44h0M379.42 290.04h0M375.01 291.59h0M373.09 291.25h0M372.34 291.01h0M368.24 291.59h0M369.14 291.36h0M372.25 288.09h0M372.89 290.39h0M377.47 283.06h0M380.25 285.77h0M377.23 291.48h0M370.71 287.72h0M375.79 291.44h0M374.29 291.15h0M378.55 284.35h0M378.65 288.32h0M380 287.35h0M379.08 286.17h0M376.78 289.71h0M375.22 291.2h0M378.97 287.4h0M369.33 289.22h0M369.27 291.53h0M371.61 291.48h0M376.08 288.76h0M373.02 290.82h0M374.38 291.42h0M381.86 291.54h0M371.6 282.02h0M373.71 291.49h0M373.36 288.22h0M372.92 281.92h0M370.73 291.54h0M375.64 290.99h0M380.6 291.07h0M370.09 290.15h0M376.22 289.76h0M370.09 291.2h0M372.02 286.51h0M377.09 289.52h0M378.6 283.38h0M378.67 289.25h0M378.81 279.79h0M370.5 290.75h0M364.57 279.81h0M374.22 291.56h0M370.29 291.13h0M381.8 291.5h0M377.01 288.15h0M371.05 281.43h0M377.18 283.39h0M370.07 291.06h0M380.1 291.57h0M384.28 291.46h0M374.04 290.53h0M380.95 289.71h0M376.77 290.58h0M379.8 291.28h0M371.11 278.82h0M384.97 288.72h0M378.86 287.34h0M379.94 290.41h0M378.96 291.21h0M377.07 290.65h0M373.98 291.52h0M380.22 281.89h0M376.38 287.77h0M380.9 291.59h0M373.01 288.32h0M378.71 280.53h0M378.55 291.54h0M377.32 291.59h0M374.77 290.91h0M371.17 283.37h0M381.38 277.91h0M376.51 290.04h0M366.69 280.43h0M378.76 280.67h0M381.27 291.57h0M373.99 291.6h0M374.1 291.43h0M370.53 291.29h0M372.33 283.78h0M377.01 283.41h0M371.91 290.37h0M370.55 280.42h0M371.54 282.54h0M367.2 291.52h0M376.96 290.16h0M372.49 290.48h0M376.02 291.25h0M368.36 291.37h0M366.34 289h0M378.25 284.56h0M375.79 291.6h0M377.3 289.21h0M375.54 291.58h0M377.25 291.41h0M373.76 290.79h0M368.52 280.82h0M372.3 289.29h0M373.2 291.59h0M384.75 291.27h0M367.02 291.27h0M373.37 290.23h0M372.25 289.43h0M376.61 289.8h0M379.81 290.42h0M371.84 284.91h0M372.82 291.26h0M375.08 291.6h0M366.62 290.48h0M369.81 291.52h0M374.95 291.59h0M372.29 291.58h0M386.14 283.69h0M383.37 291.27h0M373.92 287.21h0M378.01 291.08h0M377.3 290h0M367.43 285.15h0M382.4 291.55h0M371.99 290.82h0M365.59 278.93h0M371.79 291.59h0M378.25 288.82h0M379.9 279.54h0M379.48 291.24h0M376.16 290.94h0M380.97 291.27h0M374.57 291.23h0M372.22 281.28h0M367.7 289.86h0M385.34 289.99h0M371.09 284.31h0M373.73 291.43h0M366.07 290.34h0M377.73 291.6h0M374.95 291.6h0M370.43 291.59h0M378.85 290.29h0M376.91 283.61h0M374.12 290.6h0M376.1 289.53h0M380.97 285.49h0M377.87 288.81h0M371.98 291.6h0M375.58 291.56h0M380.12 288.19h0M377.4 290.62h0M377.9 291.6h0M377.68 285.94h0M375.21 291.59h0M376.46 290.89h0M369.78 289.39h0M371.66 278.15h0M372.24 291.19h0M372.34 291.25h0M374.27 291.52h0M377.75 290.36h0M373 291.6h0M380.93 285.33h0M380.02 285.86h0M375.47 291.6h0M378.2 288.29h0M375.33 291.48h0M369.62 290.24h0M375.15 291.57h0M369.36 286.22h0M373.43 288.66h0M376.61 290.23h0M380.61 291.49h0M369.28 290.51h0M373.73 291.35h0M373.13 289.39h0M373.97 291.48h0M369.43 289.61h0M377.94 291.38h0M373.79 290.8h0M373.68 286.2h0M370.67 291.55h0M371.34 291.6h0M378.51 290.75h0M371.97 287.24h0M375.86 291.09h0M378.41 291.59h0M380.32 285.57h0M375.24 291.6h0M373.75 291.41h0M379.4 291.6h0M377.62 288.6h0M367.08 278.76h0M381.88 291.6h0M376.35 290.7h0M371.12 291.6h0M371.45 286.94h0M365.61 289.55h0M368.15 281.48h0M376.89 289.49h0M381.86 289.91h0M375.37 291.5h0M374.09 291.5h0M375.81 291.09h0M379.97 289.95h0M385.06 290.78h0M375.99 291.6h0M371.59 290.82h0M376.37 289.77h0M368.64 288.98h0M371.24 291.6h0M366.94 291.34h0M376.54 287.17h0M364.73 291.53h0M373.1 288.04h0M377.93 280.01h0M371.95 291.51h0M375.79 291.54h0M370.64 289.55h0M379.05 284.44h0M378.08 291.25h0M380.39 290.45h0M379.16 291.23h0M374.01 291.43h0M373.54 291.11h0M381.07 290.95h0M374.97 291.51h0M374.79 291.53h0M374.56 291.51h0M380.34 288.16h0M382.54 280.62h0M376.1 291.35h0M372.71 290.59h0M381.82 285.32h0M375.3 291.6h0M363.62 281.3h0M377.44 289.97h0M379.1 287.15h0M375.06 291.2h0M380.12 291.16h0M375.84 291.25h0M369 291.44h0M379.71 291.44h0M369.81 288.41h0M369.53 288.2h0M383.11 280.71h0M373.78 291.6h0M376.6 291.58h0M375.66 290.91h0M374.87 291.31h0M366.51 286.95h0M372.38 277.5h0M377.15 284.44h0M378.11 278.14h0M377.54 286.13h0M375.14 291.53h0M374.04 286.91h0M368.96 277.37h0M379.11 287.8h0M367.26 289.06h0M378.47 291.6h0M365.2 289.89h0M372.71 290.58h0M373.88 290.4h0M379.97 289.8h0M380.87 290.62h0M371.25 291.6h0M377.56 279.65h0M375.55 291.36h0M375.51 291.6h0M369.54 291.42h0M378.13 290.77h0M379.93 291.45h0M370.12 286.07h0M374.47 291.51h0M373.47 288.31h0M372.05 291.13h0M373.05 291.49h0M375.27 291.18h0M378.61 290.83h0M380.5 278.85h0M373.25 290.69h0M371.61 285.53h0M376.38 288.88h0M373.98 289.84h0M368.92 285.32h0M369.01 288.49h0M371.25 291.17h0M377.68 288.86h0M377.18 291.46h0M375.27 291.27h0M370.03 283.11h0M376.55 291.38h0M371.49 287.33h0M364.1 289.97h0M374.09 290.7h0M372.59 291.23h0M376.84 288.77h0M377.01 285.41h0M368.8 289.58h0M377.39 291.6h0M367.38 281.97h0M372.16 287.6h0M372.46 281.66h0M375.9 289.76h0M377.16 291.54h0M373.9 289.38h0M373.28 288.51h0M371.82 291.58h0M377.41 291.58h0M371.88 291.6h0M372.11 291.48h0M371.45 289.3h0M372.65 289.6h0M366.26 291.59h0M374.44 291.52h0M369.6 291.5h0M384.86 285.84h0M382.29 291.03h0M384.12 291.51h0M381.71 290.02h0M378.12 290.42h0M370.44 290.8h0M372.25 279.81h0M375.33 291.18h0M380.93 291.59h0M377.93 286.76h0M373.19 289.76h0M374.8 291.58h0M372.58 291.22h0M373.67 290.22h0M373.77 291.59h0M377.96 287.32h0M376.13 290.61h0M372.34 279.39h0M366.62 287.97h0M376.08 289.84h0M381.22 286.81h0M382.57 290.55h0M371.39 289.16h0M370.19 291.6h0M375.88 291.58h0M376.31 291.59h0M363.69 282.73h0M368.45 291.58h0M380.77 289.18h0M382.57 288.8h0M373.79 291.04h0M378 291.4h0M379.29 291.58h0M376.78 285.69h0M373.77 287.9h0M377.56 291.6h0M376.88 290.13h0M364.18 291.24h0M380.37 285.95h0M373.05 291.54h0M376.56 291.51h0M384.81 283.13h0M378.34 285.59h0M381.79 289.47h0M379.16 291.6h0M379.92 291.6h0M380.5 291.33h0M378.74 282.13h0M370.96 291.42h0M378.01 291.6h0M383.19 288.36h0M376.36 291.09h0M377.25 291.07h0M376.96 287.29h0M376.85 290.54h0M370.83 280.57h0M365.13 291.6h0M368.14 290.96h0M366.64 284.77h0M372.51 290.43h0M372.91 288.41h0M369.87 291.56h0M376.08 288.6h0M370.92 291.59h0M371.77 279.12h0M370.34 291.04h0M374.82 291.49h0M375.04 291.34h0M373.55 287.75h0M373.73 291.42h0M370.86 280h0M365.28 291.59h0M370.71 286.17h0M380.52 291.57h0M363.37 288.68h0M377.5 290.29h0M370.37 291.56h0M366.24 280.37h0M375.68 291.33h0M377.08 291.52h0M374.68 290.49h0M379.79 284.98h0M379.83 283.74h0M373.39 291.02h0M368.24 290.49h0M374.33 291.16h0M380.07 288.67h0M386.89 291.6h0M381.9 290.58h0M375.63 291.38h0M383.76 286.37h0M369.29 290.47h0M374.86 291.6h0M376.82 291.54h0M374.02 290.95h0M373.72 288.94h0M374.05 290.19h0M377.67 289.92h0M382.42 278.55h0M374.96 291.45h0M375.24 291.57h0M368.35 289.89h0M374.21 287.88h0M378.05 289.29h0M378.74 289.72h0M376.39 291.58h0M371.35 288.72h0M374.3 291.52h0M378.78 291.51h0M370.69 280.78h0M370.29 283.98h0M374.11 290.58h0M382.59 287.54h0M379.59 290.54h0M374.3 290.06h0M368.19 277.3h0M366.97 290.01h0M383.26 286.28h0M372.23 291.23h0M387.63 286.12h0M376.2 291.59h0M371.82 291.29h0M376.23 290.92h0M371.44 285.58h0M374.15 290.87h0M365.22 284.32h0M373.07 290.45h0M370.37 280.1h0M380.83 291.6h0M377.32 291.51h0M375.76 291.6h0M364.28 290.29h0M371.57 288.92h0M376.21 288.86h0M374.38 291.49h0M369.48 291.11h0M377.4 291.01h0M373.23 290.7h0M377.4 288.13h0M370.75 291.19h0M371.91 287.89h0M384.46 279.44h0M370.83 277.87h0M375.46 291.59h0M368.62 290.25h0M380.64 291.34h0M382.82 290.78h0M379.05 291.49h0M376.44 291.59h0M372.64 291.23h0M372.28 291.6h0M372.64 287.95h0M370.43 291.52h0M380.37 291.6h0M373.86 291.22h0M370.13 285.97h0M372.3 290.88h0M376.36 291.05h0M379.36 290.88h0M377.47 291.22h0M375.25 291.34h0M373.49 288.07h0M368.84 291.6h0M372.74 291.58h0M371.74 291.57h0M377.59 291.25h0M370.34 284.36h0M378.18 291.48h0M374.04 290.72h0M369.06 282.35h0M374.75 291.38h0M380.12 291.38h0M375.43 291.58h0M367.32 289.68h0M375.65 291.6h0M384.32 291.21h0M375.14 291.48h0M374.29 289.87h0M379.5 291.58h0M371.54 283.33h0M372.49 291.6h0M372 290.96h0M383.82 284.97h0M379.88 282.38h0M375.1 291.27h0M386.77 281.31h0M374.6 291.56h0M377.41 283.7h0M371.07 280.69h0M369.57 283.8h0M380.78 281.08h0M375.51 291.59h0M375.78 290.14h0M377.06 290.77h0M379.45 291.59h0M377.09 291.33h0M366 291.41h0M378.1 291.59h0M371.53 281.97h0M373.53 291.26h0M389.32 279.54h0M384.54 291.6h0M381.43 291.39h0M376.92 285.38h0M364.3 287.81h0M370.44 288.28h0M375.82 291.51h0M375.14 291.31h0M378.53 281.07h0M363.74 291.59h0M378.14 291.59h0M371.52 287.04h0M368.31 285.57h0M377.47 281.81h0M372.98 285.79h0M374.67 291.6h0M372.55 288.23h0M385.48 286.33h0M378.3 286.1h0M375.1 291.59h0M367.32 288.68h0M375.97 290.86h0M376.43 291.5h0M381.82 287.76h0M373.27 291.54h0M377.85 289.5h0M374.58 291.6h0M372.27 278.79h0M367.96 291.57h0M371.73 290.07h0M374.47 291.6h0M376.34 291.01h0M377.4 288.87h0M378.82 291.52h0M370.8 280.48h0M375.87 291.37h0M375.8 290h0M372.52 285.33h0M371.25 278.06h0M377.78 289.16h0M376.18 291.2h0M376.99 286.96h0M376.83 290.58h0M380.8 289.56h0M365.87 291.53h0M362.74 289.14h0M374.5 291.36h0M377.22 291.01h0M377.43 282.57h0M376.4 291.6h0M370.89 286.69h0M378.68 291.3h0M373.8 290.75h0M383.21 291.6h0M371.67 284.96h0M380.33 288.65h0M374.86 291.54h0M381.96 289.84h0M370.74 291.6h0M375.21 291.59h0M376.33 290.01h0M369.52 280.73h0M380.49 277.3h0M381.1 282.9h0M374.98 291.47h0M377.52 291.6h0M366.68 284.83h0M373.35 286.76h0M379.71 277.15h0M379.24 291.56h0M380.05 290.32h0M369.75 291.58h0M377.12 288.51h0M370.55 282.21h0M378.94 286.8h0M388.35 288.54h0M385.08 291.05h0M368.41 284.31h0M370.4 290.81h0M377.28 286.53h0M376.55 291.09h0M375.46 291.59h0M376.59 290.58h0M373.7 289.4h0M381.72 283.62h0M365.92 290.51h0M371.11 291.43h0M379 291.59h0M363.5 290.23h0M380.62 285.94h0M369.19 291.53h0M381.58 284.95h0M373.64 291.5h0M378.05 291.27h0M379.69 288.46h0M380.16 291.48h0M374.63 291.58h0M380.52 290.62h0M369.51 291.26h0M374.77 291.51h0M368.87 291.59h0M371.25 289.73h0M375.38 291.6h0M373.35 285.63h0M370.37 290.74h0M374.45 289.29h0M376.22 291.48h0M371.55 290.68h0M372.33 277.54h0M371.64 291.6h0M374.79 291.45h0M387.18 284.76h0M377.22 288.12h0M370.48 285.96h0M372.37 289.84h0M374.11 291.41h0M370.66 291.56h0M374.99 291.6h0M373.69 290.26h0M364.23 281.81h0M377.39 281.35h0M375.46 291.42h0M379.27 291.45h0M375.8 291.15h0M372.69 291.33h0M378.34 290.28h0M375.5 291.5h0M375.86 291.35h0M374.04 291.43h0M378.37 278.91h0M370.96 286.62h0M385.09 277.08h0M381.92 288.15h0M377 290.79h0M371.67 291.59h0M370.48 286.67h0M381.59 286.58h0M372.29 290.56h0M376.73 290.57h0M367.18 283h0M373.18 291.52h0M383.22 288.98h0M376.08 291.6h0M382.86 278.78h0M374.12 288.29h0M374.55 291.6h0M379.51 289.54h0M376.19 288.76h0M370.21 291.51h0M375.53 291.58h0M381.29 291.49h0M375.62 291.56h0M383.32 291.6h0M380.25 290.27h0M371.99 291.5h0M374.29 290.83h0M374.83 291.59h0M383.45 286.49h0M370.87 285.48h0M379.2 288.04h0M374.46 290.43h0M382.51 287.94h0M387.92 282.35h0M372.52 291.15h0M373.62 291.37h0M368.71 291.48h0M376.73 284.58h0M381.02 287.55h0M374.37 291.6h0M370.71 291.53h0M378.92 284.39h0M385.31 286.36h0M370.53 290.32h0M367.95 289.96h0M373.27 291.42h0M381.73 278.04h0M366.22 288.97h0M374.92 291.51h0M362.34 282.59h0M377.73 291.56h0M379.73 291.45h0M362.66 283.84h0M378.6 291.59h0M369.78 291.28h0M376.08 290.91h0M372.79 279.66h0M382.82 280.41h0M388.06 279.71h0M375.49 291.6h0M377.31 291.55h0M370.97 291.43h0M367.23 291.53h0M381.39 291.58h0M371.17 291.6h0M378.96 286.32h0M375.26 291.44h0M374.14 291.57h0M379.51 291.52h0M365.2 291.6h0M377.56 290.15h0M376.17 288.5h0M370.5 291.6h0M375.51 291.44h0M380.55 285.32h0M375.88 290.36h0M370.89 290.87h0M376.87 291.28h0M378.21 291.35h0M372.07 289.23h0M386.45 283.78h0M373.11 291.57h0M381.54 283.06h0M365.72 284.94h0M375.11 291.24h0M382.63 281.86h0M379.56 289.94h0M380.11 284.71h0M371.99 288.36h0M376.66 287.46h0M372.84 289.75h0M370.42 291.6h0M374.69 291.53h0M377.84 282.49h0M379.41 288.8h0M375.33 291.6h0M373.79 291.58h0M373.13 289h0M368.65 283.1h0M378.99 288.49h0M378.15 278.36h0M377.87 284.23h0M380.11 278.1h0M385.88 283.46h0M376.09 290.9h0M372.96 286.48h0M378.61 289.91h0M366.05 280.26h0M386.01 291.57h0M377.32 291.5h0M372.55 291.6h0M375 291.49h0M368.49 284.38h0M375.07 291.43h0M380.91 291.52h0M379.61 278.29h0M374.09 291.28h0M373.28 291.59h0M371.09 286.25h0M377.3 291.32h0M380.3 291.25h0M368.57 281.77h0M376.57 287.19h0M377.05 291.59h0M378.87 291.28h0M382.64 290.62h0M375.75 290.7h0M367.55 278.87h0M365.29 278h0M377.59 285.22h0M378.63 277.85h0M383 290.34h0M383.07 288.82h0M370.28 287.82h0M361.94 280.49h0M377.33 286.7h0M367.15 291.58h0M376.23 290.39h0M374.18 288.53h0M379.39 287.06h0M373.69 288.36h0M373.26 291.28h0M371.47 291.06h0M381.83 289.09h0M382.58 291.49h0M379.11 291.35h0M379.67 283.48h0M373.92 291h0M368.26 283.17h0M381 285.6h0M379.9 291.59h0M371.26 286.81h0M376.25 291.55h0M372.7 288.71h0M374.42 290.23h0M373.14 283.97h0M372.17 289.85h0M374.26 291.6h0M371.44 291.27h0M372.76 291.2h0M371.3 290.43h0M377.65 290.36h0M371.03 288.01h0M368.68 290.96h0M378.93 286.27h0M372.77 288.77h0M375.32 291.6h0M376.5 291.24h0M380.28 279.8h0M375.31 291.6h0M377.32 288.39h0M377 291.58h0M375.85 291.59h0M375.26 291.6h0M385.89 291.23h0M370.74 291.6h0M374.42 291.6h0M376.25 291.21h0M368.69 290.66h0M377.75 290.5h0M374.69 291.6h0M377.79 282.52h0M376.3 288.66h0M385.87 291.57h0M366.86 290.73h0M377.07 289.22h0M376.66 288.36h0M363.99 291.59h0M367.62 286.47h0M371.88 290.9h0M384.36 291.36h0M369.02 291.49h0M378.86 291.49h0M373.21 286.45h0M382.89 279.23h0M371.71 291.6h0M377.26 291.57h0M370.33 288.98h0M383.41 290.17h0M377.87 284.33h0M380.12 287.28h0M371.55 289.23h0M378.27 285.3h0M371.94 291.59h0M380.62 290.15h0M379.23 279.71h0M370.98 290.86h0M380.1 291.59h0M373.98 291.6h0M365.86 291.6h0M376.51 287.4h0M372.73 283.1h0M377.96 277.35h0M367.77 279.78h0M374.82 291.41h0M374.55 290.31h0M378.59 291.58h0M377.49 290.53h0M372.68 285h0M374.57 291.6h0M375.65 291.52h0M374.62 291.02h0M370.93 291.16h0M376.96 291.59h0M372.81 288.99h0M361.57 283.63h0M380.02 286.31h0M384.29 287.29h0M380.63 281.37h0M359.22 280.13h0M379.25 291.5h0M371.64 282.04h0M369.1 281.82h0M371.21 291.58h0M377.09 290.5h0M385.75 291.43h0M366.78 284.48h0M378.7 281.19h0M373.31 291.56h0M376.87 284.83h0M375.06 291.6h0M374.13 291.24h0M370.74 279.59h0M378.17 291.19h0M371.01 291.49h0M370.88 291.6h0M378.08 285.92h0M388.21 281.82h0M370.57 291.6h0M377.59 286.54h0M364.35 277.14h0M379.19 287.69h0M373.88 287.31h0M374.11 290.3h0M384.52 290.75h0M379.74 291.59h0M365.62 286.16h0M374.36 291.25h0M374.7 291.52h0M365.37 290.43h0M371.03 290.99h0M370.69 285.94h0M374.57 291.58h0M379 289.58h0M378.68 289.25h0M368.66 287.22h0M372.85 291.6h0M373.4 289.74h0M375.77 290.49h0M375.42 291.57h0M374.4 291.35h0M382.03 280.17h0M373.45 290h0M376.3 291.55h0M374.95 291.52h0M380.34 290.04h0M380.3 291.56h0M371.84 291.47h0M372.18 283.69h0M368.3 291.3h0M374.35 291.18h0M372.25 291.45h0M373.95 290.77h0M375.14 291.18h0M371.93 290.23h0M374.38 291.52h0M372.11 291.54h0M371.54 287.07h0M374.84 291.6h0M383.01 284.82h0M367.67 291.39h0M378.49 278.27h0M380.8 284.75h0M377.07 291.58h0M375.16 291.45h0M381.45 291.23h0M364.4 290.84h0M377.65 283.75h0M384.91 289.69h0M376.26 289.5h0M372.89 291.29h0M370.98 286.65h0M370.57 290.79h0M374.92 291.47h0M375.62 291.09h0M378.27 289.51h0M376.2 288.16h0M377.82 284.49h0M371.29 291.6h0M374.51 290.92h0M378.5 291.12h0M368.28 286.97h0M379.37 284.7h0M378.43 281.42h0M376.03 291.46h0M379.94 291.26h0M379.09 290.43h0M382.72 281.04h0M375.01 291.17h0M374.55 291.16h0M376.08 290.72h0M384.31 291.59h0M374.47 290.92h0M368.08 291.48h0M370.41 291.16h0M362.04 290.8h0M377.5 290.89h0M374.3 291.43h0M380.44 277.59h0M377.4 291.3h0M374.91 291.6h0M371.68 289.78h0M378.36 288.89h0M378.2 290.99h0M372.38 291.6h0M378.9 284.46h0M376.56 291.44h0M375.61 291.6h0M371.96 291.13h0M380 287.93h0M379.75 288.07h0M379.67 288.69h0M378.48 285.09h0M377.84 283.65h0M374.24 291.6h0M366.77 281.51h0M384.35 291.6h0M373.52 290.1h0M379.69 284.23h0M371.64 290.75h0M374.58 291.26h0M373.56 291.55h0M377.08 284.71h0M374.99 291.23h0M379.55 284.75h0M370.89 281.75h0M383.93 285.99h0M376.21 290.9h0M372.2 278.13h0M379.34 290.28h0M364.6 291.6h0M380.15 291.36h0M379.74 291.55h0M372.84 290.61h0M376.22 291.53h0M375.24 291.4h0M375.67 291.57h0M375.07 291.54h0M372.93 285.5h0M379.97 290.75h0M369.64 285.58h0M369.41 290.08h0M371.58 286.25h0M378.08 290.63h0M373.96 291.13h0M382.54 288.51h0M384.63 289.92h0M376.21 290.04h0M379.1 289.51h0M377.29 288.16h0M380.34 286.88h0M376.74 290.7h0M369.22 289.49h0M376.23 291.1h0M372.06 291.11h0M386.48 281.17h0M374.45 290.88h0M373.32 286.04h0M367.73 289.67h0M370.85 280.54h0M384.26 282.72h0M370.37 290.38h0M377.99 288.36h0M377.18 291.55h0M386.04 287.47h0M376.63 285.58h0M373.26 291.49h0M378.96 291.37h0M373.7 286.66h0M380.54 291.59h0M372.65 291.05h0M382.42 284.9h0M369.65 291.4h0M376.21 291.02h0M378.57 284.05h0M386.28 289.07h0M376.29 291.12h0M380.48 291.6h0M378.05 286.46h0M362.87 291.47h0M373.22 291.6h0M370.91 283.5h0M369.98 291.38h0M378.02 279.04h0M374.05 290.43h0M377.29 290.35h0M371.77 291.11h0M373.48 291.6h0M381.75 291.59h0M376.88 290.92h0M369.71 291.57h0M374.15 291.47h0M377.68 291.24h0M370.45 291.23h0M376.09 291.58h0M374.57 290.85h0M378.84 289.02h0M366.91 291.51h0M387.2 287.69h0M373.78 291.42h0M376.89 291.57h0M377.35 290.91h0M375.89 290.95h0M377.5 285.38h0M375.13 291.29h0M377.56 290.96h0M388.13 288.7h0M378.24 281.15h0M373.89 289.7h0M370.21 291.6h0M376.12 290.28h0M373.98 290.36h0M380.35 284.13h0M375.61 291.54h0M365.51 290.42h0M372.03 277.61h0M380.3 287.92h0M377.73 286.78h0M371.48 289.4h0M371.52 291.6h0M374.77 291.6h0M373.25 285.71h0M375.9 291.6h0M370.37 277.14h0M375.77 291.07h0M373.33 288.51h0M367.79 291.3h0M376.87 289.33h0M377.57 290.35h0M369.36 285.9h0M381.15 281.78h0M365.84 284.58h0M372.47 288.15h0M377.07 291.6h0M374.53 290.4h0M375.66 290.88h0M379.45 291.53h0M390.04 280.69h0M369.36 279.82h0M381.18 278.21h0M371.49 278.79h0M377.53 289.94h0M381.1 291.59h0M373.99 291.58h0M381.7 277.86h0M369 291.6h0M378.87 289.44h0M383.43 287.1h0M368.62 291.58h0M379.14 287.33h0M371.45 291.6h0M376.26 291.42h0M367.16 288.96h0M368.58 285.95h0M372.76 291.6h0M373.14 291.15h0M370.92 290.65h0M376.15 289.45h0M369.45 288.92h0M380.63 283.85h0M376.43 291.02h0M378.95 290.54h0M367.64 289.17h0M377.55 291.02h0M376.48 289.64h0M371.38 291.39h0M377.2 291.52h0M364.63 289.18h0M374.74 291.59h0M367.48 291.36h0M374.55 291.27h0M375.31 291.5h0M376.01 291.34h0M378.96 284.63h0M379.47 291.45h0M373.4 287.4h0M373.08 283.54h0M370.29 290.74h0M375.58 291.57h0M379.02 287.58h0M377.37 285.94h0M382.35 280h0M371.88 291.45h0M373.11 289.89h0M372.91 289.98h0M382.68 283.65h0M383.01 280.42h0M380.18 287.12h0M366.4 291.55h0M372.41 288.95h0M378.23 290.57h0M370.41 289.96h0M372.64 282.86h0M372.49 287.13h0M375.84 290.64h0M382.37 290.51h0M371.57 281.33h0M380.23 291.34h0M373.5 291.59h0M375.14 291.6h0M381.55 291.6h0M375.94 291.52h0M377.56 282.27h0M368.6 289.28h0M377.32 291.57h0M378.04 291.52h0M369.48 290.86h0M376.9 289.59h0M379.54 281.39h0M380.55 290.7h0M387.82 288.11h0M375.76 291.59h0M376.16 291.6h0M374.38 290.65h0M380.03 289.07h0M372.17 288.57h0M370.49 282.86h0M377.17 285.94h0M372.02 291.6h0M378.61 287.92h0M379.07 286.61h0M375.24 291.41h0M375.34 291.6h0M379 285.05h0M378.45 289.19h0M369.63 289.72h0M380.57 291.58h0M376.25 289.16h0M376.61 286.59h0M376.02 291.55h0M371.32 291.58h0M372.2 281.54h0M376.36 291.56h0M377.14 282.95h0M374.85 291.57h0M361.49 288.69h0M373.79 290.63h0M375.47 291.47h0M368.32 289.76h0M376.87 286.63h0M378.12 286.03h0M382.21 288.9h0M379.43 288.78h0M372.2 289.07h0M377.89 287.87h0M377.02 284.5h0M373.95 288.37h0M382.08 291.41h0M378.69 284.09h0M377.54 285.89h0M372.21 291.56h0M369.72 291.58h0M372.31 284.02h0M374.34 291.56h0M375.32 291.59h0M381.35 284.22h0M378.18 290.07h0M377.63 291.6h0M368.8 290.52h0M373.12 291.44h0M375.25 291.38h0M375.82 290.84h0M380.39 283.67h0M376.71 291h0M381.84 278.91h0M373.06 290.56h0M377.96 291.59h0M375.08 291.54h0M373.54 291.16h0M372.14 291.6h0M368.09 289.49h0M378.57 291.57h0M373.6 290.55h0M384.58 284.58h0M373.99 291.6h0M371.98 290.86h0M361.57 285.42h0M375.99 291.59h0M370.41 289.48h0M378.49 283.82h0M369.09 289.1h0M366.23 288.08h0M378.13 287.39h0M374.33 291.47h0M373.55 291.23h0M376.28 291.17h0M379.03 288.9h0M371.25 286.68h0M366.13 291.3h0M373.12 291.49h0M372.89 291.42h0M370.16 291.59h0M388.14 285.05h0M378.12 282.9h0M374.41 290.8h0M373.59 291.6h0M372.61 291.58h0M372.73 291.59h0M367.39 288.89h0M374.2 289.15h0M365.59 286.72h0M376.84 291.2h0M377.88 289.99h0M379.55 291.59h0M371.89 280.46h0M375.26 291.34h0M370.44 281.1h0M375.81 291h0M372.43 287.73h0M376.95 287.76h0M373.56 286.19h0M365.63 288.48h0M377.38 290h0M378.6 287.9h0M371.93 289.2h0M364.73 287.24h0M382.45 289.91h0M371.68 277.64h0M377.1 287.23h0M379.27 286.59h0M383.11 281.54h0M384.06 286.94h0M372.21 280.8h0M379.48 282.84h0M375.75 290.97h0M373.47 291.6h0M377.55 291.16h0M377.83 288.07h0M371.76 285.39h0M377.89 290.98h0M371.31 291.6h0M383.29 291.47h0M371.15 277.11h0M378.42 277.23h0M382.17 291.35h0M379.46 282.71h0M372.07 291.57h0M371.68 290.06h0M373.35 290.07h0M374.51 291.45h0M377.72 280.94h0M376.38 288.75h0M374.76 291.01h0M380.12 289.42h0M379.47 291.6h0M371.31 285.28h0M375.83 291.6h0M377.35 290.66h0M382.11 291.56h0M362.79 290.7h0M372.98 290.85h0M374.65 291.3h0M379.86 281.83h0M366.13 290.31h0M373.36 291.49h0M369.13 282.72h0M369.11 277.35h0M382.24 282.46h0M376.22 291.5h0M376.14 291.34h0M380.22 279.56h0M373.81 286.39h0M376.65 288.24h0M386.31 280.31h0M373.81 291.6h0M376.16 291.04h0M380.09 287.48h0M375.95 291.3h0M379.69 291.56h0M371.69 291.5h0M375.26 291.59h0M375.53 291.52h0M383.44 283.31h0M376.96 291.54h0M376.06 291.27h0M376.26 290.5h0M376.37 290.68h0M376.88 291.11h0M383.44 283.29h0M384.54 286.91h0M373.71 290.88h0M376.02 290.85h0M378.23 280.65h0M376.13 290.55h0M375.87 291.56h0M368.12 290.15h0M376.49 291.38h0M379.74 291.56h0M377.97 289h0M369.1 290.5h0M372.72 290.28h0M365.57 291.57h0M368.88 290.76h0M377.99 291.23h0M383.5 283.54h0M370.1 291.44h0M383.32 291.49h0M371.24 290.11h0M383.28 279.07h0M371.36 291.12h0M375.8 290.55h0M377.9 284.51h0M384.83 290.73h0M374.87 291.6h0M379.54 285.77h0M377.81 285.07h0M377.67 291.6h0M375.67 291.11h0M376.76 287.96h0M374.88 291.48h0M366.3 290.72h0M382.21 291.41h0M375.15 291.29h0M364.69 291.59h0M383.55 290.34h0M375.85 289.65h0M371.42 285.58h0M375.85 291.6h0M370.39 291.6h0M380.78 291.6h0M368.94 291.51h0M380.48 278.93h0M380.4 291.45h0M387.61 290.27h0M377.55 291.44h0M376.46 289.39h0M379.02 291.56h0M372.78 288.01h0M381.16 277.76h0M371.57 291.56h0M370.5 281.65h0M373.34 285.9h0M374.17 290.27h0M375.32 291.51h0M374.9 291.54h0M371.66 291.58h0M377.59 288.44h0M385.14 289.46h0M378.99 289.93h0M379.59 288.14h0M366.32 289.34h0M377.99 291.55h0M371.1 291.39h0M378.8 283.32h0M370.74 286.89h0M363.69 288.04h0M376.66 285.94h0M381.74 285.03h0M377.05 290.58h0M372.01 291.14h0M379.21 290.86h0M379.35 291.13h0M373.84 291.54h0M377.6 281.51h0M376.43 291.28h0M373.16 290.9h0M372.87 291.5h0M375.29 291.58h0M376.97 290.25h0M378.68 289.82h0M383.54 290.48h0M374.31 289.96h0M374.16 291.6h0M374.25 291.59h0M372.12 277.3h0M375.35 291.6h0M376.94 288.32h0M371.8 290.03h0M377.69 290.82h0M379.33 291.58h0M373.47 291.6h0M373.04 282.09h0M382.63 291.6h0M379.02 281.42h0M381.47 291.5h0M371.3 277.77h0M370.72 286.63h0M373.01 291.4h0M369.29 290.67h0M373.84 290.39h0M369.18 281.86h0M375.83 291.6h0M372.46 289.72h0M378.49 281.95h0M369.39 291.52h0M374.75 290.78h0M370.93 282.17h0M360.66 284.9h0M372.12 290.85h0M368.41 286.48h0M385.86 291.22h0M370.8 291.55h0M374.85 291.59h0M370.99 291.49h0M375.21 291.17h0M371.88 291.6h0M376.43 286.55h0M377.77 290.12h0M387.75 288.56h0M376.84 291.6h0M367.07 291.6h0M370.89 291.6h0M371.88 289.78h0M379.98 281.81h0M381.14 284.9h0M375.42 291.59h0M372.95 284.74h0M366.7 290.96h0M375.88 291.6h0M377.36 290.85h0M377.55 288.07h0M377.22 287.78h0M374.17 291.6h0M375.99 291.56h0M379.43 289.06h0M372.57 291.6h0M377.03 285.83h0M378.58 290h0M382.24 290.66h0M379.92 282.04h0M373.78 291.59h0M359.95 281.1h0M378.55 290.77h0M365.95 291.47h0M371.88 286.85h0M366.88 291.6h0M370.21 291.09h0M378.86 291.25h0M383.56 291.08h0M379.98 278.51h0M378.04 290.96h0M382.18 291.3h0M380.95 290.33h0M373.58 290.57h0M380.85 291.49h0M378 285.1h0M375.37 291.36h0M377.62 291.5h0M371.04 279.67h0M376.58 290.26h0M375.03 291.59h0M387.43 291.53h0M377.44 281.68h0M382.95 284.75h0M373.4 291.52h0M374.68 290.75h0M375.48 291.53h0M363.83 287.28h0M375.52 291.56h0M386.68 289.92h0M372.09 291.56h0M376.42 291.57h0M372.13 281.05h0M378 291.6h0M361.34 284.92h0M375.97 290.39h0M373.92 290.79h0M380.63 291.44h0M368.55 291.09h0M376.7 291.38h0M375.21 291.6h0M384.91 291.44h0M376.26 291.53h0M379.63 289.24h0M366.41 291.55h0M377.41 291.44h0M378.31 291.3h0M368.73 291.6h0M377.53 290.17h0M377.21 288.32h0M369.42 291.41h0M382.41 291.4h0M377 290.97h0M379.53 279.85h0M376.44 290.56h0M378.64 291.6h0M375.25 291.6h0M373.24 291.58h0M378.18 279.87h0M368.11 288.41h0M376.02 290.62h0M373.55 291.51h0M384.94 279.04h0M375.29 291.52h0M376.04 291.6h0M374.4 291.51h0M380.28 282.35h0M375.73 291.58h0M377.62 289.32h0M377.42 291.55h0M377.44 291.01h0M378.83 286.63h0M373.07 291.57h0M380.95 291.6h0M378.58 289.4h0M375.23 291.17h0M370.57 281.34h0M376.45 290.76h0M371.72 290.93h0M380.64 291.57h0M371.47 291.34h0M373.1 284.08h0M369.04 285.66h0M372.92 283.17h0M375.69 291.34h0M374.19 290.93h0M379.98 291.47h0M375.64 291.51h0M370.05 288.96h0M365.96 280.33h0M379.38 284.07h0M376.82 291.5h0M370.28 291.6h0M369.77 285.53h0M383.36 291.6h0M373.8 288.27h0M372.94 291.32h0M372.82 290.03h0M365.86 279.49h0M372.49 291.59h0M373.95 286.88h0M371.48 290.34h0M386.57 287.08h0M372.66 288.47h0M373.46 288.9h0M384.77 291.47h0M385.16 291.34h0M374.64 290.93h0M367.97 291.59h0M371.66 291.56h0M373.31 291.58h0M372.7 291.26h0M370.88 291.02h0M378.1 291.24h0M382.66 291.57h0M376.27 291.18h0M365.09 291.33h0M368.63 291.2h0M370.94 288.52h0M372.71 291.53h0M369.76 291.6h0M368.66 288.64h0M363.64 290.31h0M371.55 291.6h0M371.69 289.36h0M384.59 289.2h0M372.14 279.87h0M382.01 289.82h0M367.94 285.39h0M373 286.75h0M362.67 286.94h0M375.38 291.5h0M377.56 290.66h0M376.03 291.46h0M374.99 291.42h0M374.31 290.36h0M390.73 281.79h0M375.8 289.99h0M375.59 291.59h0M370.83 280.18h0M381.77 289.97h0M374.12 291.39h0M379.67 291.09h0M385.72 291.29h0M369.27 288.26h0M380.3 287.75h0M377.3 290.41h0M387.16 291.58h0M371.38 291.17h0M377.37 281.25h0M364.7 278.8h0M368.92 291.41h0M377.74 291.59h0M372.29 291.28h0M369.95 291.59h0M372.97 287.38h0M372.55 290.59h0M374.84 291.38h0M381.17 283.83h0M380 288.66h0M373.05 285.52h0M375.74 291.16h0M376.74 286.97h0M380.38 291.53h0M370.7 288.36h0M378.95 291.57h0M377.65 281.41h0M370.65 288.12h0M379.63 285.36h0M377.17 286.61h0M375.45 291.58h0M367.94 291.52h0M363.62 290.54h0M372 291.49h0M379.59 291.54h0M372.5 291.29h0M366.05 291.56h0M369.97 291.13h0M373.23 291.6h0M371.57 290.89h0M371.03 291.4h0M381.5 287.84h0M372.08 289.15h0M375.63 291.48h0M366.43 284.29h0M379.37 280.91h0M378.45 289.05h0M378.5 291.4h0M375.47 291.29h0M387.43 288.17h0M379.33 291.59h0M370.71 280.81h0M368.89 289.23h0M374.39 290.67h0M373.7 291.37h0M374.14 290.88h0M376.5 290.17h0M372.69 289.06h0M383.71 281.32h0M364.17 286.25h0M374.72 291.6h0M369.78 277.63h0M366.33 285.85h0M379.2 291.6h0M385.05 282.51h0M374.49 291.6h0M384.97 283.35h0M371.97 285.16h0M369.04 280.11h0M375.08 291.58h0M371.4 283.98h0M376.81 290.72h0M373.12 291.34h0M375.23 291.3h0M380.31 288.42h0M377.75 282.67h0M376.26 291.6h0M376.88 291.53h0M371.5 281.49h0M376.64 286.44h0M375.89 291.58h0M377.97 290.47h0M388.18 288.83h0M373.81 289.53h0M365.48 289.06h0M362.61 290.98h0M379.21 291.59h0M370.64 290.84h0M371.76 284.75h0M378.68 280.49h0M372.74 291.53h0M379.03 291.24h0M371.47 282.86h0M381.65 279.49h0M377.46 289.7h0M375.4 291.6h0M367.77 288.87h0M380.06 290.61h0M372.4 287.04h0M377.01 290.1h0M367.82 280.98h0M378.71 290.87h0M374.76 291.59h0M370.73 287.25h0M381.37 290.03h0M371.28 290.6h0M385.15 277.38h0M373.38 290.2h0M374.97 291.27h0M376.63 290.48h0M383.18 291.29h0M370.63 291.38h0M374.85 291.59h0M369.91 284.79h0M381.93 291.59h0M374.82 291.4h0M371.49 291.6h0M372.62 287.5h0M377.58 291.37h0M374.35 291.18h0M369.28 290.45h0M378.92 290.02h0M374.6 291.09h0M376 291.15h0M377.44 290.15h0M375.67 291.6h0M373.31 291.6h0M382.36 290.71h0M376.96 291.54h0M374.27 291.58h0M376.75 291.58h0M370.05 285.61h0M372.58 288.73h0M375.95 291.6h0M368.14 291.51h0M379.08 288.19h0M373.28 291.42h0M373.04 291h0M371.55 290.67h0M375.63 291.05h0M375.48 291.52h0M372.16 289.56h0M372.83 280.54h0M371.05 290.31h0M373.12 291.02h0M372.23 291.44h0M378.08 291.36h0M370.8 283.07h0M374.3 291.07h0M374.32 291.53h0M372.5 291.26h0M376.68 291.2h0M376.68 291.04h0M377.44 282.19h0M386.28 280.95h0M372.27 291.45h0M376.91 286.78h0M375.24 291.6h0M377.2 291.6h0M374.92 291.6h0M379.34 284.31h0M378.24 291.4h0M379.75 291.6h0M381.31 287.53h0M372.81 287.25h0M370.95 286.41h0M376.29 288.29h0M378 283.63h0M379.59 281.41h0M369.18 291.44h0M379.2 280.5h0M370.59 286.5h0M374.8 291.55h0M380.03 284.07h0M379.43 290.34h0M377.19 284.63h0M387.24 282.41h0M373.22 291.01h0M385.4 291.38h0M377.95 288.5h0M380.14 285.81h0M373.28 289.81h0M376.01 291.49h0M379.96 281.39h0M376.58 291.05h0M374.34 290.03h0M362.66 289.45h0M369.83 278.48h0M375.68 291.5h0M377.31 290.31h0M378.94 286.31h0M379.99 291.41h0M378.41 285.14h0M380.32 281.96h0M371.91 286.08h0M371.69 289.99h0M371.56 277.21h0M374.9 291.44h0M377.21 289.53h0M380.26 284.54h0M379.47 291.13h0M382.4 288.88h0M366.44 290.9h0M381.25 285.06h0M375.91 291.58h0M373.12 281.7h0M373.97 290.6h0M381.19 288.21h0M380.03 280.42h0M372.41 290.39h0M380.44 289.57h0M376.09 291.6h0M381 283.37h0M373.79 291.41h0M379.95 291.24h0M379.09 279.66h0M361.99 283.53h0M363.4 291.6h0M374.26 291.6h0M370.73 282.08h0M371.57 280.8h0M372.12 286.71h0M368.1 291.59h0M383.17 279.85h0M366.02 287.62h0M373.25 291.38h0M375.19 291.6h0M374.77 291.41h0M375.19 291.58h0M369.52 288.4h0M374.35 291.6h0M369.37 281.24h0M378.2 291.28h0M373.38 285.5h0M375.57 291.36h0M372 281.32h0M373.47 291.55h0M378.87 283.98h0M369.82 277.63h0M373.03 283.79h0M377.76 290.68h0M378.78 289.4h0M371.09 288.27h0M370.21 283.13h0M375.4 291.47h0M375.6 291.29h0M371.37 291.18h0M388.04 284.91h0M379.23 288.29h0M368.76 290.74h0M374.16 290.82h0M380.46 288.81h0M380.68 291.1h0M373.09 291.32h0M373.98 286.32h0M376.62 291.53h0M373.13 291.43h0M381.59 282.67h0M379.98 290.83h0M379.89 291.34h0M374.04 291.59h0M380.45 289.76h0M384.53 290.74h0M372.85 290.95h0M375.46 291.59h0M376.44 288.79h0M371.15 277.66h0M388.16 282.36h0M385.97 277.33h0M367.97 291.6h0M373.41 291.58h0M374.18 291.4h0M375.62 291.36h0M375.61 291.48h0M378.02 290.98h0M379.57 291.47h0M377.01 289.16h0M375.02 291.57h0M373.68 291.19h0M373.95 291.59h0M381.92 291.19h0M370.11 287.45h0M373.86 290.77h0M378.16 279.13h0M358.63 283.15h0M349.75 281.14h0M357.94 288.08h0M392.9 281.87h0M354.82 284.34h0M355.04 286.02h0M359.61 284.34h0M351.26 286.73h0M353.77 281.69h0M358.17 282.9h0M357.99 279.46h0M396.34 286.4h0M400.69 286.5h0M350.28 283.98h0M397.48 284.66h0M353.06 283.65h0M353.9 285.33h0M358.07 285h0M395.25 287.35h0M354.2 280.47h0M358.6 281.49h0M354 279.89h0M357.64 287.95h0M351.73 281.8h0M394.54 283.43h0M399.95 284.57h0M397.63 284h0M352 281.71h0M350.45 286.29h0" stroke="#111" stroke-width="1" stroke-linecap="round" fill="none"/>
<path d="M369.81 266.72h0M368.52 272.1h0M368.15 273.87h0M371.1 271.14h0M368.67 273.67h0M369.65 275.14h0M366.85 275.4h0M370.02 272.48h0M370.14 275.78h0M363.63 263.5h0M367.68 263.5h0M368.87 265.55h0M370.42 269.66h0M365.77 265.87h0M366.13 270.7h0M367.47 267.87h0M368.24 271.19h0M363.21 254.07h0M366.32 269.83h0M367.49 273.75h0M368.44 255.65h0M370.53 275.12h0M369.52 269.91h0M361.67 271.75h0M366.26 276.46h0M371.82 273.68h0M370.76 275.26h0M371.64 276.48h0M367.49 265.29h0M367.82 271.86h0M360.53 265.49h0M367.28 264.44h0M369.21 275.04h0M366.63 275.93h0M371.01 273.27h0M371.11 274.07h0M369.62 269h0M368.82 276.37h0M365.11 267.59h0M369.81 262.15h0M371.62 274.44h0M365.82 243.76h0M368.36 270.41h0M371.31 273.44h0M369.67 275.85h0M361.77 267.31h0M367.41 261.51h0M368.97 264.95h0M365.9 264.66h0M365.62 273.2h0M369.94 269.44h0M368.35 273.9h0M369.05 269.58h0M371.08 271.33h0M365.21 275.85h0M367.77 261.61h0M368.4 267.56h0M370.03 276.32h0M366.83 266.42h0M363.48 255.77h0M370.12 271.92h0M369.1 263.84h0M368.04 276.2h0M370.38 267.76h0M370.71 268.27h0M366.01 263.54h0M364.41 267.11h0M369.82 275.35h0M368.25 258.88h0M358.56 270.48h0M362.2 270.68h0M367.96 263.42h0M365.95 273.17h0M370.12 264.57h0M365.62 274.03h0M366.24 264.22h0M363.27 263.87h0M362.79 276.92h0M367 245.87h0M371.75 275.08h0M369.06 258.21h0M360.56 266.86h0M362.06 273.34h0M368.8 267.25h0M365.26 269.19h0M369.83 274.9h0M366.52 273.22h0M362.26 270.01h0M370.74 272.49h0M369.34 261.75h0M363.46 274.62h0M367.95 263.78h0M369.89 263.08h0M370.25 271.81h0M365.67 266.42h0M370.04 272.5h0M365.47 269.17h0M367.61 269.55h0M368.74 264.2h0M368.56 265.8h0M371.86 276.55h0M359.82 263.37h0M366.36 266.41h0M371.71 276.01h0M365.33 270.79h0M364.05 270.16h0M367.03 271.12h0M367.74 276.01h0M368.99 260.92h0M364.16 267.53h0M363.81 275.96h0M369.21 275.03h0M369.57 275.27h0M365.63 272.37h0M366.93 268.52h0M368.32 271.98h0M369.24 276.17h0M368.02 268.13h0M368.78 266.57h0M364.44 237.12h0M365.02 271.3h0M361.66 273.78h0M370.03 270.36h0M371.25 274.15h0M367.29 276.26h0M371.43 274.75h0M366.79 267.16h0M371.03 269.3h0M364.35 273.07h0M367.9 269.86h0M366.6 271.5h0M367.59 270.19h0M363.5 267.41h0M365.74 273.74h0M366.56 275.24h0M370.33 272.11h0M366.38 274.94h0M365.1 271.87h0M366.58 269.96h0M371.75 275.31h0M366.93 266.58h0M368.85 273.94h0M370.24 275.93h0M366.24 264.1h0M359.13 274.27h0M367.03 275.44h0M366.51 275.3h0M366.06 271.04h0M362.61 275.55h0M367.89 276.28h0M370.53 275.6h0M366.53 270.39h0M367.03 270.59h0M364.34 276.44h0M362.24 267.77h0M365.98 266.74h0M367.65 266.95h0M365.13 265.48h0M360.92 266.75h0M370.08 276.14h0M361.97 266.61h0M370.8 274.96h0M369.58 262.45h0M367.84 257.45h0M362.78 273.6h0M366.7 276.33h0M372.05 276.55h0M370.14 275.63h0M369.2 274.91h0M367.93 274.75h0M366.99 264.25h0M370.95 276.1h0M370.48 270.35h0M366.55 264.5h0M367.16 268.41h0M364.5 276.81h0M369.67 275.39h0M368.14 269.06h0M364.43 266.97h0M362.02 264.65h0M366.53 271.98h0M366.67 254.35h0M370.34 270.32h0M363.06 267.11h0M368.63 269.7h0M371.1 273.8h0M366.87 266.14h0M371.09 273.68h0M368.17 274.87h0M364.66 262.46h0M366.01 267.79h0M357.16 273.18h0M368.53 272.27h0M361.61 274.72h0M371.49 276.86h0M367.35 266.54h0M364.98 273.33h0M363.76 266.66h0M368.59 267.25h0M365.2 276.18h0M363.5 265.53h0M368.69 266.9h0M364.48 274.83h0M365.26 271.64h0M368.36 262.27h0M370.18 265.23h0M369.99 272.83h0M370.57 272.44h0M367.75 269.05h0M370.26 268.24h0M366.2 268.96h0M371.52 275.87h0M369.03 269.91h0M370.55 273.36h0M370.65 276.05h0M369.71 270.5h0M364.43 272.17h0M363.92 266.85h0M370.18 271.24h0M369.54 273.76h0M368.44 276.39h0M363.29 266.41h0M366.68 268.24h0M371.44 275.04h0M370.53 270.3h0M370.08 267.39h0M366.34 274.72h0M371.95 276.26h0M369.66 275.06h0M371.76 275.85h0M368.34 275.21h0M365.49 263.42h0M371.25 272.24h0M363.63 261.13h0M369.35 268.07h0M364.87 260.04h0M365.8 269.51h0M358.82 272.09h0M366.49 267.86h0M363.92 253.72h0M357.73 274.51h0M368.55 263.05h0M371.16 271.38h0M371.23 272.69h0M361.19 264.45h0M365.38 253.56h0M366.85 273.98h0M368.26 265.43h0M364.15 247.1h0M365.43 272.69h0M368.99 275.56h0M367.83 271.4h0M372.21 276.53h0M365.94 251.43h0M369.6 275.45h0M362.82 275.22h0M366.21 245.97h0M371.87 276.35h0M367.59 273.85h0M368.77 271.98h0M363.77 264.1h0M363.94 270.68h0M369.26 270.27h0M362.6 275.72h0M366.34 258.28h0M371.27 271.31h0M362.96 270.48h0M370.86 276.13h0M367.55 276.03h0M364.52 272.19h0M369.53 264.13h0M369.24 273.9h0M369.59 271.35h0M371.89 275.58h0M358.19 249.03h0M368.83 276.15h0M365.76 268.97h0M362.84 273.75h0M367.79 274.87h0M371.52 272.27h0M365.77 269.14h0M365.45 270.63h0M369.22 268.72h0M358.33 274.59h0M368.6 270.03h0M368.94 268.6h0M367.17 274.28h0M359.92 268.43h0M369.9 262.23h0M362.86 268.51h0M365.31 270.68h0M371.4 275.82h0M367.43 272.83h0M368.01 275.41h0M369.12 267.22h0M362.71 276.49h0M368.55 265.03h0M359.94 264.95h0M367.81 262.5h0M370.07 268.61h0M367.38 271.77h0M366.06 266.33h0M368.47 274.58h0M369.57 271.48h0M368.76 267.65h0M362.3 270.41h0M369.96 265.64h0M367.3 267.84h0M371.02 274.31h0M360.86 265.76h0M369.96 263.97h0M363.9 268.16h0M366.62 267.14h0M363.61 272.9h0M363.31 272.8h0M371.5 276.44h0M369.86 264.97h0M366.01 266.11h0M369.14 266.42h0M368.16 269.18h0M365.38 276.6h0M366.18 274h0M369.24 276.28h0M368.93 275.78h0M361.36 276.62h0M367.38 268.91h0M363.21 276.9h0M362.05 267.17h0M366.33 265.54h0M371.15 270.19h0M365.51 270.85h0M371.47 275.45h0M360.79 261h0M366.26 269.67h0M364.89 233.42h0M368.78 265.46h0M366.4 265.92h0M368.39 275.84h0M363.37 273.59h0M366.23 272.32h0M371.18 270.95h0M369.93 275.93h0M370.97 270.83h0M366.31 267.36h0M357.8 267.6h0M368.36 266.52h0M371.6 274.97h0M366.64 275.21h0M369.92 275.68h0M369.65 271.34h0M361.24 266.17h0M368.72 275.94h0M364.2 269.6h0M363.32 269.67h0M368.73 271.67h0M368.02 274.57h0M367.94 270.46h0M369.96 270.88h0M361.19 260.95h0M370.21 272.98h0M366.31 273h0M364.44 272.63h0M360.76 264.94h0M367.33 252.95h0M364.11 263.68h0M370.34 275.32h0M367.32 264.96h0M363.17 258.84h0M365.18 254.87h0M367.45 257.67h0M370.64 276.1h0M369.64 274.5h0M368.7 261.6h0M366.21 264.77h0M368.16 273.48h0M369.46 260h0M362.91 271.9h0M369.32 274.04h0M302.49 272h0M325.7 242.28h0M337.3 235.42h0M338.07 251.42h0M338.07 267.43h0M352.77 189.13h0M353.54 216.56h0M360.5 216.56h0M351.22 223.42h0M350.14 223.99h0M359.73 227.99h0M343.49 276h0M345.81 269.14h0M350.45 254.28h0M354.32 240.56h0M347.35 258.85h0M348.9 248.57h0M346.58 264.57h0M342.71 270.28h0M358.03 269.43h0M358.1 256.68h0M352.9 263.43h0M352.8 255.39h0M342.82 267.21h0M356.36 262.84h0M342.85 263.84h0M346.83 257.41h0M357.75 272.8h0M353.76 266.87h0M354.26 260.76h0M351.67 270.34h0M352.46 257.12h0M345.96 275.5h0M347.44 273.89h0M344 269.96h0" stroke="#2a22e6" stroke-width="1" stroke-linecap="round" fill="none"/>
<path d="M388.05 265.65h0M382.14 263.27h0M383.68 270.9h0M383.66 270.82h0M379.91 268.38h0M383.69 275.57h0M379.56 268.12h0M379.03 273.29h0M379.98 273.76h0M387.19 256.79h0M378.81 274.93h0M387.14 254.66h0M383.04 268.73h0M379.93 269.68h0M383.06 263.75h0M381.38 269.12h0M380.84 275.88h0M381.97 271.94h0M387.56 270.3h0M387.03 262.07h0M385.67 276.56h0M379.43 270.02h0M380.07 274.14h0M384.59 266.9h0M393.52 273.66h0M379.96 267.68h0M383.59 258.52h0M382.03 264.91h0M394.53 255.29h0M382.55 272.62h0M380.14 274.22h0M382.55 268.09h0M386.88 266.05h0M379.13 271.72h0M385.11 276.6h0M380.14 270.92h0M381.22 271.55h0M381.86 261.7h0M387.69 267.05h0M382.22 261.22h0M387.05 275.83h0M379.58 270.29h0M382.12 256.81h0M386.43 276.25h0M379.61 273.44h0M389.92 258.41h0M383.66 251.74h0M386.27 270.49h0M381.59 271.69h0M379.78 268.56h0M378.86 273.77h0M378.73 276h0M381.57 262h0M391.89 273.02h0M382.3 259.59h0M383.16 257.59h0M383.48 249.82h0M386.44 273.69h0M387.14 272.56h0M381.54 271.95h0M393.52 255.09h0M387.83 276.58h0M380.1 266.85h0M388.37 257.19h0M390.89 265.87h0M382.87 261.03h0M382.01 265.82h0M385.8 276.09h0M381.46 273.54h0M384.96 273.34h0M380.07 266.97h0M379.07 273.87h0M386.83 275.66h0M386.15 275.93h0M388.52 272.31h0M380.18 273.9h0M382.6 276.58h0M393.09 273h0M381.15 264.97h0M388.26 264.45h0M383.19 263.82h0M390.71 276.69h0M380.79 262.55h0M387.02 264.5h0M391.86 275.71h0M380.61 275.18h0M380.14 269.17h0M390.32 262.04h0M383.37 255.74h0M388.49 270.68h0M385.55 269.24h0M382.29 259.42h0M387.12 259.73h0M382.91 254.7h0M379.42 275.13h0M378.79 273.09h0M380.99 263.67h0M379.02 272.71h0M382.39 273.24h0M381.56 265.37h0M382.05 272.83h0M388.74 272.97h0M380.77 276.04h0M388.24 271.83h0M388.57 257.77h0M382.45 276.4h0M380.38 265.44h0M384.55 257.45h0M386.74 267.33h0M384.26 271.85h0M380.69 269.25h0M386.49 234.89h0M382.28 270.49h0M393.99 268.33h0M380.85 275.54h0M379.02 271.14h0M380.41 262.94h0M380.34 263.55h0M381.12 266.73h0M379.44 269.56h0M387.24 255.73h0M387.61 261.4h0M384.4 264.18h0M382.76 258.65h0M384.58 257.64h0M379.53 269.46h0M386.61 257.1h0M381.56 268.68h0M379.8 269.18h0M383.93 271.09h0M381.36 272.64h0M378.44 276.72h0M379.95 267.1h0M380.24 269.17h0M381.69 262.54h0M385.52 264.77h0M391.06 273.36h0M384.8 270.14h0M379.24 272.28h0M378.71 273.46h0M382.19 268.59h0M382.84 253.08h0M383.09 271.47h0M379.91 275.96h0M382.84 272.76h0M381.72 260.72h0M383.74 269.93h0M380.95 263.02h0M388.39 274.91h0M379.84 274.62h0M386.02 263.35h0M379.79 270.52h0M378.54 274.33h0M383.98 275.99h0M380.51 268.03h0M392.92 275.2h0M381.84 268.16h0M385.73 267.13h0M382 266.57h0M380.07 270.4h0M383.62 263.72h0M386.05 264.97h0M388.9 276.65h0M380.65 270.1h0M385.71 268.05h0M380.46 276.07h0M379.38 269.48h0M379.74 271.56h0M383.48 267.79h0M389.1 268.99h0M383 270.79h0M382.21 261.72h0M387.64 271.78h0M382.56 268.99h0M381.06 274.83h0M390.29 262.52h0M383.4 257.94h0M379.77 268.09h0M394.17 271h0M380.63 275.16h0M386.41 252.74h0M385.23 272.76h0M379.18 273.04h0M380.29 267.27h0M381.93 274.67h0M382.69 260.58h0M379.21 272.32h0M383.08 274.24h0M389.15 259.81h0M381.92 258.28h0M379.25 269.79h0M383.6 272.01h0M381.6 275.39h0M384.76 237.73h0M382.09 260.98h0M386.7 256.48h0M378.86 275.36h0M382.26 259.31h0M388.27 274.38h0M382.85 258.62h0M388.74 235.89h0M378.48 276.16h0M381.05 269.37h0M386.32 262.46h0M384.43 262.72h0M381.07 270.2h0M388.92 252.6h0M381.15 265.84h0M380.1 273.23h0M380.48 275.75h0M383.31 261.45h0M384.24 268.24h0M381.14 272.47h0M381.12 259.86h0M385.41 271.42h0M386.28 261.01h0M382.81 260.31h0M380.18 266.39h0M387.18 264.15h0M383.56 272.96h0M379.88 267.9h0M388.24 265.56h0M381.84 266.21h0M389.36 235.96h0M382.24 252.23h0M378.53 275.76h0M387.86 253.6h0M381.62 263.32h0M380.88 266.15h0M381.41 270.23h0M385.14 276.54h0M391.6 262.38h0M388.96 272.19h0M384.55 239.43h0M378.79 274.11h0M382.59 261.04h0M379.39 275.64h0M385.28 274.69h0M378.32 276.31h0M379.55 275.76h0M382.25 253.34h0M380.73 270.05h0M385.37 266.21h0M383.89 242.28h0M379.4 271.83h0M385.98 269.01h0M381 269.18h0M390.26 267.26h0M381.67 274.54h0M387.47 275.87h0M382.53 261.81h0M379.65 276.87h0M378.7 274.39h0M380.32 271.42h0M383.96 251.31h0M381.41 261.29h0M379.86 275.49h0M381.92 267.63h0M379.75 267.3h0M385.63 255.63h0M388.13 271.05h0M383.93 271.53h0M378.74 274.04h0M382.44 264.18h0M389.49 262.61h0M385.37 258.56h0M379.37 274.16h0M385.04 256.13h0M389.54 261.7h0M384.88 254.13h0M385.12 267.18h0M379.07 275.37h0M380.76 266.87h0M381.43 270.7h0M387.3 275.33h0M386.5 273.56h0M381.14 269.81h0M379.66 267.52h0M382.21 255.61h0M383.18 262.62h0M382.56 274.82h0M383.44 254.31h0M379.89 276.72h0M378.87 273.65h0M385.99 259h0M386.55 271.01h0M384.51 270.66h0M378.92 273.84h0M385.52 267.83h0M387.58 240.6h0M378.43 274.58h0M382.3 264.41h0M380.24 264.34h0M388.96 268.75h0M386.15 257.12h0M387.6 261.45h0M378.93 274.79h0M381.27 262.32h0M379.52 274.03h0M385.99 260.71h0M384.54 264.08h0M383.75 258.4h0M385.75 272.06h0M389.82 258.34h0M387.32 275.19h0M390.49 263.46h0M383.61 265.49h0M381.06 266.36h0M385.97 266.94h0M386.61 274.69h0M378.97 275.44h0M381.6 271.57h0M381.1 271.84h0M384.63 263.12h0M383.64 273.5h0M380.52 263.11h0M380.64 274.48h0M389.72 261.91h0M380.28 268.6h0M383.85 274.6h0M382.2 268.41h0M383.41 258.95h0M379.23 270.25h0M388.59 264.43h0M379.87 273.53h0M390.38 274.46h0M383.1 262.05h0M385.89 272.17h0M380.59 273.67h0M381.21 271.5h0M378.8 276.52h0M383.44 259.09h0M380.17 264.53h0M383.18 254.42h0M381.75 259.4h0M378.86 272.18h0M381.44 273.8h0M384.58 240.16h0M385.59 267.81h0M382.47 272.52h0M385.3 255.58h0M379.55 274.49h0M378.17 276.96h0M381.75 262.07h0M385.9 268.43h0M384.36 266.35h0M385.84 261.62h0M383.15 257.15h0M382.44 255.08h0M387.89 263.15h0M380.24 263.99h0M391.97 262.64h0M380.07 267.16h0M383.99 267.17h0M380.15 271.13h0M389.43 267.15h0M382.97 263.07h0M385.25 271.62h0M383.7 263.12h0M382.12 263.69h0M381.57 273.37h0M382.7 267.24h0M381.81 264.42h0M386.27 271.08h0M379.95 267.54h0M379.43 270.3h0M381.88 273.08h0M379.2 276.91h0M394.09 268.02h0M380.91 276h0M381.13 264.12h0M380.1 265.59h0M382.11 253.78h0M380.56 274.09h0M383.79 263.74h0M380.21 269.93h0M383.48 272.99h0M381.58 268.27h0M382.57 266.56h0M385.26 273.72h0M378.52 276.46h0M382.46 266.77h0M379.75 273.11h0M380.03 273.76h0M381.29 261.21h0M384.12 257.21h0M384.62 273.56h0M386.01 276.47h0M384.39 270.71h0M378.67 276.1h0M381.96 269.91h0M381.83 274.27h0M379.68 270.77h0M380.44 265.47h0M387.12 261.05h0M381.17 275.44h0M379.7 274.78h0M378.73 275.21h0M380.73 275.01h0M381.02 263.68h0M388.79 264.05h0M380.89 266.58h0M379.07 273.78h0M383.02 262h0M387.7 255.51h0M381.89 258.71h0M385.9 271.04h0M378.43 275.32h0M380.81 271.01h0M382.77 274.47h0M381.43 275.84h0M384.3 266.52h0M380.77 268.72h0M383.98 257.36h0M380.96 275.33h0M382.05 274.7h0M384.71 270.43h0M387.32 263.59h0M392.5 273.67h0M383.59 267.39h0M385.93 275.92h0M386.14 265.93h0M382 274.62h0M379.65 276.9h0M382.48 266.08h0M389.01 257.49h0M383.7 252.03h0M386.8 268.11h0M380.54 267h0M379.13 276.73h0M391.31 261.15h0M379.75 271.64h0M386.81 268.55h0M378.52 275.78h0M378.63 275.92h0M384.38 254.92h0M388.54 257.99h0M383.27 272.41h0M383.12 273.9h0M390.56 268.04h0M381.28 272.38h0M383 276.13h0M381.27 276.89h0M390.16 260.99h0M381 259.22h0M385 257.09h0M379.23 275.23h0M381.5 261.72h0M381.18 264.33h0M378.79 274.64h0M379.12 275.98h0M389.58 275h0M386.67 274.77h0M383.29 263.98h0M382.83 252.25h0M382.93 274.86h0M378.29 275.22h0M381.1 269.22h0M382.56 262.3h0M381.23 275.76h0M385.51 270.99h0M379.16 273.31h0M380.04 276.1h0M381.59 268.46h0M383.95 253.16h0M381.53 267.19h0M382.65 256.11h0M379.9 275.17h0M384.14 264.3h0M380.14 271.75h0M381.28 271.78h0M378.82 275.97h0M385.04 260.26h0M382.64 268.84h0M381.83 258.3h0M379.46 273.88h0M382.64 253.32h0M379.27 271.42h0M384.94 257.89h0M379.96 269.31h0M386.45 256.11h0M385.08 259.37h0M380.15 270.95h0M380.01 266.19h0M380.31 275.83h0M389.21 273.03h0M381.05 269.85h0M391.66 239.09h0M379.39 268.71h0M380.43 266.03h0M380.99 276.91h0M385.91 266.46h0M389.25 264.37h0M384.55 260.27h0M387.19 269.19h0M381.83 267.75h0M381.4 270.81h0M383.02 274.28h0M381.12 265.06h0M381.89 261.9h0M382.63 255.95h0M384.22 272.2h0M380.23 268.57h0M379.7 275.43h0M382.45 267.66h0M379.09 276.89h0M382.55 264.67h0M384.24 254.17h0M387.87 266.94h0M379.4 275.24h0M384.99 274.71h0M382.29 272.63h0M388.46 275.94h0M379.96 265.63h0M378.3 275.55h0M380.97 263.19h0M379.44 271.79h0M380.07 275.49h0M383.8 275.46h0M381.91 256.11h0M382.73 271.07h0M379.63 271.27h0M385.98 273.31h0M382.43 267.62h0M390.05 262.81h0M380.17 276.31h0M382.33 255.87h0M378.91 272.22h0M380.33 275.45h0M387.25 273.15h0M380.89 269.35h0M387.53 269.98h0M383.51 268.5h0M382.58 257.88h0M379.88 266.33h0M382.18 265.18h0M384.73 268.58h0M385.68 243.38h0M379.82 268.25h0M383.76 270.92h0M380.8 273.17h0M385.53 273.53h0M385.87 259.85h0M383.83 262.49h0M378.19 275.81h0M386.7 257.7h0M378.54 276.77h0M383.6 267.69h0M383.3 255.86h0M381.91 263.16h0M382.92 252.47h0M378.9 274.91h0M381.29 274.07h0M379.62 276.55h0M382.31 262.24h0M385.91 275.08h0M381.12 273.87h0M384.66 255.4h0M383.69 266.24h0M381.06 271.41h0M378.8 274.1h0M379.46 271.15h0M381 260.41h0M380.32 269.7h0M382.15 268.46h0M383.83 254.14h0M378.5 274.51h0M380.24 272.95h0M382.58 272.05h0M381.26 276.58h0M384.5 271.64h0M380.82 270.29h0M382.79 275.37h0M381.9 266.66h0M386.6 244.04h0M378.76 274.4h0M385.26 189.13h0M391.44 218.28h0M414.65 249.71h0M386.03 232.56h0M395.31 234.85h0M396.86 255.42h0M398.4 266.85h0M393.76 238.28h0M397.63 262.28h0M398.4 270.28h0M396.08 257.71h0M399.9 258.68h0M396.25 268.3h0M398.78 255.67h0M394.47 259.53h0M393.8 260.17h0M396.82 272.92h0M393.86 275.33h0M393.76 277.04h0" stroke="#dd0016" stroke-width="1" stroke-linecap="round" fill="none"/>
<text x="4.6" y="341.4" font-size="12.5" fill="#000" font-weight="bold">e</text>
<rect x="38.2" y="341.3" width="188.6" height="11.1" fill="#fff" stroke="#777" stroke-width="0.6"/>
<rect x="226.8" y="341.3" width="81.4" height="11.1" fill="#fff" stroke="#777" stroke-width="0.6"/>
<text x="139.3" y="350.2" font-size="8.7" text-anchor="middle" fill="#111">Grouped</text>
<text x="268.6" y="350.2" font-size="8.5" text-anchor="middle" fill="#111">Isolated</text>
<rect x="38.2" y="354.4" width="58.6" height="9.5" fill="#858585"/>
<text x="67.5" y="362.3" font-size="8.8" text-anchor="middle" fill="#111">c37</text>
<rect x="96.8" y="354.4" width="58.5" height="9.5" fill="#c8c8c8"/>
<text x="126.05" y="362.3" font-size="8.8" text-anchor="middle" fill="#111">c66</text>
<rect x="155.3" y="354.4" width="71.5" height="9.5" fill="#ececec"/>
<text x="191.05" y="362.3" font-size="8.8" text-anchor="middle" fill="#111">c81</text>
<rect x="226.8" y="354.4" width="22.4" height="9.5" fill="#858585"/>
<text x="238" y="362.3" font-size="8.8" text-anchor="middle" fill="#111">c37</text>
<rect x="249.2" y="354.4" width="36.1" height="9.5" fill="#c8c8c8"/>
<text x="267.25" y="362.3" font-size="8.8" text-anchor="middle" fill="#111">c66</text>
<rect x="285.3" y="354.4" width="22.9" height="9.5" fill="#ececec"/>
<text x="296.75" y="362.3" font-size="8.8" text-anchor="middle" fill="#111">c81</text>
<g fill="none" stroke-width="2.56" shape-rendering="crispEdges">
<path stroke="#d3e6f0" d="M38.2 365.95h4.5M87.7 365.95h4.5M285.7 365.95h4.5M303.7 365.95h4.5M69.7 368.45h4.5M119.2 368.45h4.5M132.7 368.45h4.5M213.7 368.45h4.5M267.7 368.45h4.5M285.7 368.45h9M87.7 370.95h4.5M110.2 370.95h9M173.2 370.95h4.5M254.2 370.95h4.5M281.2 370.95h4.5M110.2 373.45h4.5M123.7 373.45h4.5M150.7 373.45h4.5M254.2 373.45h4.5M272.2 373.45h4.5M114.7 375.95h4.5M200.2 375.95h9M245.2 375.95h4.5M258.7 375.95h4.5M281.2 375.95h4.5M105.7 378.45h4.5M222.7 378.45h4.5M240.7 378.45h4.5M263.2 378.45h4.5M177.7 383.45h4.5M254.2 383.45h4.5M110.2 385.95h4.5M132.7 385.95h4.5M146.2 385.95h4.5M155.2 385.95h4.5M299.2 385.95h4.5M263.2 388.45h9M281.2 388.45h4.5M294.7 388.45h4.5M114.7 390.95h4.5M137.2 390.95h9M177.7 390.95h4.5M204.7 390.95h4.5M258.7 390.95h9M290.2 390.95h9M96.7 393.45h4.5M155.2 393.45h4.5M173.2 393.45h4.5M227.2 393.45h4.5M272.2 393.45h4.5M168.7 395.95h4.5M263.2 395.95h4.5M132.7 398.45h4.5M150.7 398.45h4.5M168.7 398.45h4.5M276.7 398.45h4.5M155.2 400.95h4.5M168.7 400.95h4.5M254.2 400.95h4.5M281.2 400.95h4.5M114.7 403.45h4.5M128.2 405.95h4.5M294.7 405.95h4.5M236.2 408.45h4.5M303.7 408.45h4.5M114.7 410.95h4.5M168.7 410.95h4.5M96.7 413.45h4.5M105.7 413.45h4.5M168.7 413.45h4.5M177.7 413.45h4.5M236.2 413.45h4.5M272.2 413.45h4.5M285.7 413.45h4.5M137.2 415.95h4.5M294.7 415.95h4.5M128.2 418.45h4.5M101.2 420.95h4.5M168.7 420.95h4.5M294.7 420.95h4.5M83.2 423.45h4.5M114.7 423.45h9M132.7 423.45h4.5M303.7 423.45h4.5M47.2 425.95h4.5M83.2 425.95h4.5M101.2 425.95h4.5M227.2 425.95h4.5M276.7 425.95h4.5M83.2 428.45h4.5M114.7 428.45h4.5M168.7 428.45h4.5M263.2 428.45h4.5M267.7 430.95h4.5M168.7 435.95h4.5M231.7 435.95h4.5M258.7 435.95h9M303.7 435.95h4.5M83.2 438.45h4.5M101.2 438.45h4.5M155.2 438.45h4.5M173.2 438.45h4.5M240.7 438.45h4.5M47.2 440.95h4.5M164.2 440.95h4.5M209.2 440.95h4.5M51.7 443.45h4.5M78.7 443.45h4.5M114.7 443.45h4.5M227.2 443.45h4.5M173.2 445.95h4.5M299.2 445.95h4.5M96.7 448.45h4.5M182.2 448.45h4.5M195.7 450.95h4.5M218.2 450.95h4.5M69.7 453.45h4.5M78.7 453.45h4.5M119.2 453.45h4.5M65.2 455.95h4.5M78.7 455.95h4.5M92.2 455.95h4.5M47.2 458.45h4.5M114.7 458.45h4.5M285.7 458.45h9M60.7 460.95h4.5M164.2 460.95h4.5M173.2 460.95h4.5M119.2 463.45h4.5M150.7 463.45h4.5M236.2 463.45h9M267.7 463.45h4.5M96.7 465.95h4.5M159.7 465.95h4.5M168.7 465.95h4.5M177.7 465.95h4.5M186.7 465.95h9M236.2 465.95h4.5M258.7 465.95h4.5M299.2 465.95h4.5M38.2 468.45h4.5M123.7 468.45h4.5M132.7 468.45h4.5M155.2 468.45h4.5M168.7 468.45h4.5M231.7 468.45h4.5M245.2 468.45h4.5M110.2 470.95h4.5M155.2 470.95h13.5M182.2 470.95h4.5M204.7 470.95h9M231.7 470.95h4.5M258.7 470.95h4.5M56.2 473.45h9M123.7 473.45h4.5M132.7 473.45h4.5M182.2 473.45h4.5M209.2 473.45h9M222.7 473.45h4.5M245.2 473.45h4.5M285.7 473.45h4.5M47.2 478.45h4.5M74.2 478.45h13.5M110.2 478.45h4.5M159.7 478.45h4.5M168.7 478.45h4.5M240.7 478.45h4.5M285.7 478.45h4.5M42.7 480.95h4.5M74.2 480.95h4.5M92.2 480.95h13.5M132.7 480.95h9M146.2 480.95h4.5M213.7 480.95h4.5M222.7 480.95h4.5M56.2 483.45h9M74.2 483.45h13.5M110.2 483.45h4.5M128.2 483.45h4.5M168.7 483.45h4.5M240.7 483.45h4.5M65.2 485.95h4.5M87.7 485.95h4.5M114.7 485.95h4.5M186.7 485.95h4.5M213.7 485.95h4.5M290.2 485.95h4.5M69.7 488.45h4.5M132.7 488.45h4.5M146.2 488.45h4.5M69.7 490.95h9M110.2 490.95h4.5M132.7 490.95h4.5M209.2 490.95h9M47.2 493.45h4.5M56.2 493.45h4.5M65.2 493.45h4.5M78.7 493.45h9M105.7 493.45h4.5M114.7 493.45h4.5M141.7 493.45h9M218.2 493.45h4.5M227.2 493.45h4.5M236.2 493.45h4.5M51.7 495.95h4.5M128.2 495.95h4.5M146.2 495.95h4.5M213.7 495.95h4.5M51.7 498.45h4.5M87.7 498.45h9M155.2 498.45h4.5M263.2 498.45h4.5M281.2 498.45h4.5M299.2 498.45h4.5M38.2 500.95h4.5M110.2 500.95h4.5M132.7 500.95h4.5M155.2 500.95h4.5M164.2 500.95h4.5M177.7 500.95h4.5M51.7 503.45h4.5M78.7 503.45h4.5M92.2 503.45h9M114.7 503.45h9M128.2 503.45h4.5M159.7 503.45h9M38.2 505.95h4.5M74.2 505.95h4.5M150.7 505.95h4.5M164.2 505.95h4.5M213.7 505.95h4.5M83.2 508.45h4.5M119.2 508.45h4.5M155.2 508.45h4.5M168.7 508.45h4.5M191.2 508.45h4.5M209.2 508.45h4.5M78.7 510.95h9M132.7 510.95h4.5M141.7 510.95h9M177.7 510.95h4.5M254.2 510.95h4.5M263.2 510.95h4.5M56.2 513.45h4.5M141.7 513.45h4.5M150.7 513.45h13.5M177.7 513.45h4.5M263.2 513.45h4.5"/>
<path stroke="#f7f7f7" d="M42.7 365.95h4.5M83.2 365.95h4.5M168.7 365.95h4.5M281.2 365.95h4.5M42.7 368.45h4.5M168.7 368.45h4.5M191.2 368.45h4.5M240.7 368.45h4.5M276.7 368.45h4.5M299.2 368.45h4.5M65.2 370.95h4.5M168.7 370.95h4.5M191.2 370.95h4.5M231.7 370.95h4.5M267.7 370.95h4.5M285.7 370.95h4.5M303.7 370.95h4.5M60.7 373.45h4.5M137.2 373.45h4.5M200.2 373.45h9M218.2 373.45h4.5M231.7 373.45h4.5M290.2 373.45h13.5M51.7 375.95h4.5M150.7 375.95h4.5M191.2 375.95h4.5M285.7 375.95h4.5M303.7 375.95h4.5M51.7 378.45h9M258.7 380.95h4.5M285.7 380.95h4.5M299.2 380.95h4.5M42.7 383.45h4.5M51.7 383.45h4.5M60.7 383.45h4.5M128.2 383.45h4.5M168.7 383.45h4.5M285.7 383.45h4.5M299.2 383.45h4.5M42.7 385.95h4.5M254.2 385.95h4.5M276.7 385.95h4.5M74.2 388.45h4.5M173.2 388.45h4.5M303.7 388.45h4.5M191.2 390.95h4.5M209.2 390.95h4.5M303.7 390.95h4.5M47.2 393.45h4.5M303.7 393.45h4.5M42.7 395.95h4.5M60.7 395.95h4.5M182.2 395.95h4.5M191.2 395.95h4.5M60.7 400.95h4.5M303.7 403.45h4.5M51.7 405.95h4.5M258.7 405.95h4.5M47.2 408.45h4.5M78.7 408.45h4.5M137.2 408.45h4.5M182.2 408.45h4.5M47.2 410.95h4.5M128.2 410.95h4.5M182.2 410.95h4.5M231.7 410.95h4.5M101.2 413.45h4.5M276.7 413.45h4.5M182.2 415.95h4.5M60.7 420.95h4.5M123.7 420.95h4.5M164.2 420.95h4.5M60.7 423.45h4.5M299.2 423.45h4.5M186.7 425.95h4.5M299.2 425.95h4.5M182.2 428.45h4.5M272.2 428.45h4.5M123.7 430.95h4.5M182.2 430.95h4.5M299.2 430.95h4.5M110.2 433.45h4.5M42.7 435.95h4.5M74.2 435.95h4.5M209.2 435.95h4.5M74.2 438.45h4.5M38.2 440.95h4.5M83.2 440.95h4.5M92.2 440.95h4.5M191.2 440.95h4.5M87.7 443.45h4.5M164.2 443.45h4.5M123.7 445.95h9M137.2 445.95h4.5M168.7 445.95h4.5M177.7 445.95h4.5M209.2 445.95h4.5M128.2 448.45h4.5M159.7 448.45h4.5M186.7 448.45h9M204.7 448.45h4.5M101.2 450.95h4.5M123.7 450.95h4.5M204.7 450.95h4.5M60.7 453.45h4.5M83.2 453.45h9M105.7 453.45h4.5M186.7 453.45h4.5M168.7 455.95h4.5M209.2 455.95h9M38.2 458.45h4.5M60.7 458.45h4.5M78.7 458.45h9M150.7 458.45h4.5M173.2 458.45h4.5M236.2 458.45h4.5M42.7 460.95h4.5M83.2 460.95h4.5M92.2 460.95h4.5M159.7 460.95h4.5M191.2 460.95h4.5M42.7 463.45h4.5M83.2 463.45h4.5M222.7 463.45h4.5M42.7 465.95h4.5M69.7 465.95h4.5M128.2 465.95h4.5M155.2 465.95h4.5M245.2 465.95h4.5M303.7 465.95h4.5M60.7 468.45h4.5M78.7 468.45h4.5M164.2 468.45h4.5M177.7 468.45h4.5M240.7 468.45h4.5M294.7 468.45h4.5M74.2 470.95h4.5M47.2 473.45h4.5M119.2 473.45h4.5M299.2 473.45h4.5M60.7 475.95h4.5M83.2 475.95h4.5M150.7 475.95h4.5M294.7 475.95h4.5M65.2 478.45h4.5M96.7 478.45h4.5M114.7 478.45h4.5M182.2 478.45h4.5M60.7 480.95h9M78.7 480.95h4.5M105.7 480.95h4.5M195.7 480.95h4.5M101.2 483.45h9M177.7 483.45h4.5M101.2 485.95h9M123.7 485.95h4.5M150.7 485.95h4.5M200.2 485.95h4.5M281.2 485.95h4.5M83.2 488.45h4.5M96.7 488.45h4.5M123.7 488.45h4.5M258.7 490.95h4.5M231.7 493.45h4.5M272.2 493.45h4.5M69.7 495.95h4.5M78.7 495.95h4.5M87.7 495.95h4.5M132.7 495.95h4.5M294.7 495.95h4.5M105.7 498.45h4.5M128.2 498.45h4.5M159.7 498.45h4.5M254.2 498.45h4.5M78.7 500.95h4.5M87.7 500.95h4.5M123.7 500.95h4.5M195.7 500.95h4.5M218.2 500.95h4.5M231.7 500.95h4.5M132.7 503.45h9M276.7 503.45h4.5M56.2 505.95h4.5M78.7 505.95h4.5M92.2 505.95h4.5M105.7 505.95h4.5M155.2 505.95h4.5M240.7 505.95h4.5M249.7 505.95h4.5M263.2 505.95h4.5M110.2 508.45h4.5M150.7 508.45h4.5M245.2 508.45h9M96.7 510.95h4.5M119.2 510.95h4.5M159.7 510.95h4.5M249.7 510.95h4.5M51.7 513.45h4.5M101.2 513.45h4.5M213.7 513.45h4.5M249.7 513.45h4.5"/>
<path stroke="#f9eee8" d="M47.2 365.95h4.5M74.2 365.95h4.5M137.2 365.95h9M290.2 365.95h4.5M65.2 368.45h4.5M83.2 368.45h4.5M56.2 370.95h4.5M150.7 370.95h4.5M159.7 370.95h9M132.7 373.45h4.5M191.2 373.45h4.5M159.7 375.95h4.5M236.2 375.95h4.5M42.7 378.45h4.5M65.2 378.45h4.5M92.2 378.45h4.5M159.7 378.45h4.5M285.7 378.45h4.5M51.7 380.95h9M92.2 380.95h4.5M290.2 380.95h4.5M74.2 383.45h4.5M146.2 383.45h4.5M128.2 385.95h4.5M137.2 385.95h4.5M294.7 385.95h4.5M65.2 388.45h4.5M186.7 388.45h4.5M110.2 390.95h4.5M128.2 390.95h4.5M285.7 390.95h4.5M60.7 393.45h4.5M78.7 393.45h4.5M164.2 393.45h4.5M195.7 393.45h9M213.7 393.45h4.5M236.2 393.45h4.5M56.2 395.95h4.5M240.7 395.95h4.5M213.7 398.45h4.5M285.7 398.45h4.5M299.2 398.45h4.5M191.2 400.95h4.5M200.2 400.95h4.5M60.7 403.45h4.5M213.7 403.45h4.5M146.2 405.95h4.5M209.2 405.95h4.5M74.2 408.45h4.5M105.7 408.45h4.5M141.7 408.45h4.5M209.2 408.45h4.5M38.2 410.95h4.5M69.7 410.95h4.5M47.2 413.45h9M114.7 413.45h4.5M132.7 413.45h4.5M213.7 413.45h4.5M60.7 415.95h4.5M114.7 415.95h4.5M191.2 415.95h4.5M209.2 415.95h4.5M60.7 418.45h4.5M213.7 418.45h4.5M146.2 423.45h4.5M182.2 423.45h4.5M218.2 423.45h4.5M110.2 425.95h4.5M123.7 425.95h4.5M51.7 428.45h4.5M69.7 428.45h4.5M186.7 428.45h9M209.2 428.45h4.5M132.7 430.95h4.5M209.2 430.95h4.5M42.7 433.45h4.5M182.2 433.45h4.5M272.2 433.45h4.5M132.7 435.95h4.5M191.2 435.95h4.5M38.2 438.45h9M78.7 438.45h4.5M173.2 440.95h4.5M186.7 443.45h9M114.7 445.95h4.5M164.2 445.95h4.5M182.2 445.95h4.5M164.2 448.45h4.5M119.2 450.95h4.5M164.2 450.95h4.5M96.7 453.45h4.5M168.7 453.45h4.5M209.2 453.45h4.5M74.2 463.45h4.5M173.2 463.45h4.5M290.2 463.45h4.5M186.7 468.45h4.5M209.2 468.45h4.5M303.7 468.45h4.5M69.7 470.95h4.5M218.2 470.95h4.5M290.2 470.95h4.5M114.7 473.45h4.5M272.2 473.45h4.5M294.7 473.45h4.5M209.2 475.95h4.5M258.7 475.95h4.5M299.2 475.95h4.5M123.7 480.95h4.5M240.7 480.95h4.5M231.7 483.45h4.5M285.7 483.45h4.5M276.7 485.95h4.5M186.7 488.45h9M245.2 490.95h4.5M42.7 495.95h4.5M231.7 495.95h4.5M231.7 498.45h4.5M258.7 498.45h4.5M249.7 500.95h4.5M272.2 500.95h4.5M281.2 500.95h9M74.2 503.45h4.5M245.2 503.45h4.5M267.7 503.45h4.5M281.2 505.95h4.5M272.2 508.45h4.5M110.2 513.45h4.5"/>
<path stroke="#fdddca" d="M51.7 365.95h4.5M177.7 365.95h4.5M186.7 368.45h4.5M177.7 370.95h4.5M146.2 373.45h4.5M263.2 373.45h4.5M141.7 375.95h4.5M263.2 375.95h4.5M173.2 378.45h4.5M222.7 380.95h4.5M173.2 383.45h4.5M294.7 383.45h4.5M303.7 385.95h4.5M132.7 390.95h4.5M218.2 390.95h4.5M92.2 393.45h4.5M141.7 393.45h4.5M173.2 395.95h4.5M213.7 395.95h4.5M200.2 398.45h4.5M218.2 398.45h4.5M146.2 400.95h4.5M299.2 400.95h4.5M78.7 403.45h4.5M299.2 403.45h4.5M110.2 405.95h4.5M204.7 408.45h4.5M204.7 410.95h4.5M213.7 410.95h4.5M146.2 413.45h4.5M141.7 415.95h9M74.2 418.45h4.5M209.2 418.45h4.5M209.2 420.95h4.5M47.2 423.45h4.5M213.7 423.45h4.5M137.2 425.95h4.5M218.2 425.95h4.5M137.2 430.95h4.5M213.7 430.95h9M132.7 433.45h4.5M218.2 435.95h4.5M51.7 440.95h4.5M69.7 440.95h4.5M119.2 440.95h4.5M182.2 440.95h4.5M123.7 443.45h4.5M168.7 443.45h4.5M209.2 443.45h4.5M42.7 445.95h4.5M96.7 445.95h4.5M60.7 448.45h4.5M74.2 448.45h4.5M83.2 448.45h4.5M209.2 450.95h4.5M42.7 453.45h9M92.2 453.45h4.5M195.7 453.45h4.5M92.2 458.45h4.5M159.7 458.45h4.5M191.2 458.45h4.5M200.2 458.45h4.5M51.7 460.95h4.5M182.2 460.95h4.5M222.7 460.95h4.5M258.7 460.95h4.5M182.2 463.45h9M204.7 463.45h4.5M213.7 463.45h4.5M83.2 465.95h4.5M267.7 465.95h4.5M128.2 468.45h4.5M78.7 470.95h4.5M146.2 473.45h4.5M254.2 473.45h9M272.2 480.95h4.5M290.2 480.95h4.5M114.7 483.45h4.5M191.2 485.95h4.5M272.2 485.95h4.5M168.7 488.45h4.5M254.2 488.45h4.5M272.2 488.45h4.5M249.7 490.95h4.5M290.2 490.95h4.5M74.2 493.45h4.5M110.2 493.45h4.5M245.2 493.45h4.5M195.7 498.45h4.5M218.2 498.45h4.5M285.7 498.45h4.5M294.7 498.45h4.5M56.2 500.95h4.5M204.7 500.95h4.5M69.7 503.45h4.5M150.7 503.45h4.5M299.2 503.45h4.5M110.2 505.95h4.5M186.7 505.95h4.5M299.2 508.45h4.5M245.2 510.95h4.5M42.7 513.45h4.5M146.2 513.45h4.5M258.7 513.45h4.5M272.2 513.45h4.5"/>
<path stroke="#dfecf3" d="M56.2 365.95h9M101.2 365.95h4.5M114.7 365.95h4.5M123.7 365.95h4.5M159.7 365.95h4.5M272.2 365.95h4.5M155.2 368.45h4.5M173.2 368.45h9M258.7 368.45h4.5M281.2 368.45h4.5M294.7 368.45h4.5M303.7 368.45h4.5M42.7 370.95h4.5M83.2 370.95h4.5M119.2 370.95h4.5M227.2 370.95h4.5M240.7 370.95h4.5M299.2 370.95h4.5M51.7 373.45h4.5M74.2 373.45h4.5M128.2 373.45h4.5M159.7 373.45h4.5M236.2 373.45h4.5M38.2 375.95h4.5M65.2 375.95h4.5M74.2 375.95h4.5M123.7 375.95h4.5M240.7 375.95h4.5M74.2 378.45h4.5M276.7 378.45h4.5M303.7 378.45h4.5M101.2 380.95h9M123.7 380.95h4.5M150.7 380.95h4.5M101.2 383.45h9M159.7 383.45h4.5M204.7 383.45h4.5M245.2 383.45h4.5M263.2 383.45h4.5M69.7 385.95h4.5M105.7 385.95h4.5M227.2 385.95h4.5M240.7 385.95h4.5M47.2 388.45h4.5M119.2 388.45h4.5M128.2 388.45h4.5M141.7 388.45h4.5M155.2 388.45h4.5M177.7 388.45h4.5M231.7 388.45h9M285.7 388.45h4.5M155.2 390.95h4.5M168.7 390.95h4.5M182.2 390.95h4.5M267.7 390.95h4.5M128.2 393.45h4.5M168.7 393.45h4.5M177.7 393.45h4.5M191.2 393.45h4.5M231.7 393.45h4.5M249.7 393.45h4.5M69.7 395.95h4.5M110.2 395.95h4.5M60.7 398.45h4.5M110.2 398.45h4.5M155.2 398.45h4.5M182.2 398.45h4.5M209.2 398.45h4.5M240.7 398.45h4.5M303.7 398.45h4.5M137.2 400.95h4.5M209.2 400.95h4.5M47.2 403.45h4.5M56.2 403.45h4.5M168.7 403.45h4.5M209.2 403.45h4.5M258.7 403.45h4.5M132.7 405.95h4.5M150.7 405.95h4.5M263.2 405.95h4.5M51.7 408.45h4.5M146.2 408.45h9M168.7 408.45h4.5M209.2 410.95h4.5M299.2 410.95h4.5M56.2 413.45h4.5M78.7 413.45h4.5M182.2 413.45h4.5M123.7 415.95h4.5M168.7 415.95h4.5M204.7 415.95h4.5M83.2 418.45h4.5M105.7 418.45h4.5M114.7 418.45h4.5M141.7 418.45h4.5M173.2 418.45h4.5M227.2 418.45h4.5M294.7 418.45h4.5M69.7 420.95h9M83.2 420.95h4.5M137.2 420.95h4.5M299.2 420.95h4.5M101.2 423.45h4.5M123.7 423.45h4.5M141.7 423.45h4.5M191.2 423.45h4.5M42.7 425.95h4.5M51.7 425.95h4.5M78.7 425.95h4.5M105.7 428.45h4.5M128.2 428.45h4.5M299.2 428.45h4.5M38.2 430.95h4.5M74.2 430.95h4.5M83.2 430.95h4.5M101.2 430.95h13.5M191.2 430.95h4.5M272.2 430.95h4.5M78.7 433.45h4.5M105.7 433.45h4.5M123.7 433.45h4.5M168.7 433.45h4.5M191.2 433.45h4.5M276.7 433.45h4.5M38.2 435.95h4.5M78.7 435.95h4.5M114.7 435.95h4.5M128.2 435.95h4.5M182.2 435.95h4.5M281.2 435.95h4.5M294.7 435.95h4.5M51.7 438.45h4.5M128.2 438.45h4.5M110.2 440.95h9M200.2 440.95h9M218.2 443.45h4.5M105.7 445.95h4.5M119.2 445.95h4.5M137.2 448.45h4.5M209.2 448.45h13.5M60.7 450.95h4.5M114.7 450.95h4.5M114.7 453.45h4.5M191.2 453.45h4.5M204.7 453.45h4.5M38.2 455.95h9M105.7 455.95h4.5M114.7 455.95h4.5M186.7 455.95h4.5M222.7 455.95h4.5M38.2 460.95h4.5M65.2 460.95h4.5M128.2 460.95h4.5M200.2 460.95h4.5M110.2 463.45h4.5M177.7 463.45h4.5M200.2 463.45h4.5M245.2 463.45h4.5M47.2 465.95h4.5M60.7 465.95h4.5M78.7 465.95h4.5M105.7 465.95h4.5M119.2 465.95h4.5M254.2 465.95h4.5M74.2 468.45h4.5M141.7 468.45h4.5M249.7 468.45h9M47.2 470.95h13.5M87.7 470.95h4.5M119.2 470.95h13.5M200.2 470.95h4.5M110.2 473.45h4.5M137.2 473.45h9M191.2 473.45h4.5M204.7 473.45h4.5M240.7 473.45h4.5M290.2 473.45h4.5M69.7 475.95h9M110.2 475.95h13.5M146.2 475.95h4.5M227.2 475.95h4.5M240.7 475.95h4.5M60.7 478.45h4.5M101.2 478.45h4.5M137.2 478.45h18M245.2 478.45h4.5M69.7 480.95h4.5M119.2 480.95h4.5M141.7 480.95h4.5M159.7 480.95h4.5M173.2 480.95h4.5M182.2 480.95h4.5M87.7 483.45h4.5M96.7 483.45h4.5M119.2 483.45h9M137.2 483.45h4.5M191.2 483.45h4.5M245.2 483.45h4.5M290.2 483.45h4.5M74.2 485.95h4.5M92.2 485.95h4.5M128.2 485.95h4.5M137.2 485.95h13.5M164.2 485.95h4.5M177.7 485.95h4.5M245.2 485.95h4.5M285.7 485.95h4.5M294.7 485.95h4.5M65.2 488.45h4.5M87.7 488.45h4.5M101.2 488.45h13.5M209.2 488.45h4.5M65.2 490.95h4.5M191.2 490.95h4.5M272.2 490.95h4.5M38.2 493.45h4.5M69.7 493.45h4.5M92.2 493.45h4.5M195.7 493.45h4.5M204.7 493.45h4.5M56.2 495.95h4.5M114.7 495.95h4.5M159.7 495.95h4.5M177.7 495.95h4.5M236.2 495.95h4.5M254.2 495.95h4.5M272.2 495.95h4.5M47.2 498.45h4.5M56.2 498.45h4.5M78.7 498.45h4.5M101.2 498.45h4.5M137.2 498.45h13.5M173.2 498.45h9M186.7 498.45h4.5M200.2 498.45h4.5M272.2 498.45h4.5M47.2 500.95h9M83.2 500.95h4.5M150.7 500.95h4.5M182.2 500.95h4.5M191.2 500.95h4.5M222.7 500.95h4.5M267.7 500.95h4.5M299.2 500.95h4.5M38.2 503.45h4.5M222.7 503.45h4.5M231.7 503.45h4.5M240.7 503.45h4.5M263.2 503.45h4.5M65.2 505.95h9M132.7 505.95h4.5M159.7 505.95h4.5M168.7 505.95h4.5M200.2 505.95h4.5M227.2 505.95h4.5M245.2 505.95h4.5M60.7 508.45h4.5M87.7 508.45h4.5M105.7 508.45h4.5M146.2 508.45h4.5M254.2 508.45h13.5M294.7 508.45h4.5M42.7 510.95h4.5M69.7 510.95h9M114.7 510.95h4.5M123.7 510.95h4.5M182.2 510.95h4.5M272.2 510.95h4.5M60.7 513.45h4.5M74.2 513.45h4.5M87.7 513.45h4.5M105.7 513.45h4.5M114.7 513.45h4.5M128.2 513.45h13.5M204.7 513.45h4.5"/>
<path stroke="#fbceb6" d="M65.2 365.95h4.5M146.2 365.95h4.5M245.2 365.95h4.5M51.7 368.45h4.5M245.2 368.45h4.5M132.7 370.95h4.5M294.7 370.95h4.5M195.7 378.45h4.5M87.7 383.45h4.5M96.7 383.45h4.5M123.7 383.45h4.5M92.2 385.95h4.5M123.7 388.45h4.5M159.7 388.45h4.5M290.2 388.45h4.5M92.2 390.95h4.5M200.2 390.95h4.5M110.2 393.45h4.5M218.2 393.45h4.5M299.2 395.95h4.5M38.2 398.45h4.5M56.2 398.45h4.5M69.7 398.45h4.5M218.2 403.45h4.5M92.2 408.45h4.5M110.2 408.45h4.5M105.7 410.95h4.5M123.7 410.95h4.5M186.7 410.95h4.5M150.7 413.45h4.5M159.7 413.45h4.5M101.2 415.95h4.5M150.7 415.95h4.5M213.7 415.95h9M47.2 418.45h4.5M101.2 418.45h4.5M146.2 420.95h4.5M213.7 420.95h4.5M137.2 423.45h4.5M209.2 425.95h4.5M137.2 428.45h4.5M92.2 433.45h4.5M137.2 435.95h4.5M132.7 438.45h4.5M218.2 438.45h4.5M218.2 440.95h4.5M137.2 443.45h4.5M51.7 450.95h4.5M74.2 453.45h4.5M128.2 453.45h4.5M119.2 455.95h4.5M42.7 458.45h4.5M74.2 458.45h4.5M218.2 463.45h4.5M195.7 473.45h4.5M227.2 473.45h4.5M231.7 480.95h9M245.2 480.95h4.5M254.2 483.45h9M78.7 485.95h4.5M119.2 485.95h4.5M258.7 485.95h9M74.2 488.45h4.5M290.2 488.45h4.5M240.7 498.45h4.5M254.2 500.95h4.5M285.7 503.45h4.5M47.2 505.95h4.5"/>
<path stroke="#c1ddec" d="M69.7 365.95h4.5M78.7 365.95h4.5M119.2 365.95h4.5M173.2 365.95h4.5M200.2 365.95h4.5M209.2 365.95h9M78.7 368.45h4.5M105.7 368.45h4.5M114.7 368.45h4.5M128.2 368.45h4.5M209.2 368.45h4.5M231.7 368.45h4.5M249.7 368.45h4.5M78.7 370.95h4.5M101.2 370.95h4.5M146.2 370.95h4.5M249.7 370.95h4.5M272.2 370.95h4.5M38.2 373.45h4.5M245.2 373.45h4.5M258.7 373.45h4.5M281.2 373.45h4.5M47.2 375.95h4.5M137.2 375.95h4.5M209.2 375.95h4.5M254.2 375.95h4.5M267.7 375.95h9M83.2 378.45h4.5M110.2 378.45h4.5M132.7 378.45h4.5M141.7 378.45h4.5M249.7 378.45h4.5M272.2 378.45h4.5M290.2 378.45h9M164.2 380.95h4.5M267.7 380.95h4.5M303.7 380.95h4.5M38.2 383.45h4.5M155.2 383.45h4.5M222.7 383.45h4.5M249.7 383.45h4.5M267.7 383.45h4.5M303.7 383.45h4.5M141.7 385.95h4.5M150.7 385.95h4.5M186.7 385.95h4.5M222.7 385.95h4.5M263.2 385.95h4.5M254.2 388.45h4.5M299.2 388.45h4.5M119.2 390.95h9M231.7 390.95h9M249.7 390.95h4.5M276.7 390.95h4.5M119.2 393.45h4.5M240.7 393.45h9M294.7 393.45h4.5M96.7 395.95h4.5M146.2 395.95h9M96.7 398.45h4.5M105.7 398.45h4.5M141.7 398.45h4.5M272.2 398.45h4.5M245.2 400.95h4.5M87.7 403.45h4.5M137.2 403.45h4.5M236.2 403.45h4.5M294.7 403.45h4.5M47.2 405.95h4.5M254.2 405.95h4.5M69.7 408.45h4.5M96.7 408.45h4.5M56.2 410.95h4.5M254.2 410.95h4.5M290.2 410.95h9M74.2 413.45h4.5M87.7 413.45h4.5M128.2 413.45h4.5M137.2 413.45h9M290.2 413.45h9M83.2 415.95h4.5M105.7 415.95h4.5M227.2 415.95h4.5M285.7 415.95h4.5M303.7 415.95h4.5M110.2 418.45h4.5M119.2 418.45h4.5M137.2 418.45h4.5M155.2 418.45h4.5M177.7 418.45h4.5M254.2 418.45h4.5M105.7 420.95h9M231.7 420.95h4.5M240.7 420.95h4.5M227.2 423.45h4.5M56.2 425.95h9M132.7 425.95h4.5M168.7 425.95h4.5M290.2 425.95h4.5M177.7 428.45h4.5M227.2 428.45h4.5M245.2 428.45h4.5M47.2 430.95h4.5M128.2 430.95h4.5M168.7 430.95h4.5M240.7 430.95h4.5M294.7 430.95h4.5M83.2 433.45h4.5M60.7 435.95h4.5M83.2 435.95h4.5M60.7 438.45h4.5M114.7 438.45h4.5M231.7 438.45h4.5M249.7 438.45h4.5M128.2 440.95h4.5M236.2 440.95h4.5M285.7 440.95h4.5M47.2 443.45h4.5M110.2 443.45h4.5M119.2 443.45h4.5M240.7 443.45h4.5M258.7 443.45h9M60.7 445.95h4.5M285.7 445.95h9M47.2 448.45h4.5M114.7 448.45h4.5M200.2 448.45h4.5M240.7 448.45h4.5M254.2 448.45h4.5M105.7 450.95h4.5M290.2 450.95h13.5M51.7 453.45h4.5M263.2 455.95h4.5M299.2 455.95h4.5M105.7 458.45h4.5M164.2 458.45h9M222.7 458.45h4.5M249.7 458.45h4.5M276.7 458.45h4.5M294.7 458.45h9M114.7 460.95h4.5M168.7 460.95h4.5M209.2 460.95h4.5M290.2 460.95h4.5M69.7 463.45h4.5M132.7 463.45h4.5M195.7 463.45h4.5M299.2 463.45h4.5M38.2 465.95h4.5M110.2 465.95h4.5M132.7 465.95h4.5M150.7 465.95h4.5M164.2 465.95h4.5M204.7 465.95h4.5M227.2 465.95h4.5M47.2 468.45h4.5M96.7 468.45h4.5M105.7 468.45h4.5M159.7 468.45h4.5M182.2 468.45h4.5M65.2 470.95h4.5M92.2 470.95h4.5M105.7 470.95h4.5M146.2 470.95h4.5M168.7 470.95h4.5M222.7 470.95h9M245.2 470.95h4.5M299.2 470.95h4.5M69.7 473.45h4.5M78.7 473.45h4.5M96.7 473.45h4.5M150.7 473.45h4.5M200.2 473.45h4.5M47.2 475.95h4.5M78.7 475.95h4.5M92.2 475.95h9M123.7 475.95h4.5M164.2 475.95h4.5M182.2 475.95h13.5M204.7 475.95h4.5M213.7 475.95h4.5M285.7 475.95h4.5M42.7 478.45h4.5M92.2 478.45h4.5M128.2 478.45h4.5M200.2 478.45h4.5M222.7 478.45h4.5M272.2 478.45h4.5M38.2 480.95h4.5M56.2 480.95h4.5M164.2 480.95h4.5M186.7 480.95h4.5M150.7 483.45h4.5M164.2 483.45h4.5M47.2 485.95h4.5M110.2 485.95h4.5M195.7 485.95h4.5M240.7 485.95h4.5M78.7 488.45h4.5M92.2 488.45h4.5M114.7 488.45h4.5M128.2 488.45h4.5M137.2 488.45h4.5M177.7 488.45h4.5M195.7 488.45h9M245.2 488.45h4.5M78.7 490.95h4.5M87.7 490.95h4.5M128.2 490.95h4.5M137.2 490.95h9M159.7 490.95h9M51.7 493.45h4.5M60.7 493.45h4.5M123.7 493.45h4.5M132.7 493.45h4.5M168.7 493.45h4.5M299.2 493.45h4.5M60.7 495.95h9M83.2 495.95h4.5M101.2 495.95h9M137.2 495.95h4.5M173.2 495.95h4.5M186.7 495.95h9M200.2 495.95h4.5M245.2 495.95h4.5M258.7 495.95h4.5M299.2 495.95h4.5M60.7 498.45h4.5M114.7 498.45h4.5M132.7 498.45h4.5M168.7 498.45h4.5M209.2 498.45h4.5M227.2 498.45h4.5M236.2 498.45h4.5M276.7 498.45h4.5M42.7 500.95h4.5M60.7 500.95h4.5M96.7 500.95h4.5M105.7 500.95h4.5M114.7 500.95h4.5M137.2 500.95h9M186.7 500.95h4.5M200.2 500.95h4.5M227.2 500.95h4.5M42.7 503.45h4.5M123.7 503.45h4.5M146.2 503.45h4.5M177.7 503.45h4.5M200.2 503.45h4.5M209.2 503.45h4.5M96.7 505.95h4.5M123.7 505.95h4.5M146.2 505.95h4.5M204.7 505.95h4.5M218.2 505.95h4.5M303.7 505.95h4.5M42.7 508.45h4.5M92.2 508.45h4.5M101.2 508.45h4.5M281.2 508.45h4.5M47.2 510.95h4.5M65.2 510.95h4.5M110.2 510.95h4.5M128.2 510.95h4.5M164.2 510.95h4.5M38.2 513.45h4.5M123.7 513.45h4.5M186.7 513.45h4.5M218.2 513.45h4.5"/>
<path stroke="#f8bda0" d="M92.2 365.95h4.5M245.2 370.95h4.5M303.7 373.45h4.5M290.2 375.95h4.5M114.7 378.45h4.5M164.2 378.45h4.5M204.7 378.45h4.5M65.2 380.95h4.5M74.2 380.95h4.5M177.7 380.95h4.5M65.2 383.45h4.5M114.7 385.95h4.5M168.7 385.95h4.5M191.2 385.95h4.5M92.2 388.45h4.5M195.7 388.45h4.5M218.2 388.45h4.5M276.7 388.45h4.5M213.7 390.95h4.5M69.7 393.45h4.5M65.2 395.95h4.5M92.2 395.95h4.5M137.2 395.95h4.5M186.7 395.95h4.5M218.2 395.95h4.5M272.2 395.95h4.5M195.7 398.45h4.5M245.2 398.45h4.5M164.2 400.95h4.5M186.7 400.95h4.5M213.7 400.95h9M186.7 403.45h4.5M195.7 403.45h13.5M92.2 405.95h4.5M204.7 405.95h4.5M213.7 405.95h9M186.7 408.45h4.5M218.2 408.45h4.5M164.2 410.95h4.5M240.7 410.95h4.5M110.2 413.45h4.5M38.2 415.95h4.5M47.2 415.95h4.5M69.7 415.95h9M92.2 418.45h4.5M78.7 423.45h4.5M92.2 423.45h4.5M150.7 423.45h4.5M204.7 423.45h4.5M141.7 428.45h9M137.2 433.45h9M92.2 438.45h4.5M96.7 440.95h4.5M222.7 440.95h4.5M74.2 443.45h4.5M92.2 443.45h4.5M195.7 443.45h4.5M83.2 445.95h4.5M132.7 448.45h4.5M137.2 450.95h4.5M132.7 453.45h4.5M258.7 455.95h4.5M137.2 458.45h4.5M218.2 458.45h4.5M186.7 460.95h4.5M56.2 463.45h4.5M65.2 463.45h4.5M141.7 463.45h4.5M231.7 463.45h4.5M119.2 468.45h4.5M146.2 468.45h4.5M231.7 473.45h4.5M263.2 473.45h4.5M128.2 475.95h4.5M173.2 475.95h9M231.7 475.95h4.5M155.2 478.45h4.5M236.2 478.45h4.5M263.2 478.45h4.5M303.7 478.45h4.5M272.2 483.45h4.5M281.2 483.45h4.5M299.2 483.45h4.5M231.7 485.95h4.5M249.7 485.95h9M141.7 488.45h4.5M119.2 490.95h4.5M177.7 490.95h4.5M303.7 490.95h4.5M101.2 493.45h4.5M249.7 493.45h4.5M285.7 493.45h4.5M146.2 500.95h4.5M137.2 505.95h4.5M65.2 508.45h4.5M177.7 508.45h4.5M105.7 510.95h4.5M236.2 510.95h4.5M65.2 513.45h4.5"/>
<path stroke="#aed3e6" d="M96.7 365.95h4.5M105.7 365.95h9M128.2 365.95h4.5M186.7 365.95h4.5M227.2 365.95h4.5M240.7 365.95h4.5M258.7 365.95h9M276.7 365.95h4.5M38.2 368.45h4.5M87.7 368.45h4.5M96.7 368.45h4.5M110.2 368.45h4.5M123.7 368.45h4.5M236.2 368.45h4.5M254.2 368.45h4.5M38.2 370.95h4.5M96.7 370.95h4.5M105.7 370.95h4.5M123.7 370.95h4.5M263.2 370.95h4.5M47.2 373.45h4.5M69.7 373.45h4.5M78.7 373.45h4.5M227.2 373.45h4.5M249.7 373.45h4.5M267.7 373.45h4.5M276.7 373.45h4.5M42.7 375.95h4.5M87.7 375.95h4.5M128.2 375.95h4.5M231.7 375.95h4.5M276.7 375.95h4.5M38.2 378.45h4.5M96.7 378.45h9M119.2 378.45h4.5M227.2 378.45h13.5M96.7 380.95h4.5M231.7 380.95h4.5M245.2 380.95h4.5M272.2 380.95h4.5M56.2 383.45h4.5M164.2 383.45h4.5M231.7 383.45h4.5M272.2 383.45h4.5M123.7 385.95h4.5M245.2 385.95h4.5M258.7 385.95h4.5M272.2 385.95h4.5M281.2 385.95h4.5M105.7 388.45h4.5M114.7 388.45h4.5M222.7 388.45h4.5M240.7 388.45h4.5M249.7 388.45h4.5M69.7 390.95h4.5M105.7 390.95h4.5M159.7 390.95h4.5M240.7 390.95h4.5M254.2 390.95h4.5M281.2 390.95h4.5M38.2 393.45h4.5M123.7 393.45h4.5M159.7 393.45h4.5M263.2 393.45h9M276.7 393.45h9M290.2 393.45h4.5M299.2 393.45h4.5M38.2 395.95h4.5M101.2 395.95h4.5M141.7 395.95h4.5M155.2 395.95h4.5M285.7 395.95h4.5M303.7 395.95h4.5M123.7 398.45h4.5M146.2 398.45h4.5M159.7 398.45h4.5M173.2 398.45h4.5M254.2 398.45h4.5M294.7 398.45h4.5M114.7 400.95h4.5M146.2 403.45h4.5M168.7 405.95h4.5M285.7 405.95h4.5M60.7 408.45h4.5M119.2 408.45h4.5M60.7 410.95h4.5M96.7 410.95h4.5M245.2 410.95h4.5M83.2 413.45h4.5M96.7 415.95h4.5M110.2 415.95h4.5M119.2 415.95h4.5M155.2 415.95h4.5M177.7 415.95h4.5M231.7 415.95h4.5M276.7 415.95h4.5M96.7 418.45h4.5M168.7 418.45h4.5M204.7 418.45h4.5M303.7 418.45h4.5M119.2 420.95h4.5M204.7 420.95h4.5M56.2 423.45h4.5M105.7 423.45h9M128.2 423.45h4.5M87.7 425.95h4.5M105.7 425.95h4.5M240.7 425.95h4.5M294.7 425.95h4.5M60.7 428.45h4.5M294.7 428.45h4.5M119.2 430.95h4.5M290.2 430.95h4.5M60.7 433.45h4.5M87.7 433.45h4.5M96.7 433.45h4.5M114.7 433.45h9M213.7 433.45h4.5M87.7 435.95h4.5M101.2 435.95h4.5M96.7 438.45h4.5M110.2 438.45h4.5M119.2 438.45h4.5M168.7 438.45h4.5M177.7 438.45h4.5M285.7 438.45h4.5M299.2 438.45h4.5M78.7 440.95h4.5M87.7 440.95h4.5M105.7 440.95h4.5M299.2 440.95h9M56.2 443.45h4.5M101.2 443.45h9M155.2 443.45h4.5M173.2 443.45h9M101.2 445.95h4.5M218.2 445.95h4.5M281.2 445.95h4.5M56.2 448.45h4.5M78.7 448.45h4.5M83.2 450.95h4.5M96.7 450.95h4.5M164.2 453.45h4.5M285.7 453.45h4.5M87.7 455.95h4.5M164.2 455.95h4.5M191.2 455.95h4.5M218.2 455.95h4.5M303.7 455.95h4.5M119.2 458.45h4.5M87.7 460.95h4.5M110.2 460.95h4.5M119.2 460.95h4.5M245.2 460.95h4.5M285.7 460.95h4.5M191.2 463.45h4.5M65.2 465.95h4.5M87.7 465.95h9M101.2 465.95h4.5M200.2 465.95h4.5M240.7 465.95h4.5M42.7 468.45h4.5M56.2 468.45h4.5M69.7 468.45h4.5M87.7 468.45h4.5M101.2 468.45h4.5M110.2 468.45h9M191.2 468.45h4.5M213.7 468.45h4.5M290.2 468.45h4.5M299.2 468.45h4.5M38.2 470.95h4.5M60.7 470.95h4.5M96.7 470.95h4.5M114.7 470.95h4.5M141.7 470.95h4.5M213.7 470.95h4.5M65.2 473.45h4.5M74.2 473.45h4.5M87.7 473.45h4.5M168.7 473.45h4.5M87.7 475.95h4.5M137.2 475.95h4.5M159.7 475.95h4.5M87.7 478.45h4.5M132.7 478.45h4.5M195.7 478.45h4.5M204.7 478.45h4.5M218.2 478.45h4.5M110.2 480.95h9M128.2 480.95h4.5M150.7 480.95h4.5M168.7 480.95h4.5M209.2 480.95h4.5M51.7 483.45h4.5M132.7 483.45h4.5M213.7 483.45h13.5M60.7 485.95h4.5M96.7 485.95h4.5M173.2 485.95h4.5M218.2 485.95h4.5M42.7 488.45h9M60.7 488.45h4.5M150.7 488.45h4.5M159.7 488.45h4.5M47.2 490.95h4.5M83.2 490.95h4.5M92.2 490.95h4.5M105.7 490.95h4.5M114.7 490.95h4.5M123.7 490.95h4.5M146.2 490.95h4.5M204.7 490.95h4.5M42.7 493.45h4.5M87.7 493.45h4.5M96.7 493.45h4.5M128.2 493.45h4.5M137.2 493.45h4.5M150.7 493.45h4.5M159.7 493.45h9M191.2 493.45h4.5M209.2 493.45h4.5M222.7 493.45h4.5M258.7 493.45h4.5M38.2 495.95h4.5M92.2 495.95h4.5M110.2 495.95h4.5M182.2 495.95h4.5M227.2 495.95h4.5M38.2 498.45h4.5M65.2 498.45h4.5M83.2 498.45h4.5M96.7 498.45h4.5M119.2 498.45h4.5M164.2 498.45h4.5M204.7 498.45h4.5M69.7 500.95h9M159.7 500.95h4.5M168.7 500.95h4.5M240.7 500.95h4.5M47.2 503.45h4.5M56.2 503.45h4.5M65.2 503.45h4.5M110.2 503.45h4.5M141.7 503.45h4.5M168.7 503.45h4.5M182.2 503.45h4.5M213.7 503.45h4.5M227.2 503.45h4.5M272.2 503.45h4.5M42.7 505.95h4.5M51.7 505.95h4.5M60.7 505.95h4.5M83.2 505.95h4.5M141.7 505.95h4.5M47.2 508.45h4.5M96.7 508.45h4.5M141.7 508.45h4.5M164.2 508.45h4.5M186.7 508.45h4.5M195.7 508.45h13.5M218.2 508.45h4.5M240.7 508.45h4.5M137.2 510.95h4.5M218.2 510.95h4.5M69.7 513.45h4.5M83.2 513.45h4.5M119.2 513.45h4.5M164.2 513.45h13.5M191.2 513.45h4.5M222.7 513.45h4.5"/>
<path stroke="#83bcd9" d="M132.7 365.95h4.5M254.2 365.95h4.5M272.2 368.45h4.5M69.7 370.95h4.5M69.7 375.95h4.5M173.2 375.95h4.5M69.7 378.45h4.5M177.7 378.45h4.5M258.7 378.45h4.5M69.7 380.95h4.5M110.2 380.95h4.5M141.7 380.95h4.5M249.7 380.95h9M78.7 383.45h4.5M132.7 383.45h4.5M141.7 383.45h4.5M150.7 383.45h4.5M236.2 383.45h4.5M96.7 385.95h4.5M231.7 385.95h9M56.2 388.45h4.5M245.2 388.45h4.5M96.7 390.95h4.5M146.2 390.95h4.5M87.7 393.45h4.5M258.7 393.45h4.5M231.7 395.95h4.5M245.2 395.95h4.5M101.2 398.45h4.5M231.7 398.45h4.5M249.7 398.45h4.5M96.7 400.95h4.5M105.7 400.95h4.5M132.7 400.95h4.5M236.2 400.95h4.5M276.7 400.95h4.5M132.7 403.45h4.5M249.7 403.45h4.5M276.7 403.45h4.5M267.7 405.95h4.5M276.7 405.95h4.5M87.7 408.45h4.5M128.2 408.45h4.5M87.7 410.95h4.5M146.2 410.95h9M303.7 410.95h4.5M231.7 413.45h4.5M87.7 415.95h4.5M240.7 415.95h4.5M254.2 415.95h4.5M87.7 418.45h4.5M231.7 418.45h4.5M272.2 418.45h4.5M128.2 420.95h9M173.2 423.45h4.5M236.2 423.45h4.5M281.2 423.45h13.5M173.2 425.95h9M236.2 425.95h4.5M245.2 425.95h4.5M258.7 425.95h13.5M96.7 428.45h4.5M119.2 428.45h4.5M240.7 428.45h4.5M285.7 428.45h4.5M60.7 430.95h4.5M96.7 430.95h4.5M231.7 430.95h4.5M281.2 430.95h4.5M47.2 433.45h4.5M177.7 433.45h4.5M236.2 433.45h4.5M258.7 433.45h4.5M281.2 433.45h4.5M294.7 433.45h4.5M96.7 435.95h4.5M177.7 435.95h4.5M276.7 435.95h4.5M290.2 435.95h4.5M258.7 438.45h4.5M267.7 438.45h4.5M294.7 438.45h4.5M101.2 440.95h4.5M263.2 440.95h4.5M276.7 440.95h4.5M290.2 440.95h4.5M42.7 443.45h4.5M290.2 443.45h4.5M78.7 445.95h4.5M191.2 445.95h4.5M267.7 445.95h4.5M303.7 445.95h4.5M168.7 448.45h4.5M299.2 448.45h4.5M56.2 450.95h4.5M173.2 450.95h4.5M182.2 450.95h4.5M227.2 450.95h9M254.2 450.95h4.5M267.7 450.95h4.5M56.2 453.45h4.5M182.2 453.45h4.5M231.7 453.45h4.5M281.2 453.45h4.5M303.7 453.45h4.5M182.2 455.95h4.5M267.7 455.95h4.5M56.2 458.45h4.5M155.2 458.45h4.5M177.7 458.45h4.5M186.7 458.45h4.5M227.2 458.45h4.5M240.7 458.45h4.5M254.2 458.45h4.5M47.2 460.95h4.5M56.2 460.95h4.5M69.7 460.95h4.5M231.7 460.95h4.5M249.7 460.95h4.5M263.2 460.95h4.5M272.2 460.95h4.5M294.7 460.95h9M96.7 463.45h4.5M128.2 463.45h4.5M146.2 463.45h4.5M159.7 463.45h4.5M141.7 465.95h4.5M173.2 465.95h4.5M182.2 465.95h4.5M51.7 468.45h4.5M92.2 468.45h4.5M137.2 468.45h4.5M200.2 468.45h9M222.7 468.45h4.5M101.2 470.95h4.5M132.7 470.95h4.5M150.7 470.95h4.5M177.7 470.95h4.5M191.2 470.95h4.5M42.7 475.95h4.5M65.2 475.95h4.5M200.2 480.95h4.5M38.2 483.45h4.5M209.2 483.45h4.5M38.2 485.95h9M182.2 485.95h4.5M222.7 488.45h4.5M168.7 490.95h4.5M218.2 490.95h4.5M182.2 493.45h4.5M213.7 493.45h4.5M240.7 493.45h4.5M123.7 495.95h4.5M209.2 495.95h4.5M222.7 495.95h4.5M69.7 498.45h4.5M182.2 498.45h4.5M92.2 500.95h4.5M209.2 500.95h4.5M191.2 503.45h4.5M204.7 503.45h4.5M114.7 505.95h4.5M209.2 505.95h4.5M159.7 508.45h4.5M182.2 508.45h4.5M87.7 510.95h4.5M101.2 510.95h4.5M186.7 510.95h4.5M222.7 510.95h4.5M92.2 513.45h4.5M195.7 513.45h4.5M209.2 513.45h4.5"/>
<path stroke="#529cc8" d="M150.7 365.95h4.5M150.7 378.45h4.5M119.2 380.95h4.5M137.2 380.95h4.5M119.2 383.45h4.5M119.2 385.95h4.5M78.7 388.45h4.5M137.2 388.45h4.5M137.2 393.45h4.5M105.7 395.95h4.5M119.2 395.95h4.5M128.2 395.95h4.5M128.2 398.45h4.5M227.2 398.45h4.5M263.2 398.45h9M119.2 400.95h4.5M173.2 400.95h9M240.7 400.95h4.5M249.7 400.95h4.5M155.2 403.45h4.5M173.2 403.45h4.5M245.2 403.45h4.5M254.2 403.45h4.5M281.2 403.45h4.5M177.7 405.95h4.5M177.7 408.45h4.5M240.7 408.45h18M263.2 408.45h4.5M173.2 410.95h4.5M263.2 410.95h4.5M276.7 410.95h9M155.2 413.45h4.5M227.2 413.45h4.5M245.2 413.45h4.5M263.2 413.45h4.5M236.2 415.95h4.5M267.7 415.95h4.5M263.2 418.45h4.5M227.2 420.95h4.5M236.2 420.95h4.5M254.2 420.95h4.5M272.2 420.95h9M177.7 423.45h4.5M263.2 423.45h4.5M231.7 425.95h4.5M281.2 425.95h4.5M56.2 428.45h4.5M236.2 428.45h4.5M155.2 430.95h4.5M258.7 430.95h4.5M303.7 430.95h4.5M56.2 433.45h4.5M155.2 433.45h4.5M227.2 435.95h4.5M267.7 435.95h4.5M285.7 435.95h4.5M227.2 438.45h4.5M263.2 438.45h4.5M272.2 438.45h4.5M240.7 440.95h4.5M249.7 440.95h4.5M267.7 443.45h4.5M276.7 443.45h13.5M47.2 445.95h4.5M155.2 445.95h4.5M245.2 445.95h4.5M254.2 445.95h4.5M227.2 448.45h4.5M245.2 448.45h4.5M155.2 450.95h4.5M177.7 450.95h4.5M236.2 450.95h4.5M155.2 453.45h4.5M177.7 455.95h4.5M236.2 455.95h4.5M245.2 455.95h4.5M258.7 458.45h4.5M240.7 460.95h4.5M267.7 460.95h4.5M195.7 475.95h4.5M218.2 480.95h4.5M182.2 483.45h4.5M209.2 485.95h4.5M222.7 485.95h4.5M204.7 488.45h4.5M218.2 488.45h4.5M195.7 490.95h4.5M200.2 493.45h4.5"/>
<path stroke="#fbe6d9" d="M155.2 365.95h4.5M267.7 365.95h4.5M299.2 365.95h4.5M56.2 368.45h4.5M74.2 368.45h4.5M92.2 368.45h4.5M150.7 368.45h4.5M51.7 370.95h4.5M92.2 370.95h4.5M128.2 370.95h4.5M155.2 370.95h4.5M276.7 370.95h4.5M83.2 373.45h4.5M92.2 373.45h4.5M101.2 373.45h4.5M285.7 373.45h4.5M60.7 375.95h4.5M83.2 375.95h4.5M164.2 375.95h4.5M218.2 375.95h4.5M249.7 375.95h4.5M209.2 378.45h4.5M267.7 378.45h4.5M42.7 380.95h4.5M83.2 380.95h4.5M114.7 380.95h4.5M83.2 383.45h4.5M92.2 383.45h4.5M74.2 385.95h9M173.2 385.95h4.5M87.7 388.45h4.5M213.7 388.45h4.5M42.7 390.95h4.5M87.7 390.95h4.5M101.2 390.95h4.5M173.2 390.95h4.5M195.7 390.95h4.5M51.7 393.45h9M65.2 393.45h4.5M101.2 393.45h4.5M254.2 393.45h4.5M47.2 395.95h4.5M177.7 395.95h4.5M47.2 398.45h4.5M47.2 400.95h4.5M83.2 400.95h4.5M195.7 400.95h4.5M303.7 400.95h4.5M74.2 403.45h4.5M110.2 403.45h4.5M182.2 403.45h4.5M191.2 403.45h4.5M74.2 405.95h9M105.7 405.95h4.5M182.2 405.95h4.5M299.2 405.95h4.5M83.2 408.45h4.5M213.7 408.45h4.5M42.7 410.95h4.5M83.2 410.95h4.5M92.2 410.95h4.5M191.2 410.95h4.5M218.2 410.95h4.5M60.7 413.45h4.5M191.2 413.45h4.5M204.7 413.45h4.5M218.2 413.45h4.5M182.2 418.45h4.5M218.2 418.45h4.5M47.2 420.95h4.5M141.7 420.95h4.5M191.2 420.95h4.5M218.2 420.95h4.5M209.2 423.45h4.5M74.2 425.95h4.5M128.2 425.95h4.5M182.2 425.95h4.5M191.2 425.95h4.5M213.7 425.95h4.5M38.2 428.45h9M123.7 428.45h4.5M42.7 430.95h4.5M114.7 430.95h4.5M74.2 433.45h4.5M209.2 433.45h4.5M218.2 433.45h4.5M51.7 435.95h4.5M92.2 435.95h4.5M155.2 435.95h4.5M213.7 435.95h4.5M123.7 438.45h4.5M137.2 438.45h4.5M191.2 438.45h4.5M168.7 440.95h4.5M60.7 443.45h4.5M83.2 443.45h4.5M186.7 445.95h4.5M101.2 448.45h4.5M123.7 448.45h4.5M42.7 450.95h4.5M168.7 450.95h4.5M191.2 450.95h4.5M200.2 453.45h4.5M74.2 455.95h4.5M51.7 458.45h4.5M69.7 458.45h4.5M182.2 458.45h4.5M47.2 463.45h4.5M258.7 463.45h9M303.7 463.45h4.5M51.7 465.95h9M74.2 465.95h4.5M137.2 465.95h4.5M146.2 465.95h4.5M209.2 465.95h4.5M173.2 468.45h4.5M258.7 468.45h4.5M285.7 468.45h4.5M240.7 470.95h4.5M249.7 470.95h4.5M159.7 473.45h4.5M141.7 475.95h4.5M272.2 475.95h4.5M123.7 478.45h4.5M47.2 480.95h4.5M263.2 480.95h4.5M65.2 483.45h4.5M263.2 483.45h4.5M276.7 483.45h4.5M236.2 485.95h4.5M38.2 488.45h4.5M249.7 488.45h4.5M51.7 490.95h4.5M96.7 490.95h4.5M47.2 495.95h4.5M155.2 495.95h4.5M74.2 498.45h4.5M150.7 498.45h4.5M101.2 500.95h4.5M119.2 500.95h4.5M128.2 500.95h4.5M245.2 500.95h4.5M254.2 503.45h4.5M299.2 505.95h4.5M173.2 508.45h4.5M213.7 508.45h4.5M92.2 510.95h4.5M96.7 513.45h4.5M200.2 513.45h4.5M276.7 513.45h4.5"/>
<path stroke="#67001f" d="M164.2 365.95h4.5M182.2 365.95h4.5M195.7 365.95h4.5M204.7 365.95h4.5M218.2 365.95h9M182.2 368.45h4.5M195.7 368.45h4.5M204.7 368.45h4.5M218.2 368.45h9M182.2 370.95h4.5M195.7 370.95h4.5M204.7 370.95h4.5M218.2 370.95h4.5M96.7 373.45h4.5M168.7 373.45h4.5M182.2 373.45h4.5M96.7 375.95h9M168.7 375.95h4.5M182.2 375.95h4.5M213.7 375.95h4.5M47.2 380.95h4.5M209.2 380.95h13.5M114.7 383.45h4.5M209.2 383.45h13.5M38.2 385.95h4.5M47.2 385.95h4.5M87.7 385.95h4.5M159.7 385.95h4.5M209.2 385.95h13.5M60.7 388.45h4.5M200.2 388.45h4.5M74.2 390.95h4.5M164.2 390.95h4.5M222.7 393.45h4.5M195.7 395.95h9M222.7 395.95h4.5M74.2 398.45h9M222.7 398.45h4.5M65.2 400.95h4.5M92.2 400.95h4.5M65.2 403.45h4.5M38.2 405.95h4.5M141.7 405.95h4.5M159.7 405.95h4.5M65.2 408.45h4.5M123.7 408.45h4.5M159.7 408.45h4.5M222.7 408.45h4.5M65.2 410.95h4.5M74.2 410.95h4.5M101.2 410.95h4.5M200.2 410.95h4.5M222.7 410.95h4.5M65.2 413.45h4.5M186.7 413.45h4.5M200.2 413.45h4.5M222.7 413.45h4.5M42.7 415.95h4.5M159.7 415.95h9M65.2 418.45h4.5M159.7 418.45h4.5M186.7 418.45h4.5M222.7 418.45h4.5M65.2 420.95h4.5M78.7 420.95h4.5M159.7 420.95h4.5M195.7 420.95h4.5M195.7 423.45h9M222.7 423.45h4.5M159.7 425.95h9M195.7 425.95h9M222.7 425.95h4.5M159.7 428.45h9M200.2 428.45h4.5M213.7 428.45h4.5M222.7 428.45h4.5M186.7 430.95h4.5M200.2 430.95h4.5M222.7 430.95h4.5M159.7 433.45h9M186.7 433.45h4.5M200.2 433.45h9M159.7 435.95h9M195.7 435.95h13.5M222.7 435.95h4.5M159.7 438.45h4.5M195.7 438.45h9M209.2 438.45h4.5M222.7 438.45h4.5M65.2 440.95h4.5M123.7 440.95h4.5M132.7 440.95h4.5M141.7 440.95h13.5M186.7 440.95h4.5M141.7 443.45h13.5M222.7 443.45h4.5M110.2 445.95h4.5M141.7 445.95h4.5M150.7 445.95h4.5M69.7 448.45h4.5M110.2 448.45h4.5M141.7 448.45h4.5M150.7 448.45h4.5M65.2 450.95h4.5M110.2 450.95h4.5M132.7 450.95h4.5M200.2 450.95h4.5M101.2 453.45h4.5M110.2 453.45h4.5M123.7 453.45h4.5M141.7 453.45h13.5M96.7 455.95h9M110.2 455.95h4.5M123.7 455.95h9M141.7 455.95h9M123.7 458.45h9M213.7 458.45h4.5M101.2 460.95h4.5M123.7 460.95h4.5M141.7 460.95h4.5M150.7 460.95h4.5M218.2 460.95h4.5M101.2 463.45h4.5M114.7 463.45h4.5M249.7 463.45h4.5M276.7 463.45h9M114.7 465.95h4.5M272.2 465.95h13.5M150.7 468.45h4.5M263.2 468.45h4.5M272.2 468.45h13.5M267.7 470.95h4.5M281.2 470.95h4.5M249.7 473.45h4.5M267.7 473.45h4.5M281.2 473.45h4.5M303.7 473.45h4.5M101.2 475.95h4.5M267.7 475.95h4.5M281.2 475.95h4.5M303.7 475.95h4.5M267.7 478.45h4.5M281.2 478.45h4.5M267.7 480.95h4.5M155.2 483.45h4.5M267.7 483.45h4.5M227.2 485.95h4.5M267.7 485.95h4.5M227.2 488.45h13.5M267.7 488.45h4.5M294.7 488.45h4.5M227.2 490.95h13.5M267.7 490.95h4.5M294.7 490.95h4.5M155.2 493.45h4.5M267.7 493.45h4.5M276.7 493.45h4.5M290.2 493.45h4.5M267.7 495.95h4.5M276.7 495.95h4.5M290.2 495.95h4.5M290.2 498.45h4.5M290.2 503.45h9M173.2 505.95h9M290.2 505.95h4.5M227.2 508.45h4.5M276.7 508.45h4.5M290.2 508.45h4.5M303.7 508.45h4.5M227.2 510.95h4.5M267.7 510.95h4.5M285.7 510.95h18M227.2 513.45h4.5M285.7 513.45h18"/>
<path stroke="#ebf1f5" d="M191.2 365.95h4.5M231.7 365.95h4.5M294.7 365.95h4.5M47.2 368.45h4.5M60.7 368.45h4.5M101.2 368.45h4.5M141.7 368.45h9M159.7 368.45h4.5M200.2 368.45h4.5M263.2 368.45h4.5M47.2 370.95h4.5M60.7 370.95h4.5M74.2 370.95h4.5M141.7 370.95h4.5M186.7 370.95h4.5M200.2 370.95h4.5M209.2 370.95h9M236.2 370.95h4.5M258.7 370.95h4.5M290.2 370.95h4.5M65.2 373.45h4.5M114.7 373.45h4.5M141.7 373.45h4.5M164.2 373.45h4.5M92.2 375.95h4.5M294.7 375.95h4.5M60.7 378.45h4.5M87.7 378.45h4.5M128.2 378.45h4.5M137.2 378.45h4.5M245.2 378.45h4.5M254.2 378.45h4.5M60.7 380.95h4.5M132.7 380.95h4.5M159.7 380.95h4.5M204.7 380.95h4.5M236.2 380.95h4.5M276.7 380.95h9M294.7 380.95h4.5M110.2 383.45h4.5M137.2 383.45h4.5M227.2 383.45h4.5M290.2 383.45h4.5M51.7 385.95h4.5M60.7 385.95h4.5M83.2 385.95h4.5M177.7 385.95h4.5M285.7 385.95h4.5M204.7 388.45h9M65.2 390.95h4.5M42.7 393.45h4.5M182.2 393.45h4.5M285.7 393.45h4.5M191.2 398.45h4.5M290.2 398.45h4.5M56.2 400.95h4.5M128.2 400.95h4.5M182.2 400.95h4.5M96.7 405.95h4.5M114.7 405.95h4.5M123.7 405.95h4.5M137.2 405.95h4.5M191.2 405.95h4.5M114.7 408.45h4.5M191.2 408.45h4.5M231.7 408.45h4.5M258.7 408.45h4.5M272.2 408.45h4.5M285.7 408.45h13.5M51.7 410.95h4.5M78.7 410.95h4.5M110.2 410.95h4.5M258.7 410.95h4.5M209.2 413.45h4.5M132.7 415.95h4.5M173.2 415.95h4.5M123.7 418.45h4.5M146.2 418.45h9M191.2 418.45h4.5M173.2 420.95h4.5M182.2 420.95h4.5M290.2 420.95h4.5M74.2 423.45h4.5M168.7 423.45h4.5M231.7 423.45h4.5M258.7 423.45h4.5M114.7 425.95h9M150.7 425.95h4.5M47.2 428.45h4.5M78.7 428.45h4.5M101.2 428.45h4.5M110.2 428.45h4.5M290.2 428.45h4.5M51.7 430.95h4.5M78.7 430.95h4.5M263.2 430.95h4.5M38.2 433.45h4.5M101.2 433.45h4.5M128.2 433.45h4.5M290.2 433.45h4.5M105.7 435.95h4.5M123.7 435.95h4.5M173.2 435.95h4.5M105.7 438.45h4.5M182.2 438.45h4.5M236.2 438.45h4.5M245.2 438.45h4.5M42.7 440.95h4.5M177.7 440.95h4.5M294.7 440.95h4.5M96.7 443.45h4.5M128.2 443.45h4.5M294.7 443.45h9M213.7 445.95h4.5M105.7 448.45h4.5M281.2 448.45h13.5M303.7 448.45h4.5M47.2 450.95h4.5M78.7 450.95h4.5M128.2 450.95h4.5M186.7 450.95h4.5M245.2 450.95h4.5M303.7 450.95h4.5M213.7 453.45h4.5M60.7 455.95h4.5M69.7 455.95h4.5M195.7 455.95h4.5M74.2 460.95h4.5M38.2 463.45h4.5M60.7 463.45h4.5M92.2 463.45h4.5M164.2 463.45h4.5M227.2 463.45h4.5M285.7 463.45h4.5M263.2 465.95h4.5M285.7 465.95h13.5M65.2 468.45h4.5M227.2 468.45h4.5M236.2 468.45h4.5M42.7 470.95h4.5M137.2 470.95h4.5M236.2 470.95h4.5M254.2 470.95h4.5M294.7 470.95h4.5M42.7 473.45h4.5M51.7 473.45h4.5M92.2 473.45h4.5M105.7 473.45h4.5M164.2 473.45h4.5M38.2 475.95h4.5M51.7 475.95h4.5M132.7 475.95h4.5M168.7 475.95h4.5M245.2 475.95h4.5M290.2 475.95h4.5M51.7 478.45h4.5M119.2 478.45h4.5M258.7 478.45h4.5M299.2 478.45h4.5M51.7 480.95h4.5M83.2 480.95h9M285.7 480.95h4.5M294.7 480.95h4.5M92.2 483.45h4.5M141.7 483.45h9M159.7 483.45h4.5M294.7 483.45h4.5M83.2 485.95h4.5M132.7 485.95h4.5M159.7 485.95h4.5M51.7 488.45h4.5M258.7 488.45h4.5M38.2 490.95h4.5M56.2 490.95h9M200.2 490.95h4.5M186.7 493.45h4.5M254.2 493.45h4.5M141.7 495.95h4.5M150.7 495.95h4.5M164.2 495.95h9M204.7 495.95h4.5M218.2 495.95h4.5M240.7 495.95h4.5M285.7 495.95h4.5M110.2 498.45h4.5M191.2 498.45h4.5M213.7 498.45h4.5M245.2 498.45h4.5M236.2 500.95h4.5M258.7 500.95h9M276.7 500.95h4.5M303.7 500.95h4.5M60.7 503.45h4.5M101.2 503.45h4.5M155.2 503.45h4.5M173.2 503.45h4.5M218.2 503.45h4.5M249.7 503.45h4.5M258.7 503.45h4.5M281.2 503.45h4.5M101.2 505.95h4.5M119.2 505.95h4.5M128.2 505.95h4.5M182.2 505.95h4.5M236.2 505.95h4.5M254.2 505.95h4.5M267.7 505.95h9M294.7 505.95h4.5M114.7 508.45h4.5M132.7 508.45h9M222.7 508.45h4.5M60.7 510.95h4.5M150.7 510.95h4.5M173.2 510.95h4.5M191.2 510.95h9M204.7 510.95h9M240.7 510.95h4.5M276.7 510.95h4.5M182.2 513.45h4.5M240.7 513.45h9M254.2 513.45h4.5"/>
<path stroke="#9ac9e0" d="M236.2 365.95h4.5M249.7 365.95h4.5M227.2 368.45h4.5M137.2 370.95h4.5M56.2 373.45h4.5M87.7 373.45h4.5M119.2 373.45h4.5M209.2 373.45h4.5M240.7 373.45h4.5M56.2 375.95h4.5M78.7 375.95h4.5M132.7 375.95h4.5M177.7 375.95h4.5M227.2 375.95h4.5M78.7 378.45h4.5M146.2 378.45h4.5M38.2 380.95h4.5M78.7 380.95h4.5M146.2 380.95h4.5M276.7 383.45h9M204.7 385.95h4.5M249.7 385.95h4.5M267.7 385.95h4.5M96.7 388.45h4.5M132.7 388.45h4.5M146.2 388.45h9M227.2 388.45h4.5M258.7 388.45h4.5M56.2 390.95h4.5M150.7 390.95h4.5M227.2 390.95h4.5M150.7 393.45h4.5M87.7 395.95h4.5M132.7 395.95h4.5M159.7 395.95h4.5M254.2 395.95h4.5M290.2 395.95h4.5M137.2 398.45h4.5M236.2 398.45h4.5M281.2 398.45h4.5M290.2 400.95h9M83.2 403.45h4.5M101.2 403.45h4.5M128.2 403.45h4.5M231.7 403.45h4.5M285.7 403.45h9M245.2 405.95h4.5M290.2 405.95h4.5M303.7 405.95h4.5M132.7 408.45h4.5M119.2 410.95h4.5M137.2 410.95h4.5M119.2 413.45h4.5M249.7 413.45h4.5M281.2 413.45h4.5M56.2 415.95h4.5M128.2 415.95h4.5M258.7 415.95h9M299.2 415.95h4.5M236.2 418.45h4.5M267.7 418.45h4.5M276.7 418.45h4.5M299.2 418.45h4.5M87.7 420.95h4.5M245.2 420.95h9M267.7 420.95h4.5M281.2 420.95h9M303.7 420.95h4.5M87.7 423.45h4.5M240.7 423.45h4.5M267.7 423.45h4.5M285.7 425.95h4.5M87.7 428.45h4.5M173.2 428.45h4.5M258.7 428.45h4.5M285.7 430.95h4.5M245.2 433.45h4.5M263.2 433.45h9M285.7 433.45h4.5M47.2 435.95h4.5M299.2 435.95h4.5M47.2 438.45h4.5M303.7 438.45h4.5M56.2 440.95h4.5M137.2 440.95h4.5M155.2 440.95h4.5M213.7 440.95h4.5M231.7 440.95h4.5M281.2 440.95h4.5M38.2 443.45h4.5M182.2 443.45h4.5M272.2 443.45h4.5M56.2 445.95h4.5M258.7 445.95h9M119.2 448.45h4.5M231.7 448.45h9M294.7 448.45h4.5M87.7 450.95h4.5M276.7 450.95h4.5M173.2 453.45h4.5M227.2 453.45h4.5M263.2 453.45h4.5M290.2 453.45h9M200.2 455.95h4.5M240.7 455.95h4.5M290.2 455.95h4.5M87.7 458.45h4.5M195.7 458.45h4.5M245.2 458.45h4.5M263.2 458.45h9M303.7 458.45h4.5M195.7 460.95h4.5M204.7 460.95h4.5M227.2 460.95h4.5M276.7 460.95h4.5M78.7 463.45h4.5M87.7 463.45h4.5M123.7 463.45h4.5M123.7 465.95h4.5M195.7 465.95h4.5M213.7 465.95h4.5M222.7 465.95h4.5M195.7 468.45h4.5M218.2 468.45h4.5M186.7 470.95h4.5M186.7 473.45h4.5M200.2 475.95h4.5M218.2 475.95h9M186.7 478.45h9M209.2 478.45h4.5M191.2 480.95h4.5M204.7 480.95h4.5M42.7 483.45h9M69.7 483.45h4.5M200.2 483.45h4.5M51.7 485.95h4.5M168.7 485.95h4.5M204.7 485.95h4.5M182.2 488.45h4.5M240.7 488.45h4.5M42.7 490.95h4.5M150.7 490.95h4.5M182.2 490.95h4.5M222.7 490.95h4.5M240.7 490.95h4.5M96.7 495.95h4.5M195.7 495.95h4.5M123.7 498.45h4.5M173.2 500.95h4.5M213.7 500.95h4.5M87.7 503.45h4.5M186.7 503.45h4.5M236.2 503.45h4.5M195.7 505.95h4.5M231.7 505.95h4.5M74.2 508.45h4.5M123.7 508.45h4.5M267.7 508.45h4.5M168.7 510.95h4.5M213.7 510.95h4.5"/>
<path stroke="#6aacd0" d="M137.2 368.45h4.5M42.7 373.45h4.5M173.2 373.45h9M119.2 375.95h4.5M281.2 378.45h4.5M128.2 380.95h4.5M227.2 380.95h4.5M263.2 380.95h4.5M69.7 383.45h4.5M258.7 383.45h4.5M56.2 385.95h4.5M272.2 388.45h4.5M245.2 390.95h4.5M272.2 390.95h4.5M209.2 393.45h4.5M209.2 395.95h4.5M258.7 395.95h4.5M267.7 395.95h4.5M294.7 395.95h4.5M87.7 398.45h4.5M258.7 398.45h4.5M87.7 400.95h4.5M101.2 400.95h4.5M227.2 400.95h9M272.2 400.95h4.5M285.7 400.95h4.5M96.7 403.45h4.5M105.7 403.45h4.5M227.2 403.45h4.5M240.7 403.45h4.5M263.2 403.45h4.5M60.7 405.95h4.5M83.2 405.95h9M249.7 405.95h4.5M272.2 405.95h4.5M267.7 408.45h4.5M281.2 408.45h4.5M299.2 408.45h4.5M236.2 410.95h4.5M267.7 410.95h4.5M285.7 410.95h4.5M254.2 413.45h9M303.7 413.45h4.5M249.7 415.95h4.5M272.2 415.95h4.5M56.2 418.45h4.5M240.7 418.45h9M258.7 418.45h4.5M281.2 418.45h9M56.2 420.95h4.5M258.7 420.95h9M249.7 423.45h4.5M276.7 423.45h4.5M294.7 423.45h4.5M272.2 425.95h4.5M303.7 425.95h4.5M132.7 428.45h4.5M276.7 428.45h4.5M303.7 428.45h4.5M87.7 430.95h4.5M173.2 430.95h9M236.2 430.95h4.5M276.7 430.95h4.5M173.2 433.45h4.5M231.7 433.45h4.5M249.7 433.45h9M303.7 433.45h4.5M119.2 435.95h4.5M240.7 435.95h4.5M249.7 435.95h9M272.2 435.95h4.5M56.2 438.45h4.5M87.7 438.45h4.5M281.2 438.45h4.5M290.2 438.45h4.5M254.2 440.95h9M231.7 443.45h4.5M303.7 443.45h4.5M87.7 445.95h4.5M227.2 445.95h9M272.2 445.95h9M51.7 448.45h4.5M173.2 448.45h4.5M263.2 448.45h4.5M276.7 448.45h4.5M263.2 450.95h4.5M272.2 450.95h4.5M285.7 450.95h4.5M236.2 453.45h9M254.2 453.45h4.5M267.7 453.45h13.5M299.2 453.45h4.5M56.2 455.95h4.5M173.2 455.95h4.5M272.2 455.95h18M294.7 455.95h4.5M272.2 458.45h4.5M78.7 460.95h4.5M303.7 460.95h4.5M155.2 463.45h4.5M218.2 465.95h4.5M83.2 468.45h4.5M195.7 470.95h4.5M38.2 473.45h4.5M218.2 473.45h4.5M213.7 478.45h4.5M186.7 483.45h4.5M195.7 483.45h4.5M69.7 485.95h4.5M164.2 488.45h4.5M213.7 488.45h4.5M186.7 490.95h4.5M74.2 495.95h4.5M42.7 498.45h4.5M222.7 498.45h4.5M65.2 500.95h4.5M191.2 505.95h4.5M200.2 510.95h4.5"/>
<path stroke="#bb2a34" d="M164.2 368.45h4.5M200.2 378.45h4.5M191.2 380.95h4.5M240.7 380.95h4.5M186.7 383.45h4.5M38.2 388.45h4.5M69.7 388.45h4.5M74.2 393.45h4.5M69.7 400.95h4.5M110.2 400.95h4.5M141.7 400.95h4.5M150.7 400.95h4.5M159.7 403.45h4.5M69.7 405.95h4.5M101.2 405.95h4.5M101.2 408.45h4.5M200.2 415.95h4.5M42.7 418.45h4.5M195.7 418.45h4.5M42.7 420.95h4.5M92.2 420.95h4.5M186.7 420.95h4.5M186.7 423.45h4.5M204.7 428.45h4.5M195.7 433.45h4.5M299.2 433.45h4.5M69.7 435.95h4.5M150.7 450.95h4.5M105.7 460.95h4.5M249.7 475.95h4.5M294.7 478.45h4.5M177.7 480.95h4.5M276.7 480.95h4.5M236.2 483.45h4.5M299.2 485.95h4.5M299.2 488.45h4.5M281.2 490.95h4.5M303.7 493.45h4.5M263.2 495.95h4.5M276.7 505.95h4.5"/>
<path stroke="#960f26" d="M222.7 370.95h4.5M47.2 378.45h4.5M182.2 378.45h4.5M191.2 378.45h4.5M213.7 378.45h9M47.2 383.45h4.5M182.2 383.45h4.5M191.2 383.45h4.5M182.2 388.45h4.5M191.2 388.45h4.5M47.2 390.95h4.5M74.2 395.95h4.5M51.7 398.45h4.5M65.2 398.45h4.5M150.7 403.45h4.5M195.7 405.95h4.5M164.2 408.45h4.5M78.7 418.45h4.5M164.2 418.45h4.5M92.2 425.95h4.5M69.7 430.95h4.5M164.2 430.95h4.5M204.7 430.95h4.5M69.7 433.45h4.5M159.7 440.95h4.5M195.7 440.95h4.5M132.7 443.45h4.5M132.7 445.95h4.5M222.7 445.95h4.5M258.7 450.95h4.5M146.2 458.45h4.5M249.7 465.95h4.5M101.2 473.45h4.5M155.2 473.45h4.5M173.2 478.45h4.5M276.7 478.45h4.5M227.2 480.95h4.5M281.2 480.95h4.5M173.2 483.45h4.5M227.2 483.45h4.5M281.2 495.95h4.5M303.7 503.45h4.5M267.7 513.45h4.5M303.7 513.45h4.5"/>
<path stroke="#e58268" d="M105.7 373.45h4.5M195.7 373.45h4.5M155.2 375.95h4.5M155.2 378.45h4.5M195.7 380.95h4.5M182.2 385.95h4.5M200.2 385.95h4.5M51.7 388.45h4.5M164.2 388.45h4.5M51.7 390.95h4.5M186.7 390.95h4.5M186.7 393.45h4.5M204.7 393.45h4.5M83.2 395.95h4.5M204.7 395.95h4.5M123.7 400.95h4.5M92.2 403.45h4.5M123.7 403.45h4.5M164.2 403.45h4.5M159.7 410.95h4.5M240.7 413.45h4.5M222.7 415.95h4.5M290.2 415.95h4.5M290.2 418.45h4.5M69.7 425.95h4.5M146.2 425.95h4.5M92.2 428.45h4.5M141.7 430.95h4.5M65.2 433.45h4.5M150.7 433.45h4.5M150.7 435.95h4.5M186.7 435.95h4.5M65.2 438.45h4.5M146.2 438.45h9M69.7 443.45h4.5M213.7 443.45h4.5M69.7 445.95h4.5M38.2 448.45h9M87.7 448.45h4.5M146.2 448.45h4.5M222.7 448.45h4.5M38.2 450.95h4.5M74.2 450.95h4.5M159.7 450.95h4.5M258.7 453.45h4.5M132.7 455.95h4.5M231.7 465.95h4.5M128.2 473.45h4.5M105.7 475.95h4.5M155.2 475.95h4.5M56.2 478.45h4.5M177.7 478.45h4.5M204.7 483.45h4.5M56.2 485.95h4.5M155.2 485.95h4.5M101.2 490.95h4.5M155.2 490.95h4.5M173.2 490.95h4.5M285.7 490.95h4.5M299.2 490.95h4.5M249.7 495.95h4.5M78.7 508.45h4.5M56.2 510.95h4.5M155.2 510.95h4.5M231.7 510.95h4.5"/>
<path stroke="#f5ac8b" d="M155.2 373.45h4.5M213.7 373.45h4.5M222.7 373.45h4.5M110.2 375.95h4.5M146.2 375.95h4.5M123.7 378.45h4.5M299.2 378.45h4.5M155.2 380.95h4.5M200.2 380.95h4.5M240.7 383.45h4.5M290.2 385.95h4.5M83.2 388.45h4.5M168.7 388.45h4.5M60.7 390.95h4.5M299.2 390.95h4.5M105.7 393.45h4.5M114.7 393.45h4.5M123.7 395.95h4.5M114.7 398.45h4.5M204.7 398.45h4.5M42.7 400.95h4.5M204.7 400.95h4.5M222.7 403.45h4.5M42.7 405.95h4.5M42.7 408.45h4.5M195.7 408.45h4.5M38.2 413.45h9M123.7 413.45h4.5M92.2 415.95h4.5M132.7 418.45h4.5M150.7 420.95h4.5M141.7 425.95h4.5M218.2 428.45h4.5M146.2 430.95h4.5M51.7 433.45h4.5M146.2 433.45h4.5M65.2 435.95h4.5M141.7 435.95h4.5M141.7 438.45h4.5M164.2 438.45h4.5M60.7 440.95h4.5M272.2 440.95h4.5M65.2 443.45h4.5M38.2 445.95h4.5M51.7 445.95h4.5M74.2 445.95h4.5M92.2 445.95h4.5M159.7 445.95h4.5M92.2 448.45h4.5M222.7 450.95h4.5M137.2 453.45h4.5M159.7 453.45h4.5M218.2 453.45h4.5M47.2 455.95h9M83.2 455.95h4.5M150.7 455.95h4.5M204.7 455.95h4.5M65.2 458.45h4.5M132.7 458.45h4.5M96.7 460.95h4.5M132.7 460.95h4.5M155.2 460.95h4.5M213.7 460.95h4.5M51.7 463.45h4.5M137.2 463.45h4.5M168.7 463.45h4.5M209.2 463.45h4.5M294.7 463.45h4.5M267.7 468.45h4.5M83.2 470.95h4.5M272.2 470.95h4.5M285.7 470.95h4.5M83.2 473.45h4.5M177.7 473.45h4.5M236.2 473.45h4.5M56.2 475.95h4.5M236.2 475.95h4.5M263.2 475.95h4.5M105.7 478.45h4.5M227.2 478.45h4.5M249.7 480.95h9M299.2 480.95h9M56.2 488.45h4.5M119.2 488.45h4.5M155.2 488.45h4.5M173.2 488.45h4.5M254.2 490.95h4.5M119.2 493.45h4.5M173.2 493.45h4.5M294.7 493.45h4.5M119.2 495.95h4.5M83.2 503.45h4.5M105.7 503.45h4.5M87.7 505.95h4.5M222.7 505.95h4.5M38.2 508.45h4.5M51.7 508.45h9M47.2 513.45h4.5M78.7 513.45h4.5M231.7 513.45h4.5"/>
<path stroke="#ad172a" d="M186.7 373.45h4.5M186.7 375.95h4.5M168.7 378.45h4.5M186.7 378.45h4.5M182.2 380.95h9M38.2 390.95h4.5M114.7 395.95h4.5M78.7 400.95h4.5M258.7 400.95h4.5M69.7 403.45h4.5M141.7 403.45h4.5M65.2 405.95h4.5M164.2 405.95h4.5M92.2 413.45h4.5M164.2 413.45h4.5M65.2 415.95h4.5M78.7 415.95h4.5M186.7 415.95h4.5M195.7 415.95h4.5M200.2 418.45h4.5M38.2 420.95h4.5M200.2 420.95h4.5M222.7 420.95h4.5M38.2 423.45h9M159.7 423.45h9M65.2 425.95h4.5M204.7 425.95h4.5M195.7 428.45h4.5M69.7 438.45h4.5M213.7 438.45h4.5M200.2 443.45h4.5M200.2 445.95h4.5M65.2 448.45h4.5M141.7 450.95h4.5M213.7 450.95h4.5M96.7 458.45h4.5M110.2 458.45h4.5M141.7 458.45h4.5M204.7 458.45h9M146.2 460.95h4.5M177.7 460.95h4.5M105.7 463.45h4.5M254.2 463.45h4.5M272.2 463.45h4.5M276.7 473.45h4.5M276.7 475.95h4.5M249.7 478.45h4.5M281.2 488.45h4.5M177.7 493.45h4.5M281.2 493.45h4.5M303.7 495.95h4.5M303.7 498.45h4.5M290.2 500.95h4.5M285.7 508.45h4.5"/>
<path stroke="#dc6d57" d="M105.7 375.95h4.5M168.7 380.95h4.5M42.7 388.45h4.5M78.7 390.95h4.5M164.2 395.95h4.5M38.2 400.95h4.5M38.2 403.45h4.5M200.2 408.45h4.5M195.7 413.45h4.5M299.2 413.45h4.5M51.7 415.95h4.5M51.7 420.95h4.5M38.2 425.95h4.5M74.2 428.45h4.5M92.2 430.95h4.5M159.7 430.95h4.5M74.2 440.95h4.5M204.7 443.45h4.5M204.7 445.95h4.5M249.7 483.45h4.5M263.2 493.45h4.5M267.7 498.45h4.5M281.2 510.95h4.5"/>
<path stroke="#ee9878" d="M195.7 375.95h4.5M222.7 375.95h4.5M299.2 375.95h4.5M195.7 383.45h9M164.2 385.95h4.5M83.2 390.95h4.5M83.2 393.45h4.5M146.2 393.45h4.5M78.7 395.95h4.5M83.2 398.45h4.5M177.7 398.45h4.5M186.7 398.45h4.5M222.7 400.95h4.5M186.7 405.95h4.5M38.2 408.45h4.5M69.7 413.45h4.5M38.2 418.45h4.5M114.7 420.95h4.5M69.7 423.45h4.5M150.7 428.45h4.5M150.7 430.95h4.5M222.7 433.45h4.5M110.2 435.95h4.5M146.2 435.95h4.5M186.7 438.45h4.5M159.7 443.45h4.5M65.2 445.95h4.5M195.7 445.95h4.5M294.7 445.95h4.5M195.7 448.45h4.5M92.2 450.95h4.5M38.2 453.45h4.5M65.2 453.45h4.5M222.7 453.45h4.5M137.2 455.95h4.5M159.7 455.95h4.5M137.2 460.95h4.5M173.2 470.95h4.5M173.2 473.45h4.5M38.2 478.45h4.5M155.2 480.95h4.5M258.7 480.95h4.5M263.2 488.45h4.5M285.7 488.45h4.5M303.7 488.45h4.5M276.7 490.95h4.5M249.7 498.45h4.5M195.7 503.45h4.5M258.7 505.95h4.5M285.7 505.95h4.5M69.7 508.45h4.5M128.2 508.45h4.5M231.7 508.45h9M38.2 510.95h4.5M51.7 510.95h4.5M258.7 510.95h4.5M236.2 513.45h4.5"/>
<path stroke="#c6403e" d="M87.7 380.95h4.5M195.7 385.95h4.5M132.7 393.45h4.5M51.7 403.45h4.5M65.2 423.45h4.5M65.2 430.95h4.5M146.2 445.95h4.5M146.2 450.95h4.5"/>
<path stroke="#d25749" d="M173.2 380.95h4.5M65.2 385.95h4.5M101.2 385.95h4.5M51.7 395.95h4.5M42.7 398.45h4.5M164.2 398.45h4.5M51.7 400.95h4.5M74.2 400.95h4.5M159.7 400.95h4.5M200.2 405.95h4.5M132.7 410.95h4.5M141.7 410.95h4.5M195.7 410.95h4.5M51.7 418.45h4.5M69.7 418.45h4.5M51.7 423.45h4.5M65.2 428.45h4.5M69.7 450.95h4.5M101.2 458.45h4.5M276.7 470.95h4.5M254.2 475.95h4.5M231.7 478.45h4.5M254.2 478.45h4.5M303.7 483.45h4.5M303.7 485.95h4.5M276.7 488.45h4.5M263.2 490.95h4.5M294.7 500.95h4.5M281.2 513.45h4.5"/>
<path stroke="#347fb9" d="M101.2 388.45h4.5M227.2 395.95h4.5M276.7 395.95h9M267.7 400.95h4.5M173.2 405.95h4.5M236.2 405.95h9M155.2 408.45h4.5M276.7 408.45h4.5M177.7 410.95h4.5M272.2 410.95h4.5M173.2 413.45h4.5M267.7 413.45h4.5M281.2 415.95h4.5M254.2 423.45h4.5M249.7 425.95h9M254.2 428.45h4.5M267.7 428.45h4.5M227.2 430.95h4.5M254.2 430.95h4.5M240.7 433.45h4.5M236.2 435.95h4.5M245.2 435.95h4.5M254.2 438.45h4.5M227.2 440.95h4.5M245.2 440.95h4.5M254.2 443.45h4.5M240.7 445.95h4.5M249.7 445.95h4.5M249.7 448.45h4.5M258.7 448.45h4.5M267.7 448.45h9M281.2 450.95h4.5M177.7 453.45h4.5M245.2 453.45h9M227.2 455.95h4.5M249.7 455.95h4.5M236.2 460.95h4.5M281.2 460.95h4.5"/>
<path stroke="#3f8dc0" d="M110.2 388.45h4.5M236.2 395.95h4.5M249.7 395.95h4.5M119.2 398.45h4.5M263.2 400.95h4.5M119.2 403.45h4.5M177.7 403.45h4.5M267.7 403.45h9M56.2 405.95h4.5M119.2 405.95h4.5M155.2 405.95h4.5M227.2 405.95h9M281.2 405.95h4.5M56.2 408.45h4.5M173.2 408.45h4.5M227.2 408.45h4.5M155.2 410.95h4.5M227.2 410.95h4.5M249.7 410.95h4.5M245.2 415.95h4.5M249.7 418.45h4.5M96.7 420.95h4.5M155.2 420.95h4.5M177.7 420.95h4.5M96.7 423.45h4.5M155.2 423.45h4.5M245.2 423.45h4.5M272.2 423.45h4.5M96.7 425.95h4.5M155.2 425.95h4.5M155.2 428.45h4.5M231.7 428.45h4.5M249.7 428.45h4.5M281.2 428.45h4.5M56.2 430.95h4.5M245.2 430.95h9M227.2 433.45h4.5M56.2 435.95h4.5M276.7 438.45h4.5M267.7 440.95h4.5M236.2 443.45h4.5M245.2 443.45h9M236.2 445.95h4.5M155.2 448.45h4.5M177.7 448.45h4.5M240.7 450.95h4.5M249.7 450.95h4.5M155.2 455.95h4.5M231.7 455.95h4.5M254.2 455.95h4.5M231.7 458.45h4.5M281.2 458.45h4.5M254.2 460.95h4.5"/>
<path stroke="#7e0823" d="M222.7 390.95h4.5M92.2 398.45h4.5M42.7 403.45h4.5M222.7 405.95h4.5M195.7 430.95h4.5M204.7 438.45h4.5M263.2 470.95h4.5M303.7 470.95h4.5M303.7 510.95h4.5"/>
<path stroke="#2a71b2" d="M69.7 478.45h4.5M164.2 478.45h4.5M290.2 478.45h4.5"/>
</g>
<rect x="38.2" y="364.7" width="270" height="150" fill="none" stroke="#555" stroke-width="0.5"/>
<path d="M37.4 368.45H26.02V370.95H37.4M37.4 365.95H24.02V369.7H26.02M37.4 373.45H26.21V375.95H37.4M24.02 367.82H14.34V374.7H26.21M37.4 378.45H30.58V380.95H37.4M37.4 383.45H24.46V385.95H37.4M37.4 388.45H24.43V390.95H37.4M37.4 393.45H28.89V395.95H37.4M28.89 394.7H24.42V398.45H37.4M37.4 400.95H26.09V403.45H37.4M37.4 405.95H29.23V408.45H37.4M37.4 410.95H29.23V413.45H37.4M29.23 407.2H27.23V412.2H29.23M26.09 402.2H24.09V409.7H27.23M24.42 396.57H21.72V405.95H24.09M24.43 389.7H18.93V401.26H21.72M37.4 418.45H27.83V420.95H37.4M37.4 415.95H25.83V419.7H27.83M37.4 423.45H31.99V425.95H37.4M31.99 424.7H29.99V428.45H37.4M25.83 417.82H22.72V426.57H29.99M37.4 430.95H28.39V433.45H37.4M28.39 432.2H25.87V435.95H37.4M37.4 438.45H33.21V440.95H37.4M33.21 439.7H31.21V443.45H37.4M37.4 445.95H31.21V448.45H37.4M31.21 441.57H29.21V447.2H31.21M37.4 450.95H30.54V453.45H37.4M29.21 444.39H26.09V452.2H30.54M25.87 434.07H23.87V448.29H26.09M22.72 422.2H20.76V441.18H23.87M37.4 455.95H24.52V458.45H37.4M37.4 460.95H27.94V463.45H37.4M24.52 457.2H21.1V462.2H27.94M20.76 431.69H18.29V459.7H21.1M18.93 395.48H16.41V445.7H18.29M24.46 384.7H14.73V420.59H16.41M30.58 379.7H13.3V402.64H14.73M14.34 371.26H11.7V391.17H13.3M11.7 403.8H7.2M11.7 371.7V452M37.4 470.95H27.64V473.45H37.4M37.4 468.45H25.64V472.2H27.64M37.4 465.95H23.04V470.32H25.64M37.4 478.45H27.79V480.95H37.4M37.4 483.45H30.95V485.95H37.4M27.79 479.7H25.79V484.7H30.95M37.4 475.95H22.91V482.2H25.79M23.04 468.14H19.84V479.07H22.91M37.4 488.45H31.14V490.95H37.4M19.84 473.61H17.31V489.7H31.14M37.4 495.95H30.55V498.45H37.4M37.4 500.95H28.42V503.45H37.4M30.55 497.2H18.99V502.2H28.42M37.4 493.45H17.35V499.7H18.99M17.31 481.65H15.35V496.57H17.35M37.4 505.95H30.27V508.45H37.4M37.4 510.95H24.58V513.45H37.4M30.27 507.2H15.22V512.2H24.58M15.35 489.11H12.3V509.7H15.22M12.3 488.7H7.4" stroke="#787878" stroke-width="0.45" fill="none"/>
<defs><linearGradient id="zs" x1="0" x2="1" y1="0" y2="0"><stop offset="0.00" stop-color="#053061"/><stop offset="0.10" stop-color="#2166ac"/><stop offset="0.20" stop-color="#4393c3"/><stop offset="0.30" stop-color="#92c5de"/><stop offset="0.40" stop-color="#d1e5f0"/><stop offset="0.50" stop-color="#f7f7f7"/><stop offset="0.60" stop-color="#fddbc7"/><stop offset="0.70" stop-color="#f4a582"/><stop offset="0.80" stop-color="#d6604d"/><stop offset="0.90" stop-color="#b2182b"/><stop offset="1.00" stop-color="#67001f"/></linearGradient></defs>
<rect x="215.2" y="519.2" width="92.3" height="9.4" fill="url(#zs)"/>
<text x="264" y="527" font-size="8.3" text-anchor="middle" fill="#111">z-score</text>
<text x="216" y="537.5" font-size="8.6" text-anchor="middle" fill="#111">-2</text>
<text x="238.7" y="537.5" font-size="8.6" text-anchor="middle" fill="#111">-1</text>
<text x="261.1" y="537.5" font-size="8.6" text-anchor="middle" fill="#111">0</text>
<text x="284.1" y="537.5" font-size="8.6" text-anchor="middle" fill="#111">1</text>
<text x="307.3" y="537.5" font-size="8.6" text-anchor="middle" fill="#111">2</text>
<text x="326.1" y="341.5" font-size="12.5" fill="#000" font-weight="bold">f</text>
<path d="M451.4 343.3L451.4 524" stroke="#b5b5b5" stroke-width="0.6" fill="none" stroke-dasharray="2.6 2"/>
<path d="M430.6 341.3L430.6 524" stroke="#8c8c8c" stroke-width="0.7" fill="none" />
<path d="M430.6 524L534.2 524" stroke="#8c8c8c" stroke-width="0.7" fill="none" />
<rect x="431" y="349" width="85.68" height="14.6" fill="#7b7b7b" stroke="#686868" stroke-width="0.6"/>
<path d="M428.1 356.3L430.6 356.3" stroke="#8c8c8c" stroke-width="0.7" fill="none" />
<text x="427" y="358.8" font-size="8.85" text-anchor="end" fill="#111">oxidoreductase activity</text>
<rect x="431" y="370.86" width="64.02" height="14.6" fill="#7b7b7b" stroke="#686868" stroke-width="0.6"/>
<path d="M428.1 378.16L430.6 378.16" stroke="#8c8c8c" stroke-width="0.7" fill="none" />
<text x="427" y="375.36" font-size="8.85" text-anchor="end" fill="#111">transmembrane</text>
<text x="427" y="385.56" font-size="8.85" text-anchor="end" fill="#111">transporter activity</text>
<rect x="431" y="392.72" width="34.19" height="14.6" fill="#7b7b7b" stroke="#686868" stroke-width="0.6"/>
<path d="M428.1 400.02L430.6 400.02" stroke="#8c8c8c" stroke-width="0.7" fill="none" />
<text x="427" y="402.52" font-size="8.85" text-anchor="end" fill="#111">modified amino acid binding</text>
<rect x="431" y="414.58" width="28.59" height="14.6" fill="#7b7b7b" stroke="#686868" stroke-width="0.6"/>
<path d="M428.1 421.88L430.6 421.88" stroke="#8c8c8c" stroke-width="0.7" fill="none" />
<text x="427" y="424.38" font-size="8.85" text-anchor="end" fill="#111">ion binding</text>
<rect x="431" y="436.44" width="17.61" height="14.6" fill="#7b7b7b" stroke="#686868" stroke-width="0.6"/>
<path d="M428.1 443.74L430.6 443.74" stroke="#8c8c8c" stroke-width="0.7" fill="none" />
<text x="427" y="446.24" font-size="8.85" text-anchor="end" fill="#111">small molecule binding</text>
<rect x="431" y="458.3" width="17.61" height="14.6" fill="#7b7b7b" stroke="#686868" stroke-width="0.6"/>
<path d="M428.1 465.6L430.6 465.6" stroke="#8c8c8c" stroke-width="0.7" fill="none" />
<text x="427" y="468.1" font-size="8.85" text-anchor="end" fill="#111">lipid binding</text>
<rect x="431" y="480.16" width="17.61" height="14.6" fill="#7b7b7b" stroke="#686868" stroke-width="0.6"/>
<path d="M428.1 487.46L430.6 487.46" stroke="#8c8c8c" stroke-width="0.7" fill="none" />
<text x="427" y="489.96" font-size="8.85" text-anchor="end" fill="#111">ligase activity</text>
<rect x="431" y="502.02" width="13.99" height="14.6" fill="#7b7b7b" stroke="#686868" stroke-width="0.6"/>
<path d="M428.1 509.32L430.6 509.32" stroke="#8c8c8c" stroke-width="0.7" fill="none" />
<text x="427" y="511.82" font-size="8.85" text-anchor="end" fill="#111">ATPase regulator activity</text>
<path d="M430.6 524L430.6 527" stroke="#8c8c8c" stroke-width="0.7" fill="none" />
<text x="430.6" y="534.6" font-size="8.7" text-anchor="middle" fill="#111">0</text>
<path d="M451.32 524L451.32 527" stroke="#8c8c8c" stroke-width="0.7" fill="none" />
<text x="451.32" y="534.6" font-size="8.7" text-anchor="middle" fill="#111">2</text>
<path d="M472.04 524L472.04 527" stroke="#8c8c8c" stroke-width="0.7" fill="none" />
<text x="472.04" y="534.6" font-size="8.7" text-anchor="middle" fill="#111">4</text>
<path d="M492.76 524L492.76 527" stroke="#8c8c8c" stroke-width="0.7" fill="none" />
<text x="492.76" y="534.6" font-size="8.7" text-anchor="middle" fill="#111">6</text>
<path d="M513.48 524L513.48 527" stroke="#8c8c8c" stroke-width="0.7" fill="none" />
<text x="513.48" y="534.6" font-size="8.7" text-anchor="middle" fill="#111">8</text>
<path d="M534.2 524L534.2 527" stroke="#8c8c8c" stroke-width="0.7" fill="none" />
<text x="532.7" y="534.6" font-size="8.7" text-anchor="middle" fill="#111">10</text>
<text x="485" y="544.7" font-size="8.5" fill="#111" text-anchor="middle">-log<tspan font-size="5.3" dy="1.6">10</tspan><tspan dy="-1.6">(</tspan><tspan font-style="italic">q</tspan>-value)</text>
<text x="4.6" y="566.2" font-size="12.5" fill="#000" font-weight="bold">g</text>
<rect x="33.9" y="579.1" width="15.4" height="8.9" fill="#8b5a2b"/>
<text x="41.6" y="586.7" font-size="7.6" text-anchor="middle" fill="#111" font-weight="bold">M2</text>
<rect x="51.1" y="579.1" width="15.4" height="8.9" fill="#1d2a7c"/>
<text x="58.8" y="586.7" font-size="7.6" text-anchor="middle" fill="#fff" font-weight="bold">M5</text>
<rect x="68.3" y="579.1" width="15.4" height="8.9" fill="#e2001a"/>
<text x="76" y="586.7" font-size="7.6" text-anchor="middle" fill="#111" font-weight="bold">M1</text>
<rect x="85.5" y="579.1" width="15.4" height="8.9" fill="#f3bfdc"/>
<text x="93.2" y="586.7" font-size="7.6" text-anchor="middle" fill="#111" font-weight="bold">M15</text>
<rect x="102.7" y="579.1" width="15.4" height="8.9" fill="#0a7a3c"/>
<text x="110.4" y="586.7" font-size="7.6" text-anchor="middle" fill="#111" font-weight="bold">M13</text>
<rect x="119.9" y="579.1" width="15.4" height="8.9" fill="#e5007d"/>
<text x="127.6" y="586.7" font-size="7.6" text-anchor="middle" fill="#111" font-weight="bold">M7</text>
<rect x="137.1" y="579.1" width="15.4" height="8.9" fill="#ffec00"/>
<text x="144.8" y="586.7" font-size="7.6" text-anchor="middle" fill="#111" font-weight="bold">M9</text>
<rect x="154.3" y="579.1" width="15.4" height="8.9" fill="#6ab42d"/>
<text x="162" y="586.7" font-size="7.6" text-anchor="middle" fill="#111" font-weight="bold">M12</text>
<rect x="171.5" y="579.1" width="15.4" height="8.9" fill="#009fe3"/>
<text x="179.2" y="586.7" font-size="7.6" text-anchor="middle" fill="#111" font-weight="bold">M3</text>
<rect x="188.7" y="579.1" width="15.4" height="8.9" fill="#c9b89b"/>
<text x="196.4" y="586.7" font-size="7.6" text-anchor="middle" fill="#111" font-weight="bold">M11</text>
<rect x="205.9" y="579.1" width="15.4" height="8.9" fill="#93117e"/>
<text x="213.6" y="586.7" font-size="7.6" text-anchor="middle" fill="#111" font-weight="bold">M4</text>
<rect x="223.1" y="579.1" width="15.4" height="8.9" fill="#1a1a1a"/>
<text x="230.8" y="586.7" font-size="7.6" text-anchor="middle" fill="#fff" font-weight="bold">M10</text>
<rect x="240.3" y="579.1" width="15.4" height="8.9" fill="#d3ebf6"/>
<text x="248" y="586.7" font-size="7.6" text-anchor="middle" fill="#111" font-weight="bold">M6</text>
<rect x="257.5" y="579.1" width="15.4" height="8.9" fill="#2e3192"/>
<text x="265.2" y="586.7" font-size="7.6" text-anchor="middle" fill="#fff" font-weight="bold">M16</text>
<rect x="274.7" y="579.1" width="15.4" height="8.9" fill="#5bbcd6"/>
<text x="282.4" y="586.7" font-size="7.6" text-anchor="middle" fill="#111" font-weight="bold">M8</text>
<rect x="291.9" y="579.1" width="15.4" height="8.9" fill="#f07167"/>
<text x="299.6" y="586.7" font-size="7.6" text-anchor="middle" fill="#111" font-weight="bold">M14</text>
<rect x="33.6" y="590.6" width="17.56" height="33.7" fill="#d6604d"/>
<rect x="33.6" y="624.1" width="17.56" height="33.4" fill="#f9efeb"/>
<rect x="50.86" y="590.6" width="17.56" height="33.7" fill="#f7b596"/>
<rect x="50.86" y="624.1" width="17.56" height="33.4" fill="#d5e6f0"/>
<rect x="68.12" y="590.6" width="17.56" height="33.7" fill="#c94741"/>
<rect x="68.12" y="624.1" width="17.56" height="33.4" fill="#f6b395"/>
<rect x="85.38" y="590.6" width="17.56" height="33.7" fill="#fce5d9"/>
<rect x="85.38" y="624.1" width="17.56" height="33.4" fill="#d45d4b"/>
<rect x="102.64" y="590.6" width="17.56" height="33.7" fill="#d8e7f0"/>
<rect x="102.64" y="624.1" width="17.56" height="33.4" fill="#fbcdb5"/>
<rect x="119.9" y="590.6" width="17.56" height="33.7" fill="#fbe6dc"/>
<rect x="119.9" y="624.1" width="17.56" height="33.4" fill="#f5a886"/>
<rect x="137.16" y="590.6" width="17.56" height="33.7" fill="#f09c7b"/>
<rect x="137.16" y="624.1" width="17.56" height="33.4" fill="#dc6e57"/>
<rect x="154.42" y="590.6" width="17.56" height="33.7" fill="#d4e5ef"/>
<rect x="154.42" y="624.1" width="17.56" height="33.4" fill="#ee9a7b"/>
<rect x="171.68" y="590.6" width="17.56" height="33.7" fill="#f8c4a9"/>
<rect x="171.68" y="624.1" width="17.56" height="33.4" fill="#fbe9e0"/>
<rect x="188.94" y="590.6" width="17.56" height="33.7" fill="#b81f2f"/>
<rect x="188.94" y="624.1" width="17.56" height="33.4" fill="#fbe8df"/>
<rect x="206.2" y="590.6" width="17.56" height="33.7" fill="#8fc0dc"/>
<rect x="206.2" y="624.1" width="17.56" height="33.4" fill="#f5f5f5"/>
<rect x="223.46" y="590.6" width="17.56" height="33.7" fill="#bcd8ea"/>
<rect x="223.46" y="624.1" width="17.56" height="33.4" fill="#eef2f5"/>
<rect x="240.72" y="590.6" width="17.56" height="33.7" fill="#c8dff0"/>
<rect x="240.72" y="624.1" width="17.56" height="33.4" fill="#cfe2f0"/>
<rect x="257.98" y="590.6" width="17.56" height="33.7" fill="#c5dcee"/>
<rect x="257.98" y="624.1" width="17.56" height="33.4" fill="#cfe2f0"/>
<rect x="275.24" y="590.6" width="17.56" height="33.7" fill="#6aaed4"/>
<rect x="275.24" y="624.1" width="17.56" height="33.4" fill="#f4f5f6"/>
<rect x="292.5" y="590.6" width="16" height="33.7" fill="#3b85bd"/>
<rect x="292.5" y="624.1" width="16" height="33.4" fill="#f3f4f5"/>
<text x="76" y="604.2" font-size="8.7" text-anchor="middle" fill="#fff" font-weight="bold">0.66</text>
<text x="76" y="615.6" font-size="8.7" text-anchor="middle" fill="#fff" font-weight="bold">*</text>
<text x="196.4" y="604.9" font-size="8.7" text-anchor="middle" fill="#fff" font-weight="bold">0.75</text>
<text x="196.4" y="616.8" font-size="8.7" text-anchor="middle" fill="#fff" font-weight="bold">***</text>
<text x="93.2" y="635.7" font-size="8.7" text-anchor="middle" fill="#111" font-weight="bold">0.61</text>
<text x="93.2" y="647.6" font-size="8.7" text-anchor="middle" fill="#111" font-weight="bold">***</text>
<text x="144.8" y="635.7" font-size="8.7" text-anchor="middle" fill="#111" font-weight="bold">0.57</text>
<text x="144.8" y="647.6" font-size="8.7" text-anchor="middle" fill="#111" font-weight="bold">***</text>
<text x="16.2" y="621.5" font-size="8.3" text-anchor="middle" fill="#111" transform="rotate(-90 16.2 621.5)">Wall:nest ratio</text>
<text x="30" y="607.2" font-size="7.6" text-anchor="middle" fill="#111" transform="rotate(-90 30 607.2)">Isolated</text>
<text x="30" y="641" font-size="7.6" text-anchor="middle" fill="#111" transform="rotate(-90 30 641)">Grouped</text>
<path d="M41.6 579.1V577.4H58.8V579.1M76 579.1V573.5H93.2V579.1M84.6 573.5V571.4H110.4V579.1M127.6 579.1V575.1H144.8V579.1M97.5 571.4V568.4H136.2V575.1M116.85 568.4V564.6H162V579.1M179.2 579.1V566.2H196.4V579.1M139.42 564.6V560.6H187.8V566.2M50.2 577.4V557.4H163.61V560.6M213.6 579.1V568.4H230.8V579.1M248 579.1V571.9H265.2V579.1M282.4 579.1V565.9H299.6V579.1M256.6 571.9V562.4H291V565.9M222.2 568.4V558H273.8V562.4M106.91 557.4V552.3H248V558" stroke="#555" stroke-width="0.55" fill="none"/>
<defs><linearGradient id="cr" x1="0" x2="1" y1="0" y2="0"><stop offset="0.00" stop-color="#053061"/><stop offset="0.10" stop-color="#2166ac"/><stop offset="0.20" stop-color="#4393c3"/><stop offset="0.30" stop-color="#92c5de"/><stop offset="0.40" stop-color="#d1e5f0"/><stop offset="0.50" stop-color="#f7f7f7"/><stop offset="0.60" stop-color="#fddbc7"/><stop offset="0.70" stop-color="#f4a582"/><stop offset="0.80" stop-color="#d6604d"/><stop offset="0.90" stop-color="#b2182b"/><stop offset="1.00" stop-color="#67001f"/></linearGradient></defs>
<rect x="246.4" y="662.7" width="62.4" height="9.3" fill="url(#cr)"/>
<text x="278.8" y="669.9" font-size="8.0" text-anchor="middle" fill="#111">Corr. R</text>
<text x="246.4" y="682" font-size="8.2" text-anchor="middle" fill="#111">-1</text>
<text x="262" y="682" font-size="8.2" text-anchor="middle" fill="#111">-0.5</text>
<text x="278" y="682" font-size="8.2" text-anchor="middle" fill="#111">0</text>
<text x="293.9" y="682" font-size="8.2" text-anchor="middle" fill="#111">0.5</text>
<text x="308.6" y="682" font-size="8.2" text-anchor="middle" fill="#111">1</text>
<text x="328.7" y="567.1" font-size="12.5" fill="#000" font-weight="bold">h</text>
<path d="M464.4 584.6L464.4 653.5" stroke="#b5b5b5" stroke-width="0.6" fill="none" stroke-dasharray="2.6 2"/>
<path d="M430.6 582.6L430.6 653.5" stroke="#8c8c8c" stroke-width="0.7" fill="none" />
<path d="M430.6 653.5L532.2 653.5" stroke="#8c8c8c" stroke-width="0.7" fill="none" />
<rect x="431" y="589" width="85.01" height="14.3" fill="#7b7b7b" stroke="#686868" stroke-width="0.6"/>
<path d="M428.1 596.15L430.6 596.15" stroke="#8c8c8c" stroke-width="0.7" fill="none" />
<text x="427.2" y="598.65" font-size="8.85" text-anchor="end" fill="#111">oxidoreductase activity</text>
<rect x="431" y="610.5" width="59.49" height="14.3" fill="#7b7b7b" stroke="#686868" stroke-width="0.6"/>
<path d="M428.1 617.65L430.6 617.65" stroke="#8c8c8c" stroke-width="0.7" fill="none" />
<text x="427.2" y="620.15" font-size="8.85" text-anchor="end" fill="#111">modified amino acid binding</text>
<rect x="431" y="632" width="27.72" height="14.3" fill="#9a9a9a" stroke="#7d7d7d" stroke-width="0.6"/>
<path d="M428.1 639.15L430.6 639.15" stroke="#8c8c8c" stroke-width="0.7" fill="none" />
<text x="427.2" y="636.35" font-size="8.85" text-anchor="end" fill="#111">transmembrane</text>
<text x="427.2" y="646.55" font-size="8.85" text-anchor="end" fill="#111">transporter activity</text>
<path d="M430.6 653.5L430.6 656.5" stroke="#8c8c8c" stroke-width="0.7" fill="none" />
<text x="430.6" y="663.8" font-size="8.7" text-anchor="middle" fill="#111">0</text>
<path d="M464.4 653.5L464.4 656.5" stroke="#8c8c8c" stroke-width="0.7" fill="none" />
<text x="464.4" y="663.8" font-size="8.7" text-anchor="middle" fill="#111">2</text>
<path d="M498.2 653.5L498.2 656.5" stroke="#8c8c8c" stroke-width="0.7" fill="none" />
<text x="498.2" y="663.8" font-size="8.7" text-anchor="middle" fill="#111">4</text>
<path d="M532 653.5L532 656.5" stroke="#8c8c8c" stroke-width="0.7" fill="none" />
<text x="532" y="663.8" font-size="8.7" text-anchor="middle" fill="#111">6</text>
<text x="484.6" y="675.3" font-size="8.5" fill="#111" text-anchor="middle">-log<tspan font-size="5.3" dy="1.6">10</tspan><tspan dy="-1.6">(</tspan><tspan font-style="italic">q</tspan>-value)</text>
</svg>
</body></html>
